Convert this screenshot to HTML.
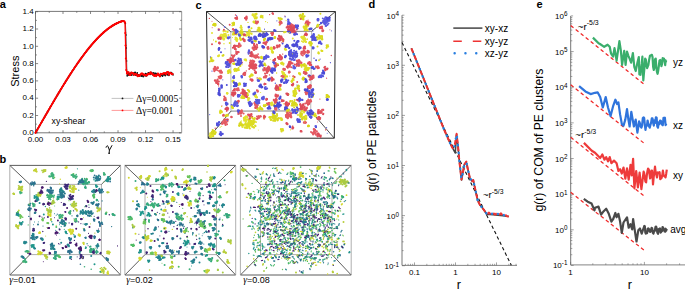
<!DOCTYPE html>
<html><head><meta charset="utf-8"><style>
html,body{margin:0;padding:0;background:#fff;width:685px;height:289px;overflow:hidden}
svg{display:block}
</style></head><body>
<svg width="685" height="289" viewBox="0 0 685 289">
<rect width="685" height="289" fill="#fff"/>
<text x="-0.3" y="8.2" font-size="11" text-anchor="start" font-family='"Liberation Sans", sans-serif' fill="#000" font-weight="bold">a</text>
<text x="-0.6" y="162.5" font-size="11" text-anchor="start" font-family='"Liberation Sans", sans-serif' fill="#000" font-weight="bold">b</text>
<text x="195.4" y="8.6" font-size="11" text-anchor="start" font-family='"Liberation Sans", sans-serif' fill="#000" font-weight="bold">c</text>
<text x="368.6" y="8.4" font-size="11" text-anchor="start" font-family='"Liberation Sans", sans-serif' fill="#000" font-weight="bold">d</text>
<text x="536.6" y="8.2" font-size="11" text-anchor="start" font-family='"Liberation Sans", sans-serif' fill="#000" font-weight="bold">e</text>
<line x1="35.5" y1="132.8" x2="181.6" y2="132.8" stroke="#555" stroke-width="0.8" />
<line x1="35.5" y1="11.4" x2="181.6" y2="11.4" stroke="#555" stroke-width="0.8" />
<line x1="35.5" y1="132.8" x2="35.5" y2="11.4" stroke="#555" stroke-width="0.8" />
<line x1="181.6" y1="132.8" x2="181.6" y2="11.4" stroke="#aaa" stroke-width="1.2" />
<line x1="35.5" y1="132.8" x2="35.5" y2="130.2" stroke="#555" stroke-width="0.7" />
<line x1="35.5" y1="11.4" x2="35.5" y2="14" stroke="#555" stroke-width="0.7" />
<line x1="49.25" y1="132.8" x2="49.25" y2="131.4" stroke="#555" stroke-width="0.7" />
<line x1="49.25" y1="11.4" x2="49.25" y2="12.8" stroke="#555" stroke-width="0.7" />
<line x1="63.01" y1="132.8" x2="63.01" y2="130.2" stroke="#555" stroke-width="0.7" />
<line x1="63.01" y1="11.4" x2="63.01" y2="14" stroke="#555" stroke-width="0.7" />
<line x1="76.77" y1="132.8" x2="76.77" y2="131.4" stroke="#555" stroke-width="0.7" />
<line x1="76.77" y1="11.4" x2="76.77" y2="12.8" stroke="#555" stroke-width="0.7" />
<line x1="90.52" y1="132.8" x2="90.52" y2="130.2" stroke="#555" stroke-width="0.7" />
<line x1="90.52" y1="11.4" x2="90.52" y2="14" stroke="#555" stroke-width="0.7" />
<line x1="104.27" y1="132.8" x2="104.27" y2="131.4" stroke="#555" stroke-width="0.7" />
<line x1="104.27" y1="11.4" x2="104.27" y2="12.8" stroke="#555" stroke-width="0.7" />
<line x1="118.03" y1="132.8" x2="118.03" y2="130.2" stroke="#555" stroke-width="0.7" />
<line x1="118.03" y1="11.4" x2="118.03" y2="14" stroke="#555" stroke-width="0.7" />
<line x1="131.78" y1="132.8" x2="131.78" y2="131.4" stroke="#555" stroke-width="0.7" />
<line x1="131.78" y1="11.4" x2="131.78" y2="12.8" stroke="#555" stroke-width="0.7" />
<line x1="145.54" y1="132.8" x2="145.54" y2="130.2" stroke="#555" stroke-width="0.7" />
<line x1="145.54" y1="11.4" x2="145.54" y2="14" stroke="#555" stroke-width="0.7" />
<line x1="159.3" y1="132.8" x2="159.3" y2="131.4" stroke="#555" stroke-width="0.7" />
<line x1="159.3" y1="11.4" x2="159.3" y2="12.8" stroke="#555" stroke-width="0.7" />
<line x1="173.05" y1="132.8" x2="173.05" y2="130.2" stroke="#555" stroke-width="0.7" />
<line x1="173.05" y1="11.4" x2="173.05" y2="14" stroke="#555" stroke-width="0.7" />
<line x1="35.5" y1="132.8" x2="38.1" y2="132.8" stroke="#555" stroke-width="0.7" />
<line x1="181.6" y1="132.8" x2="179" y2="132.8" stroke="#555" stroke-width="0.7" />
<line x1="35.5" y1="124.15" x2="36.9" y2="124.15" stroke="#555" stroke-width="0.7" />
<line x1="181.6" y1="124.15" x2="180.2" y2="124.15" stroke="#555" stroke-width="0.7" />
<line x1="35.5" y1="115.5" x2="38.1" y2="115.5" stroke="#555" stroke-width="0.7" />
<line x1="181.6" y1="115.5" x2="179" y2="115.5" stroke="#555" stroke-width="0.7" />
<line x1="35.5" y1="106.85" x2="36.9" y2="106.85" stroke="#555" stroke-width="0.7" />
<line x1="181.6" y1="106.85" x2="180.2" y2="106.85" stroke="#555" stroke-width="0.7" />
<line x1="35.5" y1="98.2" x2="38.1" y2="98.2" stroke="#555" stroke-width="0.7" />
<line x1="181.6" y1="98.2" x2="179" y2="98.2" stroke="#555" stroke-width="0.7" />
<line x1="35.5" y1="89.55" x2="36.9" y2="89.55" stroke="#555" stroke-width="0.7" />
<line x1="181.6" y1="89.55" x2="180.2" y2="89.55" stroke="#555" stroke-width="0.7" />
<line x1="35.5" y1="80.9" x2="38.1" y2="80.9" stroke="#555" stroke-width="0.7" />
<line x1="181.6" y1="80.9" x2="179" y2="80.9" stroke="#555" stroke-width="0.7" />
<line x1="35.5" y1="72.25" x2="36.9" y2="72.25" stroke="#555" stroke-width="0.7" />
<line x1="181.6" y1="72.25" x2="180.2" y2="72.25" stroke="#555" stroke-width="0.7" />
<line x1="35.5" y1="63.6" x2="38.1" y2="63.6" stroke="#555" stroke-width="0.7" />
<line x1="181.6" y1="63.6" x2="179" y2="63.6" stroke="#555" stroke-width="0.7" />
<line x1="35.5" y1="54.95" x2="36.9" y2="54.95" stroke="#555" stroke-width="0.7" />
<line x1="181.6" y1="54.95" x2="180.2" y2="54.95" stroke="#555" stroke-width="0.7" />
<line x1="35.5" y1="46.3" x2="38.1" y2="46.3" stroke="#555" stroke-width="0.7" />
<line x1="181.6" y1="46.3" x2="179" y2="46.3" stroke="#555" stroke-width="0.7" />
<line x1="35.5" y1="37.65" x2="36.9" y2="37.65" stroke="#555" stroke-width="0.7" />
<line x1="181.6" y1="37.65" x2="180.2" y2="37.65" stroke="#555" stroke-width="0.7" />
<line x1="35.5" y1="29" x2="38.1" y2="29" stroke="#555" stroke-width="0.7" />
<line x1="181.6" y1="29" x2="179" y2="29" stroke="#555" stroke-width="0.7" />
<line x1="35.5" y1="20.35" x2="36.9" y2="20.35" stroke="#555" stroke-width="0.7" />
<line x1="181.6" y1="20.35" x2="180.2" y2="20.35" stroke="#555" stroke-width="0.7" />
<line x1="35.5" y1="11.7" x2="38.1" y2="11.7" stroke="#555" stroke-width="0.7" />
<line x1="181.6" y1="11.7" x2="179" y2="11.7" stroke="#555" stroke-width="0.7" />
<text x="35.5" y="142" font-size="8" text-anchor="middle" font-family='"Liberation Sans", sans-serif' fill="#000" >0.00</text>
<text x="63.01" y="142" font-size="8" text-anchor="middle" font-family='"Liberation Sans", sans-serif' fill="#000" >0.03</text>
<text x="90.52" y="142" font-size="8" text-anchor="middle" font-family='"Liberation Sans", sans-serif' fill="#000" >0.06</text>
<text x="118.03" y="142" font-size="8" text-anchor="middle" font-family='"Liberation Sans", sans-serif' fill="#000" >0.09</text>
<text x="145.54" y="142" font-size="8" text-anchor="middle" font-family='"Liberation Sans", sans-serif' fill="#000" >0.12</text>
<text x="173.05" y="142" font-size="8" text-anchor="middle" font-family='"Liberation Sans", sans-serif' fill="#000" >0.15</text>
<text x="33.6" y="135" font-size="8" text-anchor="end" font-family='"Liberation Sans", sans-serif' fill="#000" >0.0</text>
<text x="33.6" y="117.7" font-size="8" text-anchor="end" font-family='"Liberation Sans", sans-serif' fill="#000" >0.2</text>
<text x="33.6" y="100.4" font-size="8" text-anchor="end" font-family='"Liberation Sans", sans-serif' fill="#000" >0.4</text>
<text x="33.6" y="83.1" font-size="8" text-anchor="end" font-family='"Liberation Sans", sans-serif' fill="#000" >0.6</text>
<text x="33.6" y="65.8" font-size="8" text-anchor="end" font-family='"Liberation Sans", sans-serif' fill="#000" >0.8</text>
<text x="33.6" y="48.5" font-size="8" text-anchor="end" font-family='"Liberation Sans", sans-serif' fill="#000" >1.0</text>
<text x="33.6" y="31.2" font-size="8" text-anchor="end" font-family='"Liberation Sans", sans-serif' fill="#000" >1.2</text>
<text x="33.6" y="13.9" font-size="8" text-anchor="end" font-family='"Liberation Sans", sans-serif' fill="#000" >1.4</text>
<text transform="translate(18.7,71.2) rotate(-90)" font-size="11" text-anchor="middle" font-family='"Liberation Sans", sans-serif'>Stress</text>
<path d="M106.1,147.3 C106.4,145.9 107.3,145.3 108,146.3 L109.4,150.2 M111.9,145.6 L109.4,150.2 L109.1,153.4" fill="none" stroke="#000" stroke-width="0.95" stroke-linecap="round"/><circle cx="109.1" cy="153.3" r="0.75"/>
<text x="51.6" y="123.9" font-size="8.8" text-anchor="start" font-family='"Liberation Sans", sans-serif' fill="#000" >xy-shear</text>
<polyline points="35.5,132.8 35.96,132.01 36.42,131.21 36.88,130.42 37.33,129.63 37.79,128.83 38.25,128.04 38.71,127.24 39.17,126.45 39.63,125.65 40.09,124.86 40.54,124.06 41,123.26 41.46,122.47 41.92,121.67 42.38,120.88 42.84,120.08 43.29,119.29 43.75,118.49 44.21,117.7 44.67,116.9 45.13,116.11 45.59,115.31 46.05,114.52 46.5,113.73 46.96,112.94 47.42,112.14 47.88,111.35 48.34,110.56 48.8,109.77 49.25,108.98 49.71,108.2 50.17,107.41 50.63,106.62 51.09,105.84 51.55,105.05 52.01,104.27 52.46,103.48 52.92,102.7 53.38,101.92 53.84,101.14 54.3,100.36 54.76,99.59 55.22,98.81 55.67,98.03 56.13,97.26 56.59,96.49 57.05,95.72 57.51,94.95 57.97,94.18 58.42,93.42 58.88,92.65 59.34,91.89 59.8,91.13 60.26,90.37 60.72,89.61 61.18,88.86 61.63,88.1 62.09,87.35 62.55,86.6 63.01,85.85 63.47,85.1 63.93,84.36 64.39,83.62 64.84,82.88 65.3,82.14 65.76,81.41 66.22,80.67 66.68,79.94 67.14,79.21 67.59,78.49 68.05,77.76 68.51,77.04 68.97,76.32 69.43,75.61 69.89,74.89 70.35,74.18 70.8,73.47 71.26,72.77 71.72,72.07 72.18,71.37 72.64,70.67 73.1,69.98 73.56,69.28 74.01,68.6 74.47,67.91 74.93,67.23 75.39,66.55 75.85,65.87 76.31,65.2 76.77,64.53 77.22,63.87 77.68,63.2 78.14,62.54 78.6,61.89 79.06,61.23 79.52,60.58 79.97,59.94 80.43,59.3 80.89,58.66 81.35,58.02 81.81,57.39 82.27,56.76 82.73,56.14 83.18,55.52 83.64,54.9 84.1,54.29 84.56,53.68 85.02,53.08 85.48,52.48 85.94,51.88 86.39,51.29 86.85,50.7 87.31,50.12 87.77,49.54 88.23,48.97 88.69,48.39 89.14,47.83 89.6,47.27 90.06,46.71 90.52,46.16 90.98,45.61 91.44,45.06 91.9,44.52 92.35,43.99 92.81,43.46 93.27,42.93 93.73,42.41 94.19,41.9 94.65,41.39 95.11,40.88 95.56,40.38 96.02,39.88 96.48,39.39 96.94,38.91 97.4,38.42 97.86,37.95 98.31,37.48 98.77,37.01 99.23,36.55 99.69,36.1 100.15,35.65 100.61,35.2 101.07,34.77 101.52,34.33 101.98,33.91 102.44,33.48 102.9,33.07 103.36,32.66 103.82,32.25 104.27,31.85 104.73,31.46 105.19,31.07 105.65,30.69 106.11,30.31 106.57,29.94 107.03,29.58 107.48,29.22 107.94,28.87 108.4,28.53 108.86,28.19 109.32,27.85 109.78,27.53 110.24,27.21 110.69,26.89 111.15,26.58 111.61,26.28 112.07,25.99 112.53,25.7 112.99,25.42 113.45,25.14 113.9,24.87 114.36,24.61 114.82,24.35 115.28,24.1 115.74,23.86 116.2,23.63 116.65,23.4 117.11,23.18 117.57,22.96 118.03,22.76 118.49,22.56 118.95,22.36 119.41,22.18 119.86,22 120.32,21.82 120.78,21.66 121.24,21.5 121.7,21.35 122.16,21.21 122.61,21.07 123.07,20.95 124.2,21.6 125.4,23.5 126,35 126.3,48 126.6,61 126.9,71.5 127.4,73.8 127.2,75.9 127.66,73.56 128.12,73.69 128.58,75.15 129.03,74.27 129.49,74.29 129.95,73.54 130.41,73 130.87,75.07 131.33,75.19 131.79,72.6 132.24,73.81 132.7,72.75 133.16,75.1 133.62,73.72 134.08,72.89 134.54,74.46 134.99,72.29 135.45,72.51 135.91,75.31 136.37,75.43 136.83,73.94 137.29,72.82 137.75,74.69 138.2,75.33 138.66,74.82 139.12,76.17 139.58,75.69 140.04,75.12 140.5,75.04 140.96,75.94 141.41,76.02 141.87,76.11 142.33,75.39 142.79,75.93 143.25,76.76 143.71,74.19 144.16,75.03 144.62,74.7 145.08,76.04 145.54,73.44 146,73.74 146.46,75.93 146.92,75.15 147.37,73.81 147.83,73.71 148.29,72.88 148.75,74.36 149.21,72.97 149.67,73.36 150.13,74.4 150.58,73.44 151.04,72.45 151.5,72.51 151.96,73.54 152.42,73.27 152.88,75 153.33,74.38 153.79,72.7 154.25,73.96 154.71,74.79 155.17,73.71 155.63,73.33 156.09,73.54 156.54,74.6 157,74.52 157.46,74.44 157.92,73.73 158.38,74.65 158.84,75.17 159.3,74.97 159.75,76.5 160.21,76.54 160.67,74.55 161.13,73.73 161.59,74.98 162.05,75.61 162.5,76.3 162.96,75.23 163.42,73.69 163.88,74.29 164.34,74.93 164.8,73.84 165.26,75.69 165.71,74.69 166.17,73.2 166.63,74.24 167.09,74.48 167.55,74.94 168.01,73.95 168.47,72.56 168.92,75.42 169.38,72.9 169.84,72.7 170.3,72.43 170.76,72.84 171.22,72.59 171.67,73.49 172.13,73.37 172.59,73.82 173.05,75.01" fill="none" stroke="#222" stroke-width="0.7" stroke-linejoin="round" />
<circle cx="35.5" cy="132.8" r="0.8" fill="#111"/>
<circle cx="35.96" cy="132.01" r="0.8" fill="#111"/>
<circle cx="36.42" cy="131.21" r="0.8" fill="#111"/>
<circle cx="36.88" cy="130.42" r="0.8" fill="#111"/>
<circle cx="37.33" cy="129.63" r="0.8" fill="#111"/>
<circle cx="37.79" cy="128.83" r="0.8" fill="#111"/>
<circle cx="38.25" cy="128.04" r="0.8" fill="#111"/>
<circle cx="38.71" cy="127.24" r="0.8" fill="#111"/>
<circle cx="39.17" cy="126.45" r="0.8" fill="#111"/>
<circle cx="39.63" cy="125.65" r="0.8" fill="#111"/>
<circle cx="40.09" cy="124.86" r="0.8" fill="#111"/>
<circle cx="40.54" cy="124.06" r="0.8" fill="#111"/>
<circle cx="41" cy="123.26" r="0.8" fill="#111"/>
<circle cx="41.46" cy="122.47" r="0.8" fill="#111"/>
<circle cx="41.92" cy="121.67" r="0.8" fill="#111"/>
<circle cx="42.38" cy="120.88" r="0.8" fill="#111"/>
<circle cx="42.84" cy="120.08" r="0.8" fill="#111"/>
<circle cx="43.29" cy="119.29" r="0.8" fill="#111"/>
<circle cx="43.75" cy="118.49" r="0.8" fill="#111"/>
<circle cx="44.21" cy="117.7" r="0.8" fill="#111"/>
<circle cx="44.67" cy="116.9" r="0.8" fill="#111"/>
<circle cx="45.13" cy="116.11" r="0.8" fill="#111"/>
<circle cx="45.59" cy="115.31" r="0.8" fill="#111"/>
<circle cx="46.05" cy="114.52" r="0.8" fill="#111"/>
<circle cx="46.5" cy="113.73" r="0.8" fill="#111"/>
<circle cx="46.96" cy="112.94" r="0.8" fill="#111"/>
<circle cx="47.42" cy="112.14" r="0.8" fill="#111"/>
<circle cx="47.88" cy="111.35" r="0.8" fill="#111"/>
<circle cx="48.34" cy="110.56" r="0.8" fill="#111"/>
<circle cx="48.8" cy="109.77" r="0.8" fill="#111"/>
<circle cx="49.25" cy="108.98" r="0.8" fill="#111"/>
<circle cx="49.71" cy="108.2" r="0.8" fill="#111"/>
<circle cx="50.17" cy="107.41" r="0.8" fill="#111"/>
<circle cx="50.63" cy="106.62" r="0.8" fill="#111"/>
<circle cx="51.09" cy="105.84" r="0.8" fill="#111"/>
<circle cx="51.55" cy="105.05" r="0.8" fill="#111"/>
<circle cx="52.01" cy="104.27" r="0.8" fill="#111"/>
<circle cx="52.46" cy="103.48" r="0.8" fill="#111"/>
<circle cx="52.92" cy="102.7" r="0.8" fill="#111"/>
<circle cx="53.38" cy="101.92" r="0.8" fill="#111"/>
<circle cx="53.84" cy="101.14" r="0.8" fill="#111"/>
<circle cx="54.3" cy="100.36" r="0.8" fill="#111"/>
<circle cx="54.76" cy="99.59" r="0.8" fill="#111"/>
<circle cx="55.22" cy="98.81" r="0.8" fill="#111"/>
<circle cx="55.67" cy="98.03" r="0.8" fill="#111"/>
<circle cx="56.13" cy="97.26" r="0.8" fill="#111"/>
<circle cx="56.59" cy="96.49" r="0.8" fill="#111"/>
<circle cx="57.05" cy="95.72" r="0.8" fill="#111"/>
<circle cx="57.51" cy="94.95" r="0.8" fill="#111"/>
<circle cx="57.97" cy="94.18" r="0.8" fill="#111"/>
<circle cx="58.42" cy="93.42" r="0.8" fill="#111"/>
<circle cx="58.88" cy="92.65" r="0.8" fill="#111"/>
<circle cx="59.34" cy="91.89" r="0.8" fill="#111"/>
<circle cx="59.8" cy="91.13" r="0.8" fill="#111"/>
<circle cx="60.26" cy="90.37" r="0.8" fill="#111"/>
<circle cx="60.72" cy="89.61" r="0.8" fill="#111"/>
<circle cx="61.18" cy="88.86" r="0.8" fill="#111"/>
<circle cx="61.63" cy="88.1" r="0.8" fill="#111"/>
<circle cx="62.09" cy="87.35" r="0.8" fill="#111"/>
<circle cx="62.55" cy="86.6" r="0.8" fill="#111"/>
<circle cx="63.01" cy="85.85" r="0.8" fill="#111"/>
<circle cx="63.47" cy="85.1" r="0.8" fill="#111"/>
<circle cx="63.93" cy="84.36" r="0.8" fill="#111"/>
<circle cx="64.39" cy="83.62" r="0.8" fill="#111"/>
<circle cx="64.84" cy="82.88" r="0.8" fill="#111"/>
<circle cx="65.3" cy="82.14" r="0.8" fill="#111"/>
<circle cx="65.76" cy="81.41" r="0.8" fill="#111"/>
<circle cx="66.22" cy="80.67" r="0.8" fill="#111"/>
<circle cx="66.68" cy="79.94" r="0.8" fill="#111"/>
<circle cx="67.14" cy="79.21" r="0.8" fill="#111"/>
<circle cx="67.59" cy="78.49" r="0.8" fill="#111"/>
<circle cx="68.05" cy="77.76" r="0.8" fill="#111"/>
<circle cx="68.51" cy="77.04" r="0.8" fill="#111"/>
<circle cx="68.97" cy="76.32" r="0.8" fill="#111"/>
<circle cx="69.43" cy="75.61" r="0.8" fill="#111"/>
<circle cx="69.89" cy="74.89" r="0.8" fill="#111"/>
<circle cx="70.35" cy="74.18" r="0.8" fill="#111"/>
<circle cx="70.8" cy="73.47" r="0.8" fill="#111"/>
<circle cx="71.26" cy="72.77" r="0.8" fill="#111"/>
<circle cx="71.72" cy="72.07" r="0.8" fill="#111"/>
<circle cx="72.18" cy="71.37" r="0.8" fill="#111"/>
<circle cx="72.64" cy="70.67" r="0.8" fill="#111"/>
<circle cx="73.1" cy="69.98" r="0.8" fill="#111"/>
<circle cx="73.56" cy="69.28" r="0.8" fill="#111"/>
<circle cx="74.01" cy="68.6" r="0.8" fill="#111"/>
<circle cx="74.47" cy="67.91" r="0.8" fill="#111"/>
<circle cx="74.93" cy="67.23" r="0.8" fill="#111"/>
<circle cx="75.39" cy="66.55" r="0.8" fill="#111"/>
<circle cx="75.85" cy="65.87" r="0.8" fill="#111"/>
<circle cx="76.31" cy="65.2" r="0.8" fill="#111"/>
<circle cx="76.77" cy="64.53" r="0.8" fill="#111"/>
<circle cx="77.22" cy="63.87" r="0.8" fill="#111"/>
<circle cx="77.68" cy="63.2" r="0.8" fill="#111"/>
<circle cx="78.14" cy="62.54" r="0.8" fill="#111"/>
<circle cx="78.6" cy="61.89" r="0.8" fill="#111"/>
<circle cx="79.06" cy="61.23" r="0.8" fill="#111"/>
<circle cx="79.52" cy="60.58" r="0.8" fill="#111"/>
<circle cx="79.97" cy="59.94" r="0.8" fill="#111"/>
<circle cx="80.43" cy="59.3" r="0.8" fill="#111"/>
<circle cx="80.89" cy="58.66" r="0.8" fill="#111"/>
<circle cx="81.35" cy="58.02" r="0.8" fill="#111"/>
<circle cx="81.81" cy="57.39" r="0.8" fill="#111"/>
<circle cx="82.27" cy="56.76" r="0.8" fill="#111"/>
<circle cx="82.73" cy="56.14" r="0.8" fill="#111"/>
<circle cx="83.18" cy="55.52" r="0.8" fill="#111"/>
<circle cx="83.64" cy="54.9" r="0.8" fill="#111"/>
<circle cx="84.1" cy="54.29" r="0.8" fill="#111"/>
<circle cx="84.56" cy="53.68" r="0.8" fill="#111"/>
<circle cx="85.02" cy="53.08" r="0.8" fill="#111"/>
<circle cx="85.48" cy="52.48" r="0.8" fill="#111"/>
<circle cx="85.94" cy="51.88" r="0.8" fill="#111"/>
<circle cx="86.39" cy="51.29" r="0.8" fill="#111"/>
<circle cx="86.85" cy="50.7" r="0.8" fill="#111"/>
<circle cx="87.31" cy="50.12" r="0.8" fill="#111"/>
<circle cx="87.77" cy="49.54" r="0.8" fill="#111"/>
<circle cx="88.23" cy="48.97" r="0.8" fill="#111"/>
<circle cx="88.69" cy="48.39" r="0.8" fill="#111"/>
<circle cx="89.14" cy="47.83" r="0.8" fill="#111"/>
<circle cx="89.6" cy="47.27" r="0.8" fill="#111"/>
<circle cx="90.06" cy="46.71" r="0.8" fill="#111"/>
<circle cx="90.52" cy="46.16" r="0.8" fill="#111"/>
<circle cx="90.98" cy="45.61" r="0.8" fill="#111"/>
<circle cx="91.44" cy="45.06" r="0.8" fill="#111"/>
<circle cx="91.9" cy="44.52" r="0.8" fill="#111"/>
<circle cx="92.35" cy="43.99" r="0.8" fill="#111"/>
<circle cx="92.81" cy="43.46" r="0.8" fill="#111"/>
<circle cx="93.27" cy="42.93" r="0.8" fill="#111"/>
<circle cx="93.73" cy="42.41" r="0.8" fill="#111"/>
<circle cx="94.19" cy="41.9" r="0.8" fill="#111"/>
<circle cx="94.65" cy="41.39" r="0.8" fill="#111"/>
<circle cx="95.11" cy="40.88" r="0.8" fill="#111"/>
<circle cx="95.56" cy="40.38" r="0.8" fill="#111"/>
<circle cx="96.02" cy="39.88" r="0.8" fill="#111"/>
<circle cx="96.48" cy="39.39" r="0.8" fill="#111"/>
<circle cx="96.94" cy="38.91" r="0.8" fill="#111"/>
<circle cx="97.4" cy="38.42" r="0.8" fill="#111"/>
<circle cx="97.86" cy="37.95" r="0.8" fill="#111"/>
<circle cx="98.31" cy="37.48" r="0.8" fill="#111"/>
<circle cx="98.77" cy="37.01" r="0.8" fill="#111"/>
<circle cx="99.23" cy="36.55" r="0.8" fill="#111"/>
<circle cx="99.69" cy="36.1" r="0.8" fill="#111"/>
<circle cx="100.15" cy="35.65" r="0.8" fill="#111"/>
<circle cx="100.61" cy="35.2" r="0.8" fill="#111"/>
<circle cx="101.07" cy="34.77" r="0.8" fill="#111"/>
<circle cx="101.52" cy="34.33" r="0.8" fill="#111"/>
<circle cx="101.98" cy="33.91" r="0.8" fill="#111"/>
<circle cx="102.44" cy="33.48" r="0.8" fill="#111"/>
<circle cx="102.9" cy="33.07" r="0.8" fill="#111"/>
<circle cx="103.36" cy="32.66" r="0.8" fill="#111"/>
<circle cx="103.82" cy="32.25" r="0.8" fill="#111"/>
<circle cx="104.27" cy="31.85" r="0.8" fill="#111"/>
<circle cx="104.73" cy="31.46" r="0.8" fill="#111"/>
<circle cx="105.19" cy="31.07" r="0.8" fill="#111"/>
<circle cx="105.65" cy="30.69" r="0.8" fill="#111"/>
<circle cx="106.11" cy="30.31" r="0.8" fill="#111"/>
<circle cx="106.57" cy="29.94" r="0.8" fill="#111"/>
<circle cx="107.03" cy="29.58" r="0.8" fill="#111"/>
<circle cx="107.48" cy="29.22" r="0.8" fill="#111"/>
<circle cx="107.94" cy="28.87" r="0.8" fill="#111"/>
<circle cx="108.4" cy="28.53" r="0.8" fill="#111"/>
<circle cx="108.86" cy="28.19" r="0.8" fill="#111"/>
<circle cx="109.32" cy="27.85" r="0.8" fill="#111"/>
<circle cx="109.78" cy="27.53" r="0.8" fill="#111"/>
<circle cx="110.24" cy="27.21" r="0.8" fill="#111"/>
<circle cx="110.69" cy="26.89" r="0.8" fill="#111"/>
<circle cx="111.15" cy="26.58" r="0.8" fill="#111"/>
<circle cx="111.61" cy="26.28" r="0.8" fill="#111"/>
<circle cx="112.07" cy="25.99" r="0.8" fill="#111"/>
<circle cx="112.53" cy="25.7" r="0.8" fill="#111"/>
<circle cx="112.99" cy="25.42" r="0.8" fill="#111"/>
<circle cx="113.45" cy="25.14" r="0.8" fill="#111"/>
<circle cx="113.9" cy="24.87" r="0.8" fill="#111"/>
<circle cx="114.36" cy="24.61" r="0.8" fill="#111"/>
<circle cx="114.82" cy="24.35" r="0.8" fill="#111"/>
<circle cx="115.28" cy="24.1" r="0.8" fill="#111"/>
<circle cx="115.74" cy="23.86" r="0.8" fill="#111"/>
<circle cx="116.2" cy="23.63" r="0.8" fill="#111"/>
<circle cx="116.65" cy="23.4" r="0.8" fill="#111"/>
<circle cx="117.11" cy="23.18" r="0.8" fill="#111"/>
<circle cx="117.57" cy="22.96" r="0.8" fill="#111"/>
<circle cx="118.03" cy="22.76" r="0.8" fill="#111"/>
<circle cx="118.49" cy="22.56" r="0.8" fill="#111"/>
<circle cx="118.95" cy="22.36" r="0.8" fill="#111"/>
<circle cx="119.41" cy="22.18" r="0.8" fill="#111"/>
<circle cx="119.86" cy="22" r="0.8" fill="#111"/>
<circle cx="120.32" cy="21.82" r="0.8" fill="#111"/>
<circle cx="120.78" cy="21.66" r="0.8" fill="#111"/>
<circle cx="121.24" cy="21.5" r="0.8" fill="#111"/>
<circle cx="121.7" cy="21.35" r="0.8" fill="#111"/>
<circle cx="122.16" cy="21.21" r="0.8" fill="#111"/>
<circle cx="122.61" cy="21.07" r="0.8" fill="#111"/>
<circle cx="123.07" cy="20.95" r="0.8" fill="#111"/>
<circle cx="124.2" cy="21.6" r="0.8" fill="#111"/>
<circle cx="125.4" cy="23.5" r="0.8" fill="#111"/>
<circle cx="126" cy="35" r="0.8" fill="#111"/>
<circle cx="126.3" cy="48" r="0.8" fill="#111"/>
<circle cx="126.6" cy="61" r="0.8" fill="#111"/>
<circle cx="126.9" cy="71.5" r="0.8" fill="#111"/>
<circle cx="127.4" cy="73.8" r="0.8" fill="#111"/>
<circle cx="127.2" cy="75.9" r="0.8" fill="#111"/>
<circle cx="127.66" cy="73.56" r="0.8" fill="#111"/>
<circle cx="128.12" cy="73.69" r="0.8" fill="#111"/>
<circle cx="128.58" cy="75.15" r="0.8" fill="#111"/>
<circle cx="129.03" cy="74.27" r="0.8" fill="#111"/>
<circle cx="129.49" cy="74.29" r="0.8" fill="#111"/>
<circle cx="129.95" cy="73.54" r="0.8" fill="#111"/>
<circle cx="130.41" cy="73" r="0.8" fill="#111"/>
<circle cx="130.87" cy="75.07" r="0.8" fill="#111"/>
<circle cx="131.33" cy="75.19" r="0.8" fill="#111"/>
<circle cx="131.79" cy="72.6" r="0.8" fill="#111"/>
<circle cx="132.24" cy="73.81" r="0.8" fill="#111"/>
<circle cx="132.7" cy="72.75" r="0.8" fill="#111"/>
<circle cx="133.16" cy="75.1" r="0.8" fill="#111"/>
<circle cx="133.62" cy="73.72" r="0.8" fill="#111"/>
<circle cx="134.08" cy="72.89" r="0.8" fill="#111"/>
<circle cx="134.54" cy="74.46" r="0.8" fill="#111"/>
<circle cx="134.99" cy="72.29" r="0.8" fill="#111"/>
<circle cx="135.45" cy="72.51" r="0.8" fill="#111"/>
<circle cx="135.91" cy="75.31" r="0.8" fill="#111"/>
<circle cx="136.37" cy="75.43" r="0.8" fill="#111"/>
<circle cx="136.83" cy="73.94" r="0.8" fill="#111"/>
<circle cx="137.29" cy="72.82" r="0.8" fill="#111"/>
<circle cx="137.75" cy="74.69" r="0.8" fill="#111"/>
<circle cx="138.2" cy="75.33" r="0.8" fill="#111"/>
<circle cx="138.66" cy="74.82" r="0.8" fill="#111"/>
<circle cx="139.12" cy="76.17" r="0.8" fill="#111"/>
<circle cx="139.58" cy="75.69" r="0.8" fill="#111"/>
<circle cx="140.04" cy="75.12" r="0.8" fill="#111"/>
<circle cx="140.5" cy="75.04" r="0.8" fill="#111"/>
<circle cx="140.96" cy="75.94" r="0.8" fill="#111"/>
<circle cx="141.41" cy="76.02" r="0.8" fill="#111"/>
<circle cx="141.87" cy="76.11" r="0.8" fill="#111"/>
<circle cx="142.33" cy="75.39" r="0.8" fill="#111"/>
<circle cx="142.79" cy="75.93" r="0.8" fill="#111"/>
<circle cx="143.25" cy="76.76" r="0.8" fill="#111"/>
<circle cx="143.71" cy="74.19" r="0.8" fill="#111"/>
<circle cx="144.16" cy="75.03" r="0.8" fill="#111"/>
<circle cx="144.62" cy="74.7" r="0.8" fill="#111"/>
<circle cx="145.08" cy="76.04" r="0.8" fill="#111"/>
<circle cx="145.54" cy="73.44" r="0.8" fill="#111"/>
<circle cx="146" cy="73.74" r="0.8" fill="#111"/>
<circle cx="146.46" cy="75.93" r="0.8" fill="#111"/>
<circle cx="146.92" cy="75.15" r="0.8" fill="#111"/>
<circle cx="147.37" cy="73.81" r="0.8" fill="#111"/>
<circle cx="147.83" cy="73.71" r="0.8" fill="#111"/>
<circle cx="148.29" cy="72.88" r="0.8" fill="#111"/>
<circle cx="148.75" cy="74.36" r="0.8" fill="#111"/>
<circle cx="149.21" cy="72.97" r="0.8" fill="#111"/>
<circle cx="149.67" cy="73.36" r="0.8" fill="#111"/>
<circle cx="150.13" cy="74.4" r="0.8" fill="#111"/>
<circle cx="150.58" cy="73.44" r="0.8" fill="#111"/>
<circle cx="151.04" cy="72.45" r="0.8" fill="#111"/>
<circle cx="151.5" cy="72.51" r="0.8" fill="#111"/>
<circle cx="151.96" cy="73.54" r="0.8" fill="#111"/>
<circle cx="152.42" cy="73.27" r="0.8" fill="#111"/>
<circle cx="152.88" cy="75" r="0.8" fill="#111"/>
<circle cx="153.33" cy="74.38" r="0.8" fill="#111"/>
<circle cx="153.79" cy="72.7" r="0.8" fill="#111"/>
<circle cx="154.25" cy="73.96" r="0.8" fill="#111"/>
<circle cx="154.71" cy="74.79" r="0.8" fill="#111"/>
<circle cx="155.17" cy="73.71" r="0.8" fill="#111"/>
<circle cx="155.63" cy="73.33" r="0.8" fill="#111"/>
<circle cx="156.09" cy="73.54" r="0.8" fill="#111"/>
<circle cx="156.54" cy="74.6" r="0.8" fill="#111"/>
<circle cx="157" cy="74.52" r="0.8" fill="#111"/>
<circle cx="157.46" cy="74.44" r="0.8" fill="#111"/>
<circle cx="157.92" cy="73.73" r="0.8" fill="#111"/>
<circle cx="158.38" cy="74.65" r="0.8" fill="#111"/>
<circle cx="158.84" cy="75.17" r="0.8" fill="#111"/>
<circle cx="159.3" cy="74.97" r="0.8" fill="#111"/>
<circle cx="159.75" cy="76.5" r="0.8" fill="#111"/>
<circle cx="160.21" cy="76.54" r="0.8" fill="#111"/>
<circle cx="160.67" cy="74.55" r="0.8" fill="#111"/>
<circle cx="161.13" cy="73.73" r="0.8" fill="#111"/>
<circle cx="161.59" cy="74.98" r="0.8" fill="#111"/>
<circle cx="162.05" cy="75.61" r="0.8" fill="#111"/>
<circle cx="162.5" cy="76.3" r="0.8" fill="#111"/>
<circle cx="162.96" cy="75.23" r="0.8" fill="#111"/>
<circle cx="163.42" cy="73.69" r="0.8" fill="#111"/>
<circle cx="163.88" cy="74.29" r="0.8" fill="#111"/>
<circle cx="164.34" cy="74.93" r="0.8" fill="#111"/>
<circle cx="164.8" cy="73.84" r="0.8" fill="#111"/>
<circle cx="165.26" cy="75.69" r="0.8" fill="#111"/>
<circle cx="165.71" cy="74.69" r="0.8" fill="#111"/>
<circle cx="166.17" cy="73.2" r="0.8" fill="#111"/>
<circle cx="166.63" cy="74.24" r="0.8" fill="#111"/>
<circle cx="167.09" cy="74.48" r="0.8" fill="#111"/>
<circle cx="167.55" cy="74.94" r="0.8" fill="#111"/>
<circle cx="168.01" cy="73.95" r="0.8" fill="#111"/>
<circle cx="168.47" cy="72.56" r="0.8" fill="#111"/>
<circle cx="168.92" cy="75.42" r="0.8" fill="#111"/>
<circle cx="169.38" cy="72.9" r="0.8" fill="#111"/>
<circle cx="169.84" cy="72.7" r="0.8" fill="#111"/>
<circle cx="170.3" cy="72.43" r="0.8" fill="#111"/>
<circle cx="170.76" cy="72.84" r="0.8" fill="#111"/>
<circle cx="171.22" cy="72.59" r="0.8" fill="#111"/>
<circle cx="171.67" cy="73.49" r="0.8" fill="#111"/>
<circle cx="172.13" cy="73.37" r="0.8" fill="#111"/>
<circle cx="172.59" cy="73.82" r="0.8" fill="#111"/>
<circle cx="173.05" cy="75.01" r="0.8" fill="#111"/>
<polyline points="35.5,132.8 36.42,131.21 37.33,129.63 38.25,128.04 39.17,126.45 40.09,124.86 41,123.26 41.92,121.67 42.84,120.08 43.75,118.49 44.67,116.9 45.59,115.31 46.5,113.73 47.42,112.14 48.34,110.56 49.25,108.98 50.17,107.41 51.09,105.84 52.01,104.27 52.92,102.7 53.84,101.14 54.76,99.59 55.67,98.03 56.59,96.49 57.51,94.95 58.42,93.42 59.34,91.89 60.26,90.37 61.18,88.86 62.09,87.35 63.01,85.85 63.93,84.36 64.84,82.88 65.76,81.41 66.68,79.94 67.59,78.49 68.51,77.04 69.43,75.61 70.35,74.18 71.26,72.77 72.18,71.37 73.1,69.98 74.01,68.6 74.93,67.23 75.85,65.87 76.77,64.53 77.68,63.2 78.6,61.89 79.52,60.58 80.43,59.3 81.35,58.02 82.27,56.76 83.18,55.52 84.1,54.29 85.02,53.08 85.94,51.88 86.85,50.7 87.77,49.54 88.69,48.39 89.6,47.27 90.52,46.16 91.44,45.06 92.35,43.99 93.27,42.93 94.19,41.9 95.11,40.88 96.02,39.88 96.94,38.91 97.86,37.95 98.77,37.01 99.69,36.1 100.61,35.2 101.52,34.33 102.44,33.48 103.36,32.66 104.27,31.85 105.19,31.07 106.11,30.31 107.03,29.58 107.94,28.87 108.86,28.19 109.78,27.53 110.69,26.89 111.61,26.28 112.53,25.7 113.45,25.14 114.36,24.61 115.28,24.1 116.2,23.63 117.11,23.18 118.03,22.76 118.95,22.36 119.86,22 120.78,21.66 121.7,21.35 122.61,21.07 124.3,21.4 125,22.6 125.3,33 125.6,45.5 125.9,58.5 126.3,70 127,73.6 127.66,72.41 128.58,72.27 129.49,74.95 130.41,74.84 131.33,72.56 132.24,73 133.16,73.39 134.08,74.75 134.99,74.08 135.91,74.33 136.83,74.64 137.75,76.15 138.66,75.43 139.58,75.61 140.5,74.56 141.41,73.62 142.33,73.6 143.25,74.65 144.16,74.71 145.08,75 146,75.48 146.92,75.29 147.83,73.77 148.75,74.13 149.67,73.92 150.58,72.39 151.5,73.66 152.42,73.74 153.33,74.99 154.25,75.9 155.17,75.22 156.09,76.04 157,75.06 157.92,73.67 158.84,74.73 159.75,76.24 160.67,73.93 161.59,74.07 162.5,74.04 163.42,73.26 164.34,73.45 165.26,73.12 166.17,74.27 167.09,72.16 168.01,72.13 168.92,74.61 169.84,72.82 170.76,73.08 171.67,74.06 172.59,74.08" fill="none" stroke="#f00" stroke-width="1.3" stroke-linejoin="round" />
<circle cx="35.5" cy="132.8" r="1.1" fill="#f00"/>
<circle cx="36.42" cy="131.21" r="1.1" fill="#f00"/>
<circle cx="37.33" cy="129.63" r="1.1" fill="#f00"/>
<circle cx="38.25" cy="128.04" r="1.1" fill="#f00"/>
<circle cx="39.17" cy="126.45" r="1.1" fill="#f00"/>
<circle cx="40.09" cy="124.86" r="1.1" fill="#f00"/>
<circle cx="41" cy="123.26" r="1.1" fill="#f00"/>
<circle cx="41.92" cy="121.67" r="1.1" fill="#f00"/>
<circle cx="42.84" cy="120.08" r="1.1" fill="#f00"/>
<circle cx="43.75" cy="118.49" r="1.1" fill="#f00"/>
<circle cx="44.67" cy="116.9" r="1.1" fill="#f00"/>
<circle cx="45.59" cy="115.31" r="1.1" fill="#f00"/>
<circle cx="46.5" cy="113.73" r="1.1" fill="#f00"/>
<circle cx="47.42" cy="112.14" r="1.1" fill="#f00"/>
<circle cx="48.34" cy="110.56" r="1.1" fill="#f00"/>
<circle cx="49.25" cy="108.98" r="1.1" fill="#f00"/>
<circle cx="50.17" cy="107.41" r="1.1" fill="#f00"/>
<circle cx="51.09" cy="105.84" r="1.1" fill="#f00"/>
<circle cx="52.01" cy="104.27" r="1.1" fill="#f00"/>
<circle cx="52.92" cy="102.7" r="1.1" fill="#f00"/>
<circle cx="53.84" cy="101.14" r="1.1" fill="#f00"/>
<circle cx="54.76" cy="99.59" r="1.1" fill="#f00"/>
<circle cx="55.67" cy="98.03" r="1.1" fill="#f00"/>
<circle cx="56.59" cy="96.49" r="1.1" fill="#f00"/>
<circle cx="57.51" cy="94.95" r="1.1" fill="#f00"/>
<circle cx="58.42" cy="93.42" r="1.1" fill="#f00"/>
<circle cx="59.34" cy="91.89" r="1.1" fill="#f00"/>
<circle cx="60.26" cy="90.37" r="1.1" fill="#f00"/>
<circle cx="61.18" cy="88.86" r="1.1" fill="#f00"/>
<circle cx="62.09" cy="87.35" r="1.1" fill="#f00"/>
<circle cx="63.01" cy="85.85" r="1.1" fill="#f00"/>
<circle cx="63.93" cy="84.36" r="1.1" fill="#f00"/>
<circle cx="64.84" cy="82.88" r="1.1" fill="#f00"/>
<circle cx="65.76" cy="81.41" r="1.1" fill="#f00"/>
<circle cx="66.68" cy="79.94" r="1.1" fill="#f00"/>
<circle cx="67.59" cy="78.49" r="1.1" fill="#f00"/>
<circle cx="68.51" cy="77.04" r="1.1" fill="#f00"/>
<circle cx="69.43" cy="75.61" r="1.1" fill="#f00"/>
<circle cx="70.35" cy="74.18" r="1.1" fill="#f00"/>
<circle cx="71.26" cy="72.77" r="1.1" fill="#f00"/>
<circle cx="72.18" cy="71.37" r="1.1" fill="#f00"/>
<circle cx="73.1" cy="69.98" r="1.1" fill="#f00"/>
<circle cx="74.01" cy="68.6" r="1.1" fill="#f00"/>
<circle cx="74.93" cy="67.23" r="1.1" fill="#f00"/>
<circle cx="75.85" cy="65.87" r="1.1" fill="#f00"/>
<circle cx="76.77" cy="64.53" r="1.1" fill="#f00"/>
<circle cx="77.68" cy="63.2" r="1.1" fill="#f00"/>
<circle cx="78.6" cy="61.89" r="1.1" fill="#f00"/>
<circle cx="79.52" cy="60.58" r="1.1" fill="#f00"/>
<circle cx="80.43" cy="59.3" r="1.1" fill="#f00"/>
<circle cx="81.35" cy="58.02" r="1.1" fill="#f00"/>
<circle cx="82.27" cy="56.76" r="1.1" fill="#f00"/>
<circle cx="83.18" cy="55.52" r="1.1" fill="#f00"/>
<circle cx="84.1" cy="54.29" r="1.1" fill="#f00"/>
<circle cx="85.02" cy="53.08" r="1.1" fill="#f00"/>
<circle cx="85.94" cy="51.88" r="1.1" fill="#f00"/>
<circle cx="86.85" cy="50.7" r="1.1" fill="#f00"/>
<circle cx="87.77" cy="49.54" r="1.1" fill="#f00"/>
<circle cx="88.69" cy="48.39" r="1.1" fill="#f00"/>
<circle cx="89.6" cy="47.27" r="1.1" fill="#f00"/>
<circle cx="90.52" cy="46.16" r="1.1" fill="#f00"/>
<circle cx="91.44" cy="45.06" r="1.1" fill="#f00"/>
<circle cx="92.35" cy="43.99" r="1.1" fill="#f00"/>
<circle cx="93.27" cy="42.93" r="1.1" fill="#f00"/>
<circle cx="94.19" cy="41.9" r="1.1" fill="#f00"/>
<circle cx="95.11" cy="40.88" r="1.1" fill="#f00"/>
<circle cx="96.02" cy="39.88" r="1.1" fill="#f00"/>
<circle cx="96.94" cy="38.91" r="1.1" fill="#f00"/>
<circle cx="97.86" cy="37.95" r="1.1" fill="#f00"/>
<circle cx="98.77" cy="37.01" r="1.1" fill="#f00"/>
<circle cx="99.69" cy="36.1" r="1.1" fill="#f00"/>
<circle cx="100.61" cy="35.2" r="1.1" fill="#f00"/>
<circle cx="101.52" cy="34.33" r="1.1" fill="#f00"/>
<circle cx="102.44" cy="33.48" r="1.1" fill="#f00"/>
<circle cx="103.36" cy="32.66" r="1.1" fill="#f00"/>
<circle cx="104.27" cy="31.85" r="1.1" fill="#f00"/>
<circle cx="105.19" cy="31.07" r="1.1" fill="#f00"/>
<circle cx="106.11" cy="30.31" r="1.1" fill="#f00"/>
<circle cx="107.03" cy="29.58" r="1.1" fill="#f00"/>
<circle cx="107.94" cy="28.87" r="1.1" fill="#f00"/>
<circle cx="108.86" cy="28.19" r="1.1" fill="#f00"/>
<circle cx="109.78" cy="27.53" r="1.1" fill="#f00"/>
<circle cx="110.69" cy="26.89" r="1.1" fill="#f00"/>
<circle cx="111.61" cy="26.28" r="1.1" fill="#f00"/>
<circle cx="112.53" cy="25.7" r="1.1" fill="#f00"/>
<circle cx="113.45" cy="25.14" r="1.1" fill="#f00"/>
<circle cx="114.36" cy="24.61" r="1.1" fill="#f00"/>
<circle cx="115.28" cy="24.1" r="1.1" fill="#f00"/>
<circle cx="116.2" cy="23.63" r="1.1" fill="#f00"/>
<circle cx="117.11" cy="23.18" r="1.1" fill="#f00"/>
<circle cx="118.03" cy="22.76" r="1.1" fill="#f00"/>
<circle cx="118.95" cy="22.36" r="1.1" fill="#f00"/>
<circle cx="119.86" cy="22" r="1.1" fill="#f00"/>
<circle cx="120.78" cy="21.66" r="1.1" fill="#f00"/>
<circle cx="121.7" cy="21.35" r="1.1" fill="#f00"/>
<circle cx="122.61" cy="21.07" r="1.1" fill="#f00"/>
<circle cx="124.3" cy="21.4" r="1.1" fill="#f00"/>
<circle cx="125" cy="22.6" r="1.1" fill="#f00"/>
<circle cx="125.3" cy="33" r="1.1" fill="#f00"/>
<circle cx="125.6" cy="45.5" r="1.1" fill="#f00"/>
<circle cx="125.9" cy="58.5" r="1.1" fill="#f00"/>
<circle cx="126.3" cy="70" r="1.1" fill="#f00"/>
<circle cx="127" cy="73.6" r="1.1" fill="#f00"/>
<circle cx="127.66" cy="72.41" r="1.1" fill="#f00"/>
<circle cx="128.58" cy="72.27" r="1.1" fill="#f00"/>
<circle cx="129.49" cy="74.95" r="1.1" fill="#f00"/>
<circle cx="130.41" cy="74.84" r="1.1" fill="#f00"/>
<circle cx="131.33" cy="72.56" r="1.1" fill="#f00"/>
<circle cx="132.24" cy="73" r="1.1" fill="#f00"/>
<circle cx="133.16" cy="73.39" r="1.1" fill="#f00"/>
<circle cx="134.08" cy="74.75" r="1.1" fill="#f00"/>
<circle cx="134.99" cy="74.08" r="1.1" fill="#f00"/>
<circle cx="135.91" cy="74.33" r="1.1" fill="#f00"/>
<circle cx="136.83" cy="74.64" r="1.1" fill="#f00"/>
<circle cx="137.75" cy="76.15" r="1.1" fill="#f00"/>
<circle cx="138.66" cy="75.43" r="1.1" fill="#f00"/>
<circle cx="139.58" cy="75.61" r="1.1" fill="#f00"/>
<circle cx="140.5" cy="74.56" r="1.1" fill="#f00"/>
<circle cx="141.41" cy="73.62" r="1.1" fill="#f00"/>
<circle cx="142.33" cy="73.6" r="1.1" fill="#f00"/>
<circle cx="143.25" cy="74.65" r="1.1" fill="#f00"/>
<circle cx="144.16" cy="74.71" r="1.1" fill="#f00"/>
<circle cx="145.08" cy="75" r="1.1" fill="#f00"/>
<circle cx="146" cy="75.48" r="1.1" fill="#f00"/>
<circle cx="146.92" cy="75.29" r="1.1" fill="#f00"/>
<circle cx="147.83" cy="73.77" r="1.1" fill="#f00"/>
<circle cx="148.75" cy="74.13" r="1.1" fill="#f00"/>
<circle cx="149.67" cy="73.92" r="1.1" fill="#f00"/>
<circle cx="150.58" cy="72.39" r="1.1" fill="#f00"/>
<circle cx="151.5" cy="73.66" r="1.1" fill="#f00"/>
<circle cx="152.42" cy="73.74" r="1.1" fill="#f00"/>
<circle cx="153.33" cy="74.99" r="1.1" fill="#f00"/>
<circle cx="154.25" cy="75.9" r="1.1" fill="#f00"/>
<circle cx="155.17" cy="75.22" r="1.1" fill="#f00"/>
<circle cx="156.09" cy="76.04" r="1.1" fill="#f00"/>
<circle cx="157" cy="75.06" r="1.1" fill="#f00"/>
<circle cx="157.92" cy="73.67" r="1.1" fill="#f00"/>
<circle cx="158.84" cy="74.73" r="1.1" fill="#f00"/>
<circle cx="159.75" cy="76.24" r="1.1" fill="#f00"/>
<circle cx="160.67" cy="73.93" r="1.1" fill="#f00"/>
<circle cx="161.59" cy="74.07" r="1.1" fill="#f00"/>
<circle cx="162.5" cy="74.04" r="1.1" fill="#f00"/>
<circle cx="163.42" cy="73.26" r="1.1" fill="#f00"/>
<circle cx="164.34" cy="73.45" r="1.1" fill="#f00"/>
<circle cx="165.26" cy="73.12" r="1.1" fill="#f00"/>
<circle cx="166.17" cy="74.27" r="1.1" fill="#f00"/>
<circle cx="167.09" cy="72.16" r="1.1" fill="#f00"/>
<circle cx="168.01" cy="72.13" r="1.1" fill="#f00"/>
<circle cx="168.92" cy="74.61" r="1.1" fill="#f00"/>
<circle cx="169.84" cy="72.82" r="1.1" fill="#f00"/>
<circle cx="170.76" cy="73.08" r="1.1" fill="#f00"/>
<circle cx="171.67" cy="74.06" r="1.1" fill="#f00"/>
<circle cx="172.59" cy="74.08" r="1.1" fill="#f00"/>
<line x1="111.6" y1="98.4" x2="133.4" y2="98.4" stroke="#bbb" stroke-width="0.9" />
<circle cx="122.5" cy="98.4" r="0.9" fill="#111"/>
<line x1="111.6" y1="110.4" x2="133.4" y2="110.4" stroke="#f55" stroke-width="0.6" />
<circle cx="122.5" cy="110.4" r="0.9" fill="#f00"/>
<text x="136" y="101.6" font-size="9.6" text-anchor="start" font-family='"Liberation Serif", serif' fill="#000" >Δγ=0.0005</text>
<text x="136" y="113.6" font-size="9.6" text-anchor="start" font-family='"Liberation Serif", serif' fill="#000" >Δγ=0.001</text>
<line x1="402" y1="265.4" x2="517" y2="265.4" stroke="#666" stroke-width="0.8" />
<line x1="402" y1="265.4" x2="402" y2="15.2" stroke="#666" stroke-width="0.9" />
<line x1="405.4" y1="265.4" x2="405.4" y2="263.8" stroke="#666" stroke-width="0.6" />
<line x1="408.15" y1="265.4" x2="408.15" y2="263.8" stroke="#666" stroke-width="0.6" />
<line x1="410.53" y1="265.4" x2="410.53" y2="263.8" stroke="#666" stroke-width="0.6" />
<line x1="412.62" y1="265.4" x2="412.62" y2="263.8" stroke="#666" stroke-width="0.6" />
<line x1="414.5" y1="265.4" x2="414.5" y2="262.4" stroke="#666" stroke-width="0.6" />
<line x1="426.84" y1="265.4" x2="426.84" y2="263.8" stroke="#666" stroke-width="0.6" />
<line x1="434.06" y1="265.4" x2="434.06" y2="263.8" stroke="#666" stroke-width="0.6" />
<line x1="439.18" y1="265.4" x2="439.18" y2="263.8" stroke="#666" stroke-width="0.6" />
<line x1="443.16" y1="265.4" x2="443.16" y2="263.8" stroke="#666" stroke-width="0.6" />
<line x1="446.4" y1="265.4" x2="446.4" y2="263.8" stroke="#666" stroke-width="0.6" />
<line x1="449.15" y1="265.4" x2="449.15" y2="263.8" stroke="#666" stroke-width="0.6" />
<line x1="451.53" y1="265.4" x2="451.53" y2="263.8" stroke="#666" stroke-width="0.6" />
<line x1="453.62" y1="265.4" x2="453.62" y2="263.8" stroke="#666" stroke-width="0.6" />
<line x1="455.5" y1="265.4" x2="455.5" y2="262.4" stroke="#666" stroke-width="0.6" />
<line x1="467.84" y1="265.4" x2="467.84" y2="263.8" stroke="#666" stroke-width="0.6" />
<line x1="475.06" y1="265.4" x2="475.06" y2="263.8" stroke="#666" stroke-width="0.6" />
<line x1="480.18" y1="265.4" x2="480.18" y2="263.8" stroke="#666" stroke-width="0.6" />
<line x1="484.16" y1="265.4" x2="484.16" y2="263.8" stroke="#666" stroke-width="0.6" />
<line x1="487.4" y1="265.4" x2="487.4" y2="263.8" stroke="#666" stroke-width="0.6" />
<line x1="490.15" y1="265.4" x2="490.15" y2="263.8" stroke="#666" stroke-width="0.6" />
<line x1="492.53" y1="265.4" x2="492.53" y2="263.8" stroke="#666" stroke-width="0.6" />
<line x1="494.62" y1="265.4" x2="494.62" y2="263.8" stroke="#666" stroke-width="0.6" />
<line x1="496.5" y1="265.4" x2="496.5" y2="262.4" stroke="#666" stroke-width="0.6" />
<line x1="508.84" y1="265.4" x2="508.84" y2="263.8" stroke="#666" stroke-width="0.6" />
<line x1="516.06" y1="265.4" x2="516.06" y2="263.8" stroke="#666" stroke-width="0.6" />
<line x1="402" y1="265.7" x2="405" y2="265.7" stroke="#666" stroke-width="0.6" />
<line x1="402" y1="250.62" x2="403.6" y2="250.62" stroke="#666" stroke-width="0.6" />
<line x1="402" y1="241.8" x2="403.6" y2="241.8" stroke="#666" stroke-width="0.6" />
<line x1="402" y1="235.54" x2="403.6" y2="235.54" stroke="#666" stroke-width="0.6" />
<line x1="402" y1="230.68" x2="403.6" y2="230.68" stroke="#666" stroke-width="0.6" />
<line x1="402" y1="226.71" x2="403.6" y2="226.71" stroke="#666" stroke-width="0.6" />
<line x1="402" y1="223.36" x2="403.6" y2="223.36" stroke="#666" stroke-width="0.6" />
<line x1="402" y1="220.46" x2="403.6" y2="220.46" stroke="#666" stroke-width="0.6" />
<line x1="402" y1="217.89" x2="403.6" y2="217.89" stroke="#666" stroke-width="0.6" />
<line x1="402" y1="215.6" x2="405" y2="215.6" stroke="#666" stroke-width="0.6" />
<line x1="402" y1="200.52" x2="403.6" y2="200.52" stroke="#666" stroke-width="0.6" />
<line x1="402" y1="191.7" x2="403.6" y2="191.7" stroke="#666" stroke-width="0.6" />
<line x1="402" y1="185.44" x2="403.6" y2="185.44" stroke="#666" stroke-width="0.6" />
<line x1="402" y1="180.58" x2="403.6" y2="180.58" stroke="#666" stroke-width="0.6" />
<line x1="402" y1="176.61" x2="403.6" y2="176.61" stroke="#666" stroke-width="0.6" />
<line x1="402" y1="173.26" x2="403.6" y2="173.26" stroke="#666" stroke-width="0.6" />
<line x1="402" y1="170.36" x2="403.6" y2="170.36" stroke="#666" stroke-width="0.6" />
<line x1="402" y1="167.79" x2="403.6" y2="167.79" stroke="#666" stroke-width="0.6" />
<line x1="402" y1="165.5" x2="405" y2="165.5" stroke="#666" stroke-width="0.6" />
<line x1="402" y1="150.42" x2="403.6" y2="150.42" stroke="#666" stroke-width="0.6" />
<line x1="402" y1="141.6" x2="403.6" y2="141.6" stroke="#666" stroke-width="0.6" />
<line x1="402" y1="135.34" x2="403.6" y2="135.34" stroke="#666" stroke-width="0.6" />
<line x1="402" y1="130.48" x2="403.6" y2="130.48" stroke="#666" stroke-width="0.6" />
<line x1="402" y1="126.51" x2="403.6" y2="126.51" stroke="#666" stroke-width="0.6" />
<line x1="402" y1="123.16" x2="403.6" y2="123.16" stroke="#666" stroke-width="0.6" />
<line x1="402" y1="120.26" x2="403.6" y2="120.26" stroke="#666" stroke-width="0.6" />
<line x1="402" y1="117.69" x2="403.6" y2="117.69" stroke="#666" stroke-width="0.6" />
<line x1="402" y1="115.4" x2="405" y2="115.4" stroke="#666" stroke-width="0.6" />
<line x1="402" y1="100.32" x2="403.6" y2="100.32" stroke="#666" stroke-width="0.6" />
<line x1="402" y1="91.5" x2="403.6" y2="91.5" stroke="#666" stroke-width="0.6" />
<line x1="402" y1="85.24" x2="403.6" y2="85.24" stroke="#666" stroke-width="0.6" />
<line x1="402" y1="80.38" x2="403.6" y2="80.38" stroke="#666" stroke-width="0.6" />
<line x1="402" y1="76.41" x2="403.6" y2="76.41" stroke="#666" stroke-width="0.6" />
<line x1="402" y1="73.06" x2="403.6" y2="73.06" stroke="#666" stroke-width="0.6" />
<line x1="402" y1="70.16" x2="403.6" y2="70.16" stroke="#666" stroke-width="0.6" />
<line x1="402" y1="67.59" x2="403.6" y2="67.59" stroke="#666" stroke-width="0.6" />
<line x1="402" y1="65.3" x2="405" y2="65.3" stroke="#666" stroke-width="0.6" />
<line x1="402" y1="50.22" x2="403.6" y2="50.22" stroke="#666" stroke-width="0.6" />
<line x1="402" y1="41.4" x2="403.6" y2="41.4" stroke="#666" stroke-width="0.6" />
<line x1="402" y1="35.14" x2="403.6" y2="35.14" stroke="#666" stroke-width="0.6" />
<line x1="402" y1="30.28" x2="403.6" y2="30.28" stroke="#666" stroke-width="0.6" />
<line x1="402" y1="26.31" x2="403.6" y2="26.31" stroke="#666" stroke-width="0.6" />
<line x1="402" y1="22.96" x2="403.6" y2="22.96" stroke="#666" stroke-width="0.6" />
<line x1="402" y1="20.06" x2="403.6" y2="20.06" stroke="#666" stroke-width="0.6" />
<line x1="402" y1="17.49" x2="403.6" y2="17.49" stroke="#666" stroke-width="0.6" />
<line x1="402" y1="15.2" x2="404.4" y2="15.2" stroke="#666" stroke-width="0.6" />
<text x="398.9" y="269.1" font-size="7.9" text-anchor="end" font-family='"Liberation Sans", sans-serif'>10<tspan font-size="6.3" dy="-2.4">-1</tspan></text>
<text x="398.9" y="219" font-size="7.9" text-anchor="end" font-family='"Liberation Sans", sans-serif'>10<tspan font-size="6.3" dy="-2.4">0</tspan></text>
<text x="398.9" y="168.9" font-size="7.9" text-anchor="end" font-family='"Liberation Sans", sans-serif'>10<tspan font-size="6.3" dy="-2.4">1</tspan></text>
<text x="398.9" y="118.8" font-size="7.9" text-anchor="end" font-family='"Liberation Sans", sans-serif'>10<tspan font-size="6.3" dy="-2.4">2</tspan></text>
<text x="398.9" y="68.7" font-size="7.9" text-anchor="end" font-family='"Liberation Sans", sans-serif'>10<tspan font-size="6.3" dy="-2.4">3</tspan></text>
<text x="398.9" y="18.6" font-size="7.9" text-anchor="end" font-family='"Liberation Sans", sans-serif'>10<tspan font-size="6.3" dy="-2.4">4</tspan></text>
<text x="414.5" y="275.3" font-size="8" text-anchor="middle" font-family='"Liberation Sans", sans-serif' fill="#000" >0.1</text>
<text x="455.5" y="275.3" font-size="8" text-anchor="middle" font-family='"Liberation Sans", sans-serif' fill="#000" >1</text>
<text x="496.5" y="275.3" font-size="8" text-anchor="middle" font-family='"Liberation Sans", sans-serif' fill="#000" >10</text>
<text x="458.9" y="289.3" font-size="12.5" text-anchor="middle" font-family='"Liberation Sans", sans-serif' fill="#000" >r</text>
<text transform="translate(375.9,141) rotate(-90)" font-size="12.15" text-anchor="middle" font-family='"Liberation Sans", sans-serif'>g(r) of PE particles</text>
<line x1="402" y1="42.5" x2="511.3" y2="265.3" stroke="#111" stroke-width="1.1" stroke-dasharray="3.4,2.6"/>
<text x="483" y="198.3" font-size="9.6" font-family='"Liberation Sans", sans-serif'>~r<tspan font-size="6.8" dy="-4.3">-5/3</tspan></text>
<polyline points="411.4,48.3 444.3,130 450,143 455.2,153 456.6,134.5 458,146 459.4,161.5 461.5,180 463,172 464.4,164.5 466.3,162 468,170 469.9,178.1 472,181 473.2,180 474.6,186.4 477.7,200.5 480,205 482.8,208.4 487,214.5 490,214.5 493.2,214.8 498,215.2 503,215.8 508.8,216.5" fill="none" stroke="#444" stroke-width="1.6" stroke-linejoin="round" />
<polyline points="411.4,48.3 444.3,130 450,143 452.6,148 454.6,146 456.6,133.8 458,146 459.4,161.5 461.5,179.5 463,172 464.4,164.5 466.3,161.5 468,170 469.9,178.1 472,181 473.2,180 474.6,186.4 477.7,200.5 480,205 482.8,208.4 487,214.2 489,212.6 491,214.6 493,212.8 495,214.6 497,213 499,215 501,213.4 503,215.6 505,214.4 507,216.2 508.8,216.6" fill="none" stroke="#ee3333" stroke-width="2.0" stroke-linejoin="round" stroke-dasharray="4.6,3.4"/>
<polyline points="411.4,48.3 444.3,130 450,143 452.6,148 454.6,146 456.6,133.8 458,146 459.4,161.5 461.5,179.5 463,172 464.4,164.5 466.3,161.5 468,170 469.9,178.1 472,181 473.2,180 474.6,186.4 477.7,200.5 480,205 482.8,208.4 487,214.2 489,212.6 491,214.6 493,212.8 495,214.6 497,213 499,215 501,213.4 503,215.6 505,214.4 507,216.2 508.8,216.6" fill="none" stroke="#2a7fe0" stroke-width="2.4" stroke-linejoin="round" stroke-dasharray="0.1,7.9" stroke-linecap="round" stroke-dashoffset="1.7"/>
<line x1="453.3" y1="28.1" x2="482.4" y2="28.1" stroke="#444" stroke-width="1.5" />
<line x1="453.3" y1="41.2" x2="482.4" y2="41.2" stroke="#ee3333" stroke-width="1.5" stroke-dasharray="8.5,11"/>
<line x1="454.6" y1="53.3" x2="482.4" y2="53.3" stroke="#2a7fe0" stroke-width="2.4" stroke-dasharray="0.1,10.7" stroke-linecap="round"/>
<text x="484.8" y="31.6" font-size="10" text-anchor="start" font-family='"Liberation Sans", sans-serif' fill="#000" >xy-xz</text>
<text x="484.8" y="44.7" font-size="10" text-anchor="start" font-family='"Liberation Sans", sans-serif' fill="#000" >xy-yz</text>
<text x="484.8" y="56.8" font-size="10" text-anchor="start" font-family='"Liberation Sans", sans-serif' fill="#000" >xz-yz</text>
<line x1="570.7" y1="264.9" x2="685" y2="264.9" stroke="#666" stroke-width="0.8" />
<line x1="570.7" y1="264.9" x2="570.7" y2="16" stroke="#666" stroke-width="0.9" />
<line x1="570.6" y1="264.9" x2="570.6" y2="261.9" stroke="#666" stroke-width="0.6" />
<line x1="592.82" y1="264.9" x2="592.82" y2="263.3" stroke="#666" stroke-width="0.6" />
<line x1="605.81" y1="264.9" x2="605.81" y2="263.3" stroke="#666" stroke-width="0.6" />
<line x1="615.03" y1="264.9" x2="615.03" y2="263.3" stroke="#666" stroke-width="0.6" />
<line x1="622.18" y1="264.9" x2="622.18" y2="263.3" stroke="#666" stroke-width="0.6" />
<line x1="628.03" y1="264.9" x2="628.03" y2="263.3" stroke="#666" stroke-width="0.6" />
<line x1="632.97" y1="264.9" x2="632.97" y2="263.3" stroke="#666" stroke-width="0.6" />
<line x1="637.25" y1="264.9" x2="637.25" y2="263.3" stroke="#666" stroke-width="0.6" />
<line x1="641.02" y1="264.9" x2="641.02" y2="263.3" stroke="#666" stroke-width="0.6" />
<line x1="644.4" y1="264.9" x2="644.4" y2="261.9" stroke="#666" stroke-width="0.6" />
<line x1="666.62" y1="264.9" x2="666.62" y2="263.3" stroke="#666" stroke-width="0.6" />
<line x1="679.61" y1="264.9" x2="679.61" y2="263.3" stroke="#666" stroke-width="0.6" />
<line x1="570.7" y1="265.45" x2="573.7" y2="265.45" stroke="#666" stroke-width="0.6" />
<line x1="570.7" y1="254.72" x2="572.3" y2="254.72" stroke="#666" stroke-width="0.6" />
<line x1="570.7" y1="248.44" x2="572.3" y2="248.44" stroke="#666" stroke-width="0.6" />
<line x1="570.7" y1="243.99" x2="572.3" y2="243.99" stroke="#666" stroke-width="0.6" />
<line x1="570.7" y1="240.53" x2="572.3" y2="240.53" stroke="#666" stroke-width="0.6" />
<line x1="570.7" y1="237.71" x2="572.3" y2="237.71" stroke="#666" stroke-width="0.6" />
<line x1="570.7" y1="235.32" x2="572.3" y2="235.32" stroke="#666" stroke-width="0.6" />
<line x1="570.7" y1="233.25" x2="572.3" y2="233.25" stroke="#666" stroke-width="0.6" />
<line x1="570.7" y1="231.43" x2="572.3" y2="231.43" stroke="#666" stroke-width="0.6" />
<line x1="570.7" y1="229.8" x2="573.7" y2="229.8" stroke="#666" stroke-width="0.6" />
<line x1="570.7" y1="219.07" x2="572.3" y2="219.07" stroke="#666" stroke-width="0.6" />
<line x1="570.7" y1="212.79" x2="572.3" y2="212.79" stroke="#666" stroke-width="0.6" />
<line x1="570.7" y1="208.34" x2="572.3" y2="208.34" stroke="#666" stroke-width="0.6" />
<line x1="570.7" y1="204.88" x2="572.3" y2="204.88" stroke="#666" stroke-width="0.6" />
<line x1="570.7" y1="202.06" x2="572.3" y2="202.06" stroke="#666" stroke-width="0.6" />
<line x1="570.7" y1="199.67" x2="572.3" y2="199.67" stroke="#666" stroke-width="0.6" />
<line x1="570.7" y1="197.6" x2="572.3" y2="197.6" stroke="#666" stroke-width="0.6" />
<line x1="570.7" y1="195.78" x2="572.3" y2="195.78" stroke="#666" stroke-width="0.6" />
<line x1="570.7" y1="194.15" x2="573.7" y2="194.15" stroke="#666" stroke-width="0.6" />
<line x1="570.7" y1="183.42" x2="572.3" y2="183.42" stroke="#666" stroke-width="0.6" />
<line x1="570.7" y1="177.14" x2="572.3" y2="177.14" stroke="#666" stroke-width="0.6" />
<line x1="570.7" y1="172.69" x2="572.3" y2="172.69" stroke="#666" stroke-width="0.6" />
<line x1="570.7" y1="169.23" x2="572.3" y2="169.23" stroke="#666" stroke-width="0.6" />
<line x1="570.7" y1="166.41" x2="572.3" y2="166.41" stroke="#666" stroke-width="0.6" />
<line x1="570.7" y1="164.02" x2="572.3" y2="164.02" stroke="#666" stroke-width="0.6" />
<line x1="570.7" y1="161.95" x2="572.3" y2="161.95" stroke="#666" stroke-width="0.6" />
<line x1="570.7" y1="160.13" x2="572.3" y2="160.13" stroke="#666" stroke-width="0.6" />
<line x1="570.7" y1="158.5" x2="573.7" y2="158.5" stroke="#666" stroke-width="0.6" />
<line x1="570.7" y1="147.77" x2="572.3" y2="147.77" stroke="#666" stroke-width="0.6" />
<line x1="570.7" y1="141.49" x2="572.3" y2="141.49" stroke="#666" stroke-width="0.6" />
<line x1="570.7" y1="137.04" x2="572.3" y2="137.04" stroke="#666" stroke-width="0.6" />
<line x1="570.7" y1="133.58" x2="572.3" y2="133.58" stroke="#666" stroke-width="0.6" />
<line x1="570.7" y1="130.76" x2="572.3" y2="130.76" stroke="#666" stroke-width="0.6" />
<line x1="570.7" y1="128.37" x2="572.3" y2="128.37" stroke="#666" stroke-width="0.6" />
<line x1="570.7" y1="126.3" x2="572.3" y2="126.3" stroke="#666" stroke-width="0.6" />
<line x1="570.7" y1="124.48" x2="572.3" y2="124.48" stroke="#666" stroke-width="0.6" />
<line x1="570.7" y1="122.85" x2="573.7" y2="122.85" stroke="#666" stroke-width="0.6" />
<line x1="570.7" y1="112.12" x2="572.3" y2="112.12" stroke="#666" stroke-width="0.6" />
<line x1="570.7" y1="105.84" x2="572.3" y2="105.84" stroke="#666" stroke-width="0.6" />
<line x1="570.7" y1="101.39" x2="572.3" y2="101.39" stroke="#666" stroke-width="0.6" />
<line x1="570.7" y1="97.93" x2="572.3" y2="97.93" stroke="#666" stroke-width="0.6" />
<line x1="570.7" y1="95.11" x2="572.3" y2="95.11" stroke="#666" stroke-width="0.6" />
<line x1="570.7" y1="92.72" x2="572.3" y2="92.72" stroke="#666" stroke-width="0.6" />
<line x1="570.7" y1="90.65" x2="572.3" y2="90.65" stroke="#666" stroke-width="0.6" />
<line x1="570.7" y1="88.83" x2="572.3" y2="88.83" stroke="#666" stroke-width="0.6" />
<line x1="570.7" y1="87.2" x2="573.7" y2="87.2" stroke="#666" stroke-width="0.6" />
<line x1="570.7" y1="76.47" x2="572.3" y2="76.47" stroke="#666" stroke-width="0.6" />
<line x1="570.7" y1="70.19" x2="572.3" y2="70.19" stroke="#666" stroke-width="0.6" />
<line x1="570.7" y1="65.74" x2="572.3" y2="65.74" stroke="#666" stroke-width="0.6" />
<line x1="570.7" y1="62.28" x2="572.3" y2="62.28" stroke="#666" stroke-width="0.6" />
<line x1="570.7" y1="59.46" x2="572.3" y2="59.46" stroke="#666" stroke-width="0.6" />
<line x1="570.7" y1="57.07" x2="572.3" y2="57.07" stroke="#666" stroke-width="0.6" />
<line x1="570.7" y1="55" x2="572.3" y2="55" stroke="#666" stroke-width="0.6" />
<line x1="570.7" y1="53.18" x2="572.3" y2="53.18" stroke="#666" stroke-width="0.6" />
<line x1="570.7" y1="51.55" x2="573.7" y2="51.55" stroke="#666" stroke-width="0.6" />
<line x1="570.7" y1="40.82" x2="572.3" y2="40.82" stroke="#666" stroke-width="0.6" />
<line x1="570.7" y1="34.54" x2="572.3" y2="34.54" stroke="#666" stroke-width="0.6" />
<line x1="570.7" y1="30.09" x2="572.3" y2="30.09" stroke="#666" stroke-width="0.6" />
<line x1="570.7" y1="26.63" x2="572.3" y2="26.63" stroke="#666" stroke-width="0.6" />
<line x1="570.7" y1="23.81" x2="572.3" y2="23.81" stroke="#666" stroke-width="0.6" />
<line x1="570.7" y1="21.42" x2="572.3" y2="21.42" stroke="#666" stroke-width="0.6" />
<line x1="570.7" y1="19.35" x2="572.3" y2="19.35" stroke="#666" stroke-width="0.6" />
<line x1="570.7" y1="17.53" x2="572.3" y2="17.53" stroke="#666" stroke-width="0.6" />
<line x1="570.7" y1="15.9" x2="573.1" y2="15.9" stroke="#666" stroke-width="0.6" />
<text x="567.4" y="268.1" font-size="8.0" text-anchor="end" font-family='"Liberation Sans", sans-serif'>10<tspan font-size="6.3" dy="-2.8">-1</tspan></text>
<text x="567.4" y="233" font-size="8.0" text-anchor="end" font-family='"Liberation Sans", sans-serif'>10<tspan font-size="6.3" dy="-2.8">0</tspan></text>
<text x="567.4" y="197.35" font-size="8.0" text-anchor="end" font-family='"Liberation Sans", sans-serif'>10<tspan font-size="6.3" dy="-2.8">1</tspan></text>
<text x="567.4" y="161.7" font-size="8.0" text-anchor="end" font-family='"Liberation Sans", sans-serif'>10<tspan font-size="6.3" dy="-2.8">2</tspan></text>
<text x="567.4" y="126.05" font-size="8.0" text-anchor="end" font-family='"Liberation Sans", sans-serif'>10<tspan font-size="6.3" dy="-2.8">3</tspan></text>
<text x="567.4" y="90.4" font-size="8.0" text-anchor="end" font-family='"Liberation Sans", sans-serif'>10<tspan font-size="6.3" dy="-2.8">4</tspan></text>
<text x="567.4" y="54.75" font-size="8.0" text-anchor="end" font-family='"Liberation Sans", sans-serif'>10<tspan font-size="6.3" dy="-2.8">5</tspan></text>
<text x="567.4" y="19.1" font-size="8.0" text-anchor="end" font-family='"Liberation Sans", sans-serif'>10<tspan font-size="6.3" dy="-2.8">6</tspan></text>
<text x="570.6" y="275.3" font-size="8" text-anchor="middle" font-family='"Liberation Sans", sans-serif' fill="#000" >1</text>
<text x="644.4" y="275.3" font-size="8" text-anchor="middle" font-family='"Liberation Sans", sans-serif' fill="#000" >10</text>
<text x="629.8" y="289.3" font-size="12.5" text-anchor="middle" font-family='"Liberation Sans", sans-serif' fill="#000" >r</text>
<text transform="translate(543.4,140.1) rotate(-90)" font-size="12.2" text-anchor="middle" font-family='"Liberation Sans", sans-serif'>g(r) of COM of PE clusters</text>
<line x1="570.7" y1="25.5" x2="645" y2="85" stroke="#f02828" stroke-width="1.25" stroke-dasharray="3.6,2.8"/>
<line x1="570.7" y1="84.8" x2="645" y2="144" stroke="#f02828" stroke-width="1.25" stroke-dasharray="3.6,2.8"/>
<line x1="570.7" y1="137.3" x2="645" y2="196.7" stroke="#f02828" stroke-width="1.25" stroke-dasharray="3.6,2.8"/>
<line x1="570.7" y1="192.3" x2="645" y2="251" stroke="#f02828" stroke-width="1.25" stroke-dasharray="3.6,2.8"/>
<text x="577.8" y="29.6" font-size="9.8" font-family='"Liberation Sans", sans-serif'>~r<tspan font-size="6.9" dy="-4.4">-5/3</tspan></text>
<text x="575.3" y="138.3" font-size="9.8" font-family='"Liberation Sans", sans-serif'>~r<tspan font-size="6.9" dy="-4.4">-5/3</tspan></text>
<polyline points="592.9,37.6 598.6,43.3 600,44 604.2,46.8 607.6,44.7 609.7,46.8 611.1,53.7 613.1,56.5 614.5,48.1 616.6,60.6 619.4,41.2 620.8,50.2 622.1,64.8 624.2,50.9 625.6,64.8 627,51.6 628.4,55.8 629.8,59.2 631.1,62.7 632.9,53 634.3,66.8 635.7,71 637.4,62.7 638.8,57.1 639.4,74.4 640.5,74.8 641.13,68.43 641.77,63.15 642.4,56.7 642.7,67.6 643,72.33 643.3,80.5 643.93,73.25 644.57,66.51 645.2,58.6 645.83,59.56 646.47,65.02 647.1,68.1 647.73,66.48 648.37,65.08 649,60.5 649.97,55.76 650.93,55.32 651.9,54.8 652.53,57 653.17,67.1 653.8,70 654.43,67.55 655.07,59.19 655.7,58.6 656.33,67.04 656.97,71.99 657.6,73.8 658.23,70.44 658.87,65.74 659.5,60.5 660.13,60 660.77,60.91 661.4,66.2 662.03,63.87 662.67,58.05 663.3,58.6 663.93,58.63 664.57,61.19 665.2,65.2 665.53,60.34 665.87,61.81 666.2,60.5" fill="none" stroke="#3aae6c" stroke-width="2.2" stroke-linejoin="round" />
<polyline points="579.1,86.2 585.4,91.4 590.6,94.1 595,92.8 597.6,92.3 600.2,97.1 602.8,107.5 605.7,97.1 608,107.5 610.6,116.1 613.2,105.8 615.4,99.7 617.1,104 618.4,102.3 620.1,114.4 621.8,123.9 623.5,125.7 625.3,119.6 627,109.2 628.4,119.6 629.6,126.5 631.3,111.8 632.7,119.6 633.9,126.5 635.7,119.6 637.4,132.6 639.1,121.3 639.87,123.26 640.63,126.67 641.4,127.7 642.1,125.4 642.8,118.26 643.5,117.3 644.17,118.04 644.83,124.76 645.5,129.8 646.2,125.12 646.9,125.77 647.6,120.5 648.3,124.23 649,126.01 649.7,127.7 650.4,125.01 651.1,122.63 651.8,118.4 652.47,118.32 653.13,122.78 653.8,125.6 654.5,120.47 655.2,122.91 655.9,117.3 656.6,117.68 657.3,126.47 658,127.7 658.7,122.32 659.4,124.21 660.1,120.5 660.77,120.73 661.43,122.57 662.1,124.6 662.8,125.26 663.5,117.76 664.2,119.4 664.9,117.73 665.6,125.11 666.3,123.6" fill="none" stroke="#2f74dc" stroke-width="2.2" stroke-linejoin="round" />
<polyline points="583.9,142.9 591.8,150.8 595,152.8 600.2,158 602.3,154.5 604.5,159.7 606.2,157.1 608,161.4 609.7,157.1 611.4,163.2 614,160.6 616.6,163.2 618.4,171 620.1,169.2 621.8,173.5 623.5,167.5 625.3,178.7 627,168.4 628.7,179.6 630.5,164.9 631.7,175.3 633.1,158.8 634.4,188.3 636.2,171 637.9,187.4 639.6,172.7 641.4,189.1 643.4,173.5 643.63,171.51 643.87,174.2 644.1,172.6 644.77,177.16 645.43,181.58 646.1,182.4 646.77,175.6 647.43,171.31 648.1,168.6 648.77,169.43 649.43,173.28 650.1,178.5 650.73,177.5 651.37,170.64 652,170.6 652.33,175.42 652.67,177.8 653,184.4 653.67,177.03 654.33,172.05 655,166.6 655.67,172.6 656.33,174.63 657,177.5 657.63,172.47 658.27,172.66 658.9,172.6 659.57,172.09 660.23,179.13 660.9,178.5 661.57,178.03 662.23,175.38 662.9,170.6 663.57,174.85 664.23,176.25 664.9,176.5 665.53,177.35 666.17,173.96 666.8,169.6" fill="none" stroke="#ee3b3b" stroke-width="2.2" stroke-linejoin="round" />
<polyline points="583.8,198.8 587.7,201.7 591.6,203.6 594.5,210.4 595,207.8 598.5,206.6 601.1,214.7 603.7,211.2 606.2,208.7 608.8,213.8 611.4,221.6 613.2,219 615.4,213 616.6,217.3 618.4,213.8 620.1,221.6 621.8,232.9 623.5,222.5 627,217.3 628.7,227.7 630.5,224.2 632.2,229.4 633.1,219 634.8,230.3 636.5,241.5 638.3,230.3 640,228.5 641.7,233.7 644.3,226 644.8,226.17 645.3,232.28 645.8,233.6 646.43,232.91 647.07,233.04 647.7,228.8 648.37,228.39 649.03,229.27 649.7,231.7 650.33,231.8 650.97,230.05 651.6,227.8 652.23,228.55 652.87,232.77 653.5,233.6 654.17,230.75 654.83,230.8 655.5,226.9 656.13,226.54 656.77,229.11 657.4,232.7 658.03,233.81 658.67,229.25 659.3,228.8 659.97,228.33 660.63,232.56 661.3,231.7 661.93,231.19 662.57,227 663.2,227.8 663.87,229.41 664.53,231.38 665.2,231.7 665.7,228.72 666.2,230.68 666.7,228.8" fill="none" stroke="#4a4a4a" stroke-width="2.2" stroke-linejoin="round" />
<text x="673" y="65.8" font-size="10" text-anchor="start" font-family='"Liberation Sans", sans-serif' fill="#000" >yz</text>
<text x="673" y="128.6" font-size="10" text-anchor="start" font-family='"Liberation Sans", sans-serif' fill="#000" >xz</text>
<text x="673" y="178.9" font-size="10" text-anchor="start" font-family='"Liberation Sans", sans-serif' fill="#000" >xy</text>
<text x="670.3" y="232.8" font-size="10" text-anchor="start" font-family='"Liberation Sans", sans-serif' fill="#000" >avg</text>
<g fill="none" stroke-width="0.8"><path d="M231,111.1 L310.7,110.9 M230.8,31.8 L311.6,31.3" stroke="#666"/><path d="M230.8,31.8 L231,111.1 M311.6,31.3 L310.7,110.9" stroke="#aaa"/><path d="M206.5,11.5 L335.4,11.6 L334.3,138.2 L208.2,138.3 Z" stroke="#222" stroke-width="1"/><path d="M206.5,11.5 L230.8,31.8 M335.4,11.6 L311.6,31.3 M334.3,138.2 L310.7,110.9 M208.2,138.3 L231,111.1" stroke="#222"/></g>
<g fill="none" stroke-linecap="round"><path stroke="#d8d81e" stroke-width="2.6" d="M213.7 24.7h0M215.3 24.2h0M233.3 24.7h0M233.7 23.5h0M234.1 34.2h0M236.3 34.1h0M242 32h0M240.8 39.6h0M264.5 39h0M280.4 18.9h0M302.4 16.1h0M274.7 37.6h0M303.8 36.6h0M310.7 45.2h0M311.6 43.6h0M310.3 42.2h0M322.1 39.3h0M211.5 60.2h0M211.5 60.1h0M239.6 83.5h0M260.5 79.1h0M303 65.3h0M301.2 65.3h0M304.4 64.4h0M303.7 78.3h0M303.5 78.7h0M297.9 87.1h0M298.7 86.4h0M298.8 88.7h0M298.1 86.6h0M220.3 112.1h0M227.6 115.5h0M213 135.9h0M210.5 133.6h0M214.9 133.7h0M257.4 107.9h0M261.7 108.9h0M255.1 95.3h0M239.3 125.6h0M312.5 95.5h0M295.6 103.3h0M273 113.8h0M274.7 116.3h0M277.6 120.1h0M271 119.8h0M301.7 113.9h0M300.5 113.2h0"/>
<path stroke="#d8d81e" stroke-width="2.4" d="M215 24.3h0M214.1 24h0M233.9 22.9h0M258.5 27.9h0M233.8 33h0M234.6 33.9h0M241.2 33.5h0M240.7 31.9h0M264.2 40.2h0M255.7 41h0M254.7 40.4h0M281.6 19h0M299.7 15.8h0M301.6 18.2h0M303.3 19.3h0M302.9 14h0M300.5 15h0M302.8 19.1h0M303.3 17.5h0M317.1 26.4h0M317.8 25h0M275 37.3h0M275 37.6h0M310.1 42.1h0M321.9 36.2h0M320 36.1h0M318.8 35.4h0M316.9 37.6h0M213.2 60.6h0M211.3 58h0M212.2 61h0M234.4 63.8h0M233.3 63.6h0M238.3 84.5h0M264.6 63.7h0M259.2 78.6h0M277.2 65.3h0M277 65.1h0M284.2 77.1h0M302.7 78.7h0M303.4 79.6h0M225.4 115.8h0M225.7 115.9h0M211.9 133.7h0M210.8 137h0M247.4 93.7h0M260.7 108.4h0M259 110.6h0M262.3 109.3h0M264.9 106.1h0M264.1 105.8h0M248.6 119.7h0M243.4 125.1h0M239.7 123.7h0M241.5 124.9h0M240.5 124.5h0M295 96h0M312.6 95.3h0M312.9 95.6h0M311.9 94.7h0M326.7 95.1h0M328.9 96.8h0M326.6 97.2h0M295.8 104.4h0M296.9 104.8h0M290.3 101.4h0M287.6 111.1h0M288.3 109.9h0M288.8 109.8h0M273.3 120.5h0M277.3 118.6h0M274.9 118.9h0M278.8 118.2h0M274.7 112.3h0M275.6 116.5h0M302.2 119.3h0M301.5 114.4h0M305.1 117.8h0M305.8 116h0M306.2 118.7h0M315.3 115.1h0M308.8 126h0"/>
<path stroke="#dcdc22" stroke-width="1.8" d="M215.1 25.7h0M261.7 16.9h0M262.7 16h0M262.4 16.2h0M262.7 17.7h0M262.6 16.3h0M254.4 22.5h0M253.6 21.7h0M259.5 27.8h0M306.5 27.3h0M326.9 46.3h0M236.8 70.7h0M229.4 70.2h0M261 57.3h0M261.2 57.9h0M264.2 64.8h0M240.5 66.1h0M249.6 76.5h0M260.8 79.3h0M318.4 53.2h0M282 63.3h0M282 63.2h0M304.8 69.2h0M283.5 76.4h0M293.2 80.3h0M291.3 81.2h0M300.1 73.3h0M300.1 74.4h0M279.7 89.2h0M295.8 90.9h0M233.1 107.8h0M244.3 119.6h0M256.1 122.1h0M253.8 122.4h0M249.4 119.8h0M245.5 120h0M255 125.3h0M254.8 118.2h0M252.4 117.2h0M253.1 124.1h0M296.2 92.7h0M294.6 93.1h0M303.6 110h0M302.4 109.7h0M280.9 118.4h0M314.9 116h0M282.4 130.2h0M283.3 130.6h0"/>
<path stroke="#d8d81e" stroke-width="2.2" d="M213.2 25h0M233.7 24.7h0M232.4 23.3h0M233.5 33.6h0M234.8 34h0M232.9 34.4h0M241.2 30.9h0M241.2 31.9h0M240.4 35.7h0M249.2 36.4h0M240.1 38.5h0M240 37.5h0M264.1 39.8h0M278.7 18.1h0M300.5 17.9h0M305 29.7h0M310.2 43.6h0M309.3 42.6h0M319 38h0M316.9 37h0M319.7 38.5h0M211 58.1h0M223.4 55.2h0M222.6 55.7h0M223 55.6h0M240.1 84.3h0M264.1 65.1h0M265.5 65.3h0M249.2 91.7h0M277.6 64.1h0M304.6 65.2h0M303.3 77.7h0M297.3 88.3h0M227.2 114.8h0M214.3 131.3h0M215.7 132.4h0M212.6 135.4h0M212.7 130.1h0M214.3 131.1h0M246.4 94.2h0M246.1 94.1h0M247.6 95.4h0M244.1 96.8h0M257.4 109.1h0M257.5 109h0M264.5 105.7h0M240.7 122.4h0M313.6 93.9h0M327.9 95.6h0M295.5 105h0M292.4 105.4h0M294.9 105h0M294.3 102h0M292.2 101h0M292.6 104.1h0M292.9 105.7h0M286.8 110.2h0M287.6 110.5h0M277 114.2h0M273.4 113.7h0M277.1 115.8h0M303.1 117.9h0M302.2 118.9h0M303.5 117.6h0M304.2 116.9h0M300.4 114.6h0M305 118.4h0M308.4 125.6h0"/>
<path stroke="#d8d81e" stroke-width="1.8" d="M215.7 25.3h0M234.2 24.4h0M261.3 16.6h0M241 25.7h0M235.7 34.1h0M238.5 34.8h0M241.8 29.5h0M241.4 29.8h0M241.5 35.2h0M248.8 30.6h0M240.6 38.5h0M240.9 39.7h0M264.6 39.2h0M265.2 38.3h0M255.1 41.4h0M254.5 40.5h0M254.4 40.7h0M280 20.8h0M279.8 18.8h0M280.4 18.4h0M301.6 16.5h0M317.5 26.2h0M309.2 43.4h0M239.2 84.2h0M264.6 64.5h0M260.2 79.1h0M248.6 90.7h0M277.5 64.5h0M301.6 66.9h0M297.5 86.4h0M225.7 116.3h0M211.9 134.4h0M246.2 94h0M246.9 93.2h0M260.2 106.4h0M263.8 105.3h0M264 106.2h0M242.4 124.8h0M290.6 100.9h0M291.5 105.5h0M294.4 103h0M286.6 112.4h0M269.7 117.6h0M271.9 116.7h0M274.8 120.8h0M301.3 115.8h0M302.3 118.1h0M298 115h0"/>
<path stroke="#d8d81e" stroke-width="2" d="M214.6 25.5h0M233.7 22.8h0M254.8 18.4h0M238.8 34.5h0M242.9 34.2h0M243.5 35.6h0M242.5 32.1h0M280.1 20.3h0M304.6 16.3h0M320.4 13.8h0M317.3 26.6h0M304.6 39.5h0M322.1 37.4h0M317.7 39.4h0M322.1 38.5h0M317.5 46.5h0M211.6 61h0M209.8 61.4h0M248.7 90.5h0M247.8 89.9h0M248.7 90.6h0M276.9 64.6h0M302.6 64.8h0M304.6 65.3h0M305.2 78.8h0M302.8 78.9h0M304.3 78.6h0M298.4 88.6h0M298.4 85.5h0M226.6 115.3h0M212 131.8h0M247.9 95.2h0M246.5 94h0M261.4 108.2h0M263.7 105.5h0M264.1 106h0M241.8 125.6h0M293.5 92.8h0M311.9 95.6h0M312 95.1h0M327.5 96.2h0M327 94.9h0M292.6 103.6h0M295.1 103.8h0M294.1 107.3h0M288.2 111.6h0M273.4 117.6h0M272.7 117.8h0M275.3 120.7h0M277.1 119.3h0M300.7 115.3h0M304.2 117.2h0M307.9 126.2h0"/>
<path stroke="#e2e230" stroke-width="2" d="M212 33h0M225.6 31.3h0M222.4 38.2h0M222.7 35.4h0M228.4 35h0M225.7 35.8h0M252.6 15.3h0M241.1 27.8h0M247.8 35.2h0M246.7 35.1h0M235.3 39.3h0M285.5 32h0M292.8 38.5h0M303.1 42h0M305.5 41.9h0M285.3 49.8h0M219.1 55.2h0M232.4 81.1h0M245.4 59.9h0M319 60.2h0M283.1 74.4h0M283.7 72.7h0M212.9 133.7h0M212.7 135h0M248.2 99.5h0M248.6 98.6h0M248.2 98.4h0M249.4 98.5h0M246.1 121.1h0M244.3 124.5h0M245.8 124h0M274.6 104h0M274.2 104.9h0M271.4 104.5h0M301.7 111.5h0M304.7 111.1h0"/>
<path stroke="#e45a62" stroke-width="1.2" d="M218.8 29.5h0M241.3 63.1h0M231.6 116.9h0M325.9 129.8h0M221.9 105.9h0"/>
<path stroke="#e45a62" stroke-width="1.8" d="M218.5 29.1h0M234.1 29.8h0M233.3 29.1h0M233.6 47.3h0M238.9 44.6h0M273.2 14h0M277.3 47.4h0M217.5 70.3h0M241.3 63.7h0M239.1 90.1h0M236.3 88.8h0M258.1 54.1h0M255.9 57.9h0M253.1 60.8h0M251.6 62.2h0M252.8 60.4h0M264.9 73.5h0M269.3 68.5h0M266.2 75.9h0M257.3 90.7h0M257.6 91.8h0M258.1 91.6h0M256.8 90.2h0M302.9 55.6h0M301.5 54.8h0M318.9 68.1h0M282.6 76.2h0M225 98.9h0M231.6 117.3h0M224.4 123.7h0M225.7 119.6h0M261 116.5h0M256.9 116.3h0M243.1 93.1h0M308.5 100.7h0M306.8 101.1h0M307 107.3h0M315.2 130h0M314.6 130.1h0"/>
<path stroke="#e45a62" stroke-width="2.2" d="M219.1 29.6h0M240.5 45.4h0M239 43.8h0M254 45.2h0M253.7 48.7h0M253 47.8h0M268.2 47h0M279.5 22.3h0M271.2 33.2h0M280.5 39.2h0M214.9 66.8h0M214.3 70.5h0M213.7 69h0M221 71.1h0M220.9 70.5h0M218.7 76.8h0M220.8 78.3h0M232.9 57.2h0M233.6 56.3h0M241.7 62.5h0M237.7 89.2h0M237.4 90.2h0M236.1 89.3h0M253.8 55.9h0M256.2 56.2h0M252.3 61.2h0M253.5 64h0M265.3 76.2h0M265.6 75.9h0M304.1 53.9h0M303.8 52.8h0M297.1 63.8h0M297.7 61.6h0M317.5 67.4h0M317.9 66.4h0M318.1 67.2h0M325.1 66.8h0M282 76.2h0M283.1 77.2h0M224.3 100.2h0M223.2 115.6h0M223.2 115.7h0M231.3 116.9h0M226 122.3h0M225.6 125h0M225.8 124h0M226.9 119.5h0M241.6 111.1h0M239.8 111.4h0M241.7 110.3h0M238.3 113.9h0M255.1 104.3h0M257 106.2h0M256.2 106h0M266.3 99.9h0M269 104.6h0M267.5 104.6h0M269.6 103.1h0M306.1 93.8h0M275.9 108h0M305.2 103.5h0M306.8 102.9h0M290.9 115.5h0M285.9 115.2h0M318.5 117.1h0M305 122.4h0M305.2 122.8h0M313.6 132.8h0M313.2 133.7h0"/>
<path stroke="#e45a62" stroke-width="2" d="M218.6 30.1h0M218.5 38.8h0M234.1 30h0M253.9 50h0M254.8 47.6h0M255.1 48.8h0M280.7 22.3h0M280 24.6h0M292.7 24.7h0M300.8 18.9h0M217.8 68.3h0M214.4 71.2h0M214.2 68.2h0M215.9 69.8h0M222 72.2h0M220.8 71.2h0M220.2 76.7h0M220.8 75.7h0M218.2 84.1h0M257 56.9h0M255.4 57.5h0M254.2 56.5h0M254.1 67.9h0M249.9 62.8h0M265.5 77.4h0M266.6 75.9h0M266 77.5h0M291.4 63.2h0M318.8 67.6h0M281.4 76.2h0M293.2 83.5h0M299.3 90.7h0M297.2 82h0M231.6 117.1h0M227.5 121.5h0M222.5 121.8h0M227.1 124.2h0M223.8 122.8h0M243.6 113.4h0M239.2 113.3h0M241.7 110.7h0M239.3 112.2h0M241 115.9h0M255.6 104.1h0M257.9 104.9h0M256.1 103h0M268.2 103.6h0M266.9 103.6h0M268.4 103h0M259.2 117.1h0M258.3 116.4h0M260.3 116.1h0M242.4 92.8h0M243.5 93.5h0M242.7 92.8h0M241 93.3h0M306.7 92.8h0M305.6 92.6h0M276 109.8h0M308.2 99.4h0M309.2 104h0M287 114.5h0M289.8 112.6h0M305.1 122.8h0M305 121.8h0M306.1 122.5h0M311 131.9h0M312.2 133.1h0M313.1 134.6h0M316.9 134.5h0"/>
<path stroke="#5252dc" stroke-width="1.6" d="M218.8 29.8h0"/>
<path stroke="#e2e230" stroke-width="4.8" d="M224.6 35.3h0"/>
<path stroke="#e2e230" stroke-width="2.2" d="M224.9 34h0M220.6 37.5h0M223.3 38.6h0M255.2 14h0M241.5 30.4h0M247.1 33h0M249 35h0M246.9 32.6h0M249.8 30.6h0M236.8 38.3h0M236.5 40.7h0M235.6 37.5h0M279.6 19.8h0M284.1 32.3h0M271.8 48.3h0M271.1 47.5h0M301.9 37.7h0M302.6 38.6h0M305.7 41.6h0M304.6 41h0M286.1 49.7h0M218.4 56h0M233.4 80.7h0M244.7 59.7h0M246.1 60.5h0M272.5 51.5h0M271.9 51.7h0M272.7 51.8h0M282.6 73.3h0M282.9 73.1h0M293.7 80h0M227.6 93.3h0M212.5 134.5h0M248.4 100.4h0M254.9 94.8h0M247.2 117.2h0M245.7 122.9h0M248.3 123.4h0M273.7 105.6h0M270.8 103.7h0M304.6 110.1h0M272.6 116.5h0"/>
<path stroke="#e2e230" stroke-width="1.8" d="M222.9 37.9h0M220.5 35.4h0M226.2 36.2h0M225.6 33.6h0M221.1 34.5h0M232.2 25.6h0M255.1 16.8h0M255 17.6h0M241.3 26.9h0M240.3 27.5h0M250.2 33.2h0M237.6 39.5h0M237 41.2h0M237.4 39.3h0M263.9 33.9h0M264.9 34.4h0M264.8 34.6h0M285.5 32.1h0M271.7 48h0M303.9 36.3h0M307.2 39.2h0M306.2 41.9h0M304.3 40.4h0M301.9 41.2h0M233.3 82h0M233.3 82.6h0M245.7 59.4h0M246 59.4h0M282.9 73.8h0M227.2 93.5h0M209.6 135.5h0M212.2 135.7h0M254.9 95.7h0M255 94.8h0M245.9 121h0M271.3 105.3h0M301.6 111h0M315.5 113.6h0"/>
<path stroke="#e2e230" stroke-width="2.6" d="M222.8 35.2h0M223.7 31.1h0M223.7 39.2h0M252.9 14.5h0M249.3 30.6h0M246.2 35.4h0M236.2 39.2h0M270.8 48.7h0M271.4 48.6h0M301.6 37.1h0M283.8 73.5h0M282.3 71.8h0M248.6 98.2h0M256.8 97.2h0M255.7 96.6h0M255.6 95.2h0M244.1 118h0M244.4 120.4h0M244.5 118.4h0M272 102.8h0M296.4 106.1h0M303.9 112.2h0M273.3 116.9h0M306.1 117h0"/>
<path stroke="#e2e230" stroke-width="2.4" d="M224.1 39.1h0M226.6 37.6h0M227.5 31.8h0M220.5 36.5h0M222.3 37.2h0M254.5 16.8h0M255.3 15.3h0M256.7 17.5h0M241.5 27.6h0M251.5 33.8h0M263.5 32.8h0M263.2 33.6h0M304.7 38.4h0M285 49h0M218.4 56h0M233 81.4h0M238.5 84.7h0M271.9 50.1h0M272.5 52.3h0M272.7 52.3h0M309.3 68.2h0M227 93.3h0M210.8 135.2h0M210 135.6h0M210.9 134.1h0M255.7 96.2h0M245.1 117.3h0M246 116.5h0M247 119.4h0M250.6 116.7h0M242.5 126.7h0M272.7 104.5h0M303.4 111.1h0M304.9 119.6h0"/>
<path stroke="#dc4a58" stroke-width="2.2" d="M219.5 37.8h0M219.1 37.5h0M220.7 38.9h0M235.8 33.4h0M235.4 33.4h0M244.2 34.6h0M243.8 34.6h0M234.1 46.5h0M234.6 45.5h0M256.4 48.8h0M254.1 43.9h0M257.2 47.3h0M290.8 25.5h0M294.1 26.1h0M295.7 26.9h0M287.9 24.8h0M288.1 24.4h0M281.7 37.9h0M306.6 34.9h0M304.9 34.8h0M304.4 47.2h0M233.8 61.1h0M229.8 62.8h0M228.7 59.9h0M234 90h0M251.3 53.1h0M254.6 70.3h0M245 74h0M243.7 73.7h0M243.3 74.3h0M252.5 80.5h0M274.6 60.2h0M275.1 58.8h0M275.5 63.4h0M275.7 63.2h0M298.8 60.6h0M327 69.3h0M293.3 76.3h0M293.4 76.5h0M272.5 79.1h0M279.3 89.1h0M278.3 87.4h0M276.5 85.4h0M278.9 88.4h0M280.5 85.9h0M280.2 85.7h0M291.9 84.9h0M233.1 93.1h0M233.3 95.8h0M226.5 108h0M236.2 101.8h0M238.5 101h0M264.4 117.4h0M276.2 96.7h0M275.3 107.9h0M287.5 105.6h0M297.1 99.8h0M304.5 107.8h0M300.8 106.9h0M300 108.8h0M301.5 109.2h0M291.3 113.4h0M292.6 127.1h0M320.6 136.8h0M286.4 123.4h0"/>
<path stroke="#dc4a58" stroke-width="2" d="M220.8 37.4h0M218.1 38h0M219.5 43.2h0M219.7 43.6h0M243.3 38.4h0M232.9 47.7h0M235.7 49.5h0M256.7 44.5h0M257.1 45h0M254.6 48.8h0M293.3 30.7h0M291.8 30.8h0M293.5 28.1h0M291 24h0M296.8 29.6h0M297.3 28.1h0M290 26.3h0M282.5 38.9h0M280.9 36.5h0M278.1 39.1h0M306.1 33.5h0M306.3 35.2h0M306.9 34.2h0M303.9 47.9h0M304.5 47.6h0M305.2 48.5h0M230.3 58.3h0M228.2 60.2h0M228.8 64.2h0M227.4 60h0M229.9 63.4h0M231.9 55.3h0M241.5 62.5h0M234.5 88.9h0M234.7 90.4h0M233.1 90.7h0M252 56.5h0M252.8 54.2h0M251.8 80.7h0M255.4 72.6h0M275.4 67.1h0M289.4 61.7h0M287.8 67.7h0M289.6 72.3h0M294.6 76.9h0M272.2 77.9h0M271.8 77.8h0M279.5 85h0M276.3 87.8h0M280.6 84.8h0M279.6 85.5h0M293.3 84.6h0M234.7 94.6h0M235.2 92.4h0M228.2 108.3h0M226.9 108.5h0M237.4 102h0M238.3 100.7h0M275.4 95.9h0M287.6 93.7h0M288.1 94.2h0M275.2 109.2h0M298.4 99.5h0M299 100.1h0M299.1 98.9h0M300.2 104.6h0M293.3 127.8h0"/>
<path stroke="#dc4a58" stroke-width="2.4" d="M219.3 38.4h0M234.3 46.3h0M255.4 48.8h0M281 22.3h0M291.3 29.7h0M294.7 32.3h0M295 27.2h0M294.6 31.5h0M294.1 27.5h0M294.5 27.2h0M292.2 27.2h0M295.3 32.5h0M291.5 26.8h0M286.8 27.4h0M290 24.6h0M287.6 26.6h0M279.1 35.9h0M279.4 40.5h0M303.7 48.4h0M304.7 46.7h0M304.7 46.6h0M251.6 52.3h0M250.4 55.8h0M252.5 62h0M244.6 74.9h0M244.6 72.9h0M245.1 73h0M255.7 72.3h0M274.2 60.3h0M273.5 60.5h0M274.8 65.6h0M275.6 66.2h0M276.1 65.6h0M325.6 69.4h0M327.4 68.6h0M289.3 71.8h0M271.6 77.8h0M275.5 88.5h0M277.6 88.3h0M275.6 88.1h0M292.6 85.2h0M233.7 92.9h0M235.2 93.2h0M232.3 92.8h0M227.4 109.5h0M227.7 109.4h0M227 107.7h0M225.6 108.9h0M237.5 102.9h0M255.4 107.8h0M259 117.4h0M288.1 94.5h0M286.5 93.6h0M286.4 102.6h0M308 104.5h0M300.5 104.8h0M304.5 106.7h0M292.5 128.4h0M319.2 135.2h0M318.3 133.7h0M319.4 135.8h0M318.7 134.3h0M318 133.7h0"/>
<path stroke="#5a5ae0" stroke-width="1.8" d="M229 37.8h0M239.2 35.6h0M239.6 35.6h0M252.2 42.2h0M252.2 43h0M317.5 20.4h0M325.5 17.7h0M322.7 18.4h0M286.4 45.7h0M233.3 76.9h0M237.1 85.1h0M248.4 52.9h0M249.3 51.8h0M248.5 53.8h0M260.3 61.5h0M265.9 58.5h0M258.1 81.2h0M267.3 88.3h0M265.8 86.9h0M265.4 89.2h0M264.7 87.5h0M293.4 54.9h0M291.3 55.1h0M291.2 50h0M291.4 51.7h0M273.9 62.4h0M273 62.3h0M293 67.8h0M237.3 103.8h0M232.6 105.7h0M237.1 106.1h0M237 102.6h0M255 101.7h0M262.1 98.5h0"/>
<path stroke="#5a5ae0" stroke-width="2" d="M228.3 38.6h0M248.8 27.4h0M255.1 39.2h0M252.4 42.6h0M288.5 20h0M318 19.3h0M328.5 23.6h0M324.1 19h0M323.8 20.7h0M325.5 22.7h0M323.5 21.7h0M233.4 77.4h0M266.8 56.6h0M264.1 58.9h0M289.1 52h0M273.9 62.5h0M273.7 61.5h0M312.8 66.8h0M321.9 75.8h0M308.5 75.6h0M238.3 95.3h0M239.1 96.4h0M258 103.6h0M256.8 103.9h0M255.9 99.7h0M263.3 97.8h0M263.9 98.2h0M308.5 115.3h0M316 126.7h0"/>
<path stroke="#5a5ae0" stroke-width="2.2" d="M228.7 37.5h0M229.6 37.4h0M249.1 26.9h0M238.9 34.4h0M267.1 34.1h0M289.2 23.1h0M288.1 19.6h0M318.2 20.4h0M325.5 17.4h0M326.9 18h0M329 19.2h0M324.7 19.2h0M327.5 24.8h0M326.3 21.9h0M323.4 20.8h0M248.6 52.2h0M264.9 57.2h0M266.2 55.7h0M266.5 55.6h0M267.8 79.5h0M258.9 80.3h0M258.8 80.6h0M266 88.5h0M266.6 88.8h0M264.9 88.4h0M241.5 76.2h0M293.6 52.9h0M294.3 67.4h0M293.4 66.1h0M295 67.4h0M294.2 66.9h0M295.2 67.8h0M312.7 67.3h0M322.4 75.7h0M323.1 76.2h0M237.2 106.1h0M234.4 104.5h0M235.3 101.3h0M231.7 105h0M234.3 106h0M237.3 102.5h0M259.3 103h0M257.6 102.8h0M261.9 98.3h0M263.4 99.2h0M309.4 95.3h0M311.4 117.2h0M316 127.2h0"/>
<path stroke="#5a5ae0" stroke-width="2.4" d="M228 37.8h0M239.6 35.5h0M239.8 34.6h0M267 34.8h0M288.6 23.3h0M289.6 23.5h0M288.2 23.7h0M318 19.3h0M324.4 22.9h0M321.3 43.6h0M233.5 77.4h0M249 51h0M249 50.5h0M250 52.7h0M268.4 56.9h0M263.9 59.2h0M265.8 58.4h0M257.8 80.1h0M261 86.3h0M241.9 76.4h0M241.9 77.3h0M293.1 53.2h0M290.6 53.3h0M290.2 54h0M274.2 63.5h0M323.3 72.6h0M319.3 76.9h0M226.5 104h0M237.8 105.6h0M239.7 95.3h0M256.4 102.6h0M257.7 100.4h0M262.4 97.8h0M262.7 99.1h0M296 112.5h0M311.2 117.1h0"/>
<path stroke="#e0505c" stroke-width="2" d="M212 44.3h0M223.9 29.8h0M229.7 24.7h0M235.5 18.1h0M236.7 17.4h0M244.9 18.3h0M257.9 21.4h0M244 41h0M243.9 40.3h0M242.8 38.9h0M244.7 41.2h0M235 48h0M263.3 42.9h0M267.8 48.7h0M272.6 13.2h0M281 22.8h0M291.8 27.4h0M308 25.5h0M320.5 27.6h0M323.3 30.5h0M322.7 30.4h0M273.1 33.1h0M283.2 41.5h0M282.8 40h0M277.2 47.2h0M274 48.7h0M219.9 76.6h0M217.1 80.2h0M217.6 79.5h0M218.8 81.5h0M216.3 82.9h0M234.6 55.3h0M236.6 54h0M243.6 90.4h0M249.2 69.1h0M250.6 67.7h0M254.3 61.6h0M254.3 67.4h0M252.7 64h0M253 65.3h0M264.5 68.1h0M265.6 83.9h0M281.1 56.8h0M279.9 55.1h0M278.7 58.1h0M308.8 51.2h0M309 52.3h0M290.4 62h0M286.7 66.7h0M291.2 67.3h0M287.8 66.3h0M296.8 66h0M310.4 62.8h0M309.7 62.1h0M305.1 74.1h0M271 78.8h0M309.1 85.9h0M224.2 96.5h0M243.7 93.6h0M245.5 96.3h0M250.9 114.6h0M249.7 114.7h0M249.7 115h0M251.5 114h0M252.2 116.8h0M257.6 118.3h0M264.5 116.7h0M276.5 100.7h0M275.1 102.7h0M276.3 107.5h0M289.1 103.5h0M304.8 109.3h0M318.1 119h0M319.2 117.1h0M320.3 118h0M318 119.2h0M318.9 113.3h0M318.1 113.4h0M317.9 112.1h0"/>
<path stroke="#dcdc22" stroke-width="2" d="M215.9 41.4h0M253.6 21.9h0M254.4 22.6h0M251.5 28.3h0M259.1 29.8h0M229.7 42.9h0M305.5 26.6h0M304.4 28.1h0M327.7 45.9h0M328.2 46.4h0M238.6 68h0M234.7 70.9h0M236.1 70.2h0M261.5 58.2h0M240.1 65.3h0M251.6 75.5h0M318.5 52.2h0M321.9 50.9h0M322.4 51.1h0M283.3 64.8h0M304.6 69.2h0M306.7 69.6h0M305.3 70.4h0M283.3 77.2h0M291.9 82.1h0M298.9 73.2h0M295.6 88.8h0M220.8 112h0M232.4 107.8h0M232.3 107.7h0M242.3 95.8h0M244.2 98h0M252.8 118.5h0M252 122.6h0M254.8 118.2h0M246.6 125h0M254.6 119.6h0M252.6 126.5h0M250 124.9h0M251.1 117.6h0M254.2 118.6h0M249.9 128.5h0M247.5 125h0M249.2 127.2h0M270.4 117.2h0M269.3 117.3h0M296.6 93.3h0M312.9 96.7h0M270.7 119.2h0M281.8 118.6h0M280.4 118.2h0M303.4 117.1h0M315.5 116.6h0M281.8 130.2h0"/>
<path stroke="#dc4a58" stroke-width="1.2" d="M219.5 43.6h0M235.5 33.4h0M244.2 34.9h0M255.1 72.5h0M289.2 71.8h0M292.6 127.7h0M286.8 123.6h0M218.6 85.9h0M326.6 78.2h0M317.7 26.9h0"/>
<path stroke="#dc4a58" stroke-width="2.6" d="M219.3 42.9h0M236 33h0M244.7 34.9h0M234.8 46.1h0M293.7 31.7h0M289.8 30.3h0M294.5 26.1h0M294.3 30.9h0M288.2 29.8h0M290.9 27.9h0M281.2 36.9h0M280.5 40h0M306.1 34.1h0M305.7 33.9h0M233.4 60.3h0M231.5 59.1h0M231.2 61h0M251.5 54.4h0M255.7 72.7h0M274 60.2h0M276.1 65.3h0M325.5 68.9h0M271.8 80.4h0M273.4 79.5h0M276.5 89.7h0M276.9 88.2h0M277 89.6h0M278.8 89h0M227.6 119.8h0M242.8 92.1h0M287.5 94.1h0M287.7 94.7h0M285.9 104.6h0M286.5 102.6h0M288.7 103.9h0M286.8 105.5h0M309.2 102.7h0M303 104.9h0M318.7 112.2h0M287.3 124h0"/>
<path stroke="#4b4bd6" stroke-width="1.2" d="M218.8 48.7h0M274.6 30.5h0M271.7 38.5h0M290.1 126.9h0M330.4 62.7h0M296.9 85h0M264.5 29.2h0M262.7 69.1h0M320.1 59.1h0M219.3 94.1h0"/>
<path stroke="#4b4bd6" stroke-width="2" d="M219.3 48.6h0M258.9 34.5h0M259.9 33.8h0M261.2 34.6h0M263.9 37.1h0M266.8 33.4h0M270 37.7h0M251.6 42.3h0M259 43h0M288 31.6h0M272 38.7h0M282.6 43.6h0M287.7 45.6h0M296.2 43.4h0M293.6 46.2h0M221.4 87h0M219.7 89h0M226.8 84.9h0M234 76.1h0M234 82.7h0M234.8 86.2h0M235.1 84.6h0M246 83.7h0M261.6 65.2h0M259.4 65.9h0M259.6 86.7h0M261.4 87.5h0M285.3 57.2h0M292.3 56.5h0M316.1 60.2h0M323 70.5h0M323.7 72.5h0M271.2 69.3h0M274.7 70.4h0M272.8 69.6h0M306 80.1h0M308.6 75.9h0M310.2 76.1h0M313 88.9h0M313.3 89.7h0M219.1 93.7h0M219.1 94.6h0M226.4 105h0M280.1 97.8h0M279.3 98.3h0M278.2 107.8h0M274.3 105.4h0M280 105.7h0M279.5 106.8h0M279.5 105h0M286.5 108.8h0M307.5 113.5h0M309.7 113.9h0M290.3 127.3h0"/>
<path stroke="#4b4bd6" stroke-width="2.6" d="M218.9 49h0M265.1 34.3h0M263 36.8h0M269 39.2h0M270.9 38.9h0M252.3 41.7h0M262.5 46.4h0M327.7 18.9h0M329.2 19.5h0M329.5 17.8h0M274.4 30.2h0M275.3 30.7h0M272.3 38.5h0M287.7 46.5h0M287.6 45.8h0M285.8 46.8h0M297.4 46.5h0M221.6 85.6h0M236 83.4h0M260.6 84.9h0M311.8 67.7h0M323.9 73h0M272.3 72.6h0M274.1 68.7h0M281.2 80.7h0M281.5 81.7h0M305.9 90h0M305 89.7h0M305.2 89.5h0M218.6 94h0M219.7 95h0M218.7 93h0M327.5 99.5h0M327.1 99.6h0M275 106.6h0M285.2 109.3h0M308.5 113.5h0M311 110.5h0"/>
<path stroke="#4b4bd6" stroke-width="2.4" d="M219.1 48.2h0M260.6 35.8h0M258.8 35.7h0M263.5 33.5h0M267.8 40.2h0M270.5 39.1h0M263.7 47.6h0M264 47.3h0M263 47.4h0M289.3 31.6h0M290 32.6h0M311.4 28.8h0M327.6 20.5h0M326.7 19.9h0M286.9 45h0M285.8 46.3h0M289.2 48h0M293.3 44.4h0M297.1 45h0M221.7 87.5h0M236.6 84.2h0M236.1 86h0M262.1 87h0M259.5 86h0M274.6 68.9h0M274.9 70.2h0M271.1 71.2h0M306.4 81.9h0M306.6 81.5h0M309.3 76.2h0M307.4 90.8h0M307.7 88.8h0M306 90.9h0M312.8 90.1h0M311.7 90.1h0M269.3 106.4h0M327.5 99.6h0M277.1 102.6h0M280.7 105.3h0M286 107.8h0M285.3 107.7h0M287 108.8h0M310 116.7h0M289.9 126.5h0"/>
<path stroke="#5a5ae0" stroke-width="1.6" d="M224.6 26.9h0"/>
<path stroke="#e0505c" stroke-width="2.2" d="M237 17.4h0M237 18.4h0M235.5 18.2h0M246.4 18.2h0M246.7 18.5h0M246.2 19.7h0M246.5 16.5h0M245.2 18.1h0M256.6 22.5h0M256.9 22.5h0M257.8 22.4h0M255.8 21.4h0M243.5 40h0M234.7 48.6h0M265.7 43.3h0M291.9 25.5h0M306.4 25.8h0M306.1 24.9h0M305.6 23.6h0M308.3 22h0M321.1 26.9h0M272.5 34.2h0M283.2 39.6h0M279.6 45.2h0M274.6 48.1h0M218.5 81.5h0M237.9 52.1h0M236.6 53.7h0M236.2 53.1h0M237.5 52h0M242.5 89.6h0M257.6 57h0M250.1 66.4h0M252.8 68.6h0M251.7 67.4h0M256.2 65.3h0M255.8 64.5h0M264.1 69.7h0M268.4 66.7h0M266.9 71.3h0M269.5 67.6h0M264.6 83.9h0M264.4 84.3h0M303.9 50.3h0M307.9 52.8h0M292.5 63.3h0M289.1 62.4h0M298.6 65.1h0M299.1 61.5h0M308.5 62.7h0M308 63.6h0M305.2 72.5h0M303.8 73h0M305.9 73.7h0M310.5 77.1h0M310.8 79.1h0M312 79.1h0M309.5 86.3h0M238.7 101.6h0M245.9 95.6h0M242.7 93.9h0M267 99.2h0M249.9 118.7h0M249.6 118.6h0M265 116.6h0M265.1 116.5h0M264.2 115.9h0M278 95.3h0M276.7 96.4h0M275.7 94.7h0M305.8 110h0M306.8 108.4h0M304.6 110.1h0M287.3 114.2h0M317.3 118.6h0M323.3 113.8h0M323.1 114.2h0M323.2 109.9h0M319.3 111.8h0M322.9 109.8h0"/>
<path stroke="#e0505c" stroke-width="2.6" d="M236.9 18.6h0M236.3 18.4h0M244.4 40h0M265.3 43.6h0M268.3 48.4h0M267.8 47.5h0M306.8 21.6h0M320.1 28h0M322.6 30.9h0M272.8 33.2h0M283.1 39.9h0M277.5 45.8h0M215.1 80.5h0M237.7 52.2h0M243.1 90.4h0M255.1 64.9h0M250.2 66.2h0M253.6 61.5h0M256 67.7h0M267.4 68.9h0M250.7 79.5h0M252.1 79.8h0M281.1 57.3h0M278.1 57.4h0M280.4 56.8h0M280.9 57.5h0M289.2 66.4h0M291.1 63.3h0M299.1 61.1h0M297.2 60.9h0M298.9 65.6h0M301.2 62.8h0M297.3 64.5h0M309.5 63.8h0M283.7 69.2h0M305.7 72.3h0M310 79.5h0M313.2 75.9h0M312.3 77.6h0M309.2 76.1h0M309.2 88h0M308.1 86.9h0M310.7 85.8h0M232.1 94.5h0M245.5 93h0M246.6 96.8h0M251.1 114.7h0M248.3 114.8h0M276.9 95.8h0M277.5 96.2h0M275.7 102.2h0M276 99.4h0M282 101h0M287.8 105.3h0M317.7 136.1h0"/>
<path stroke="#e0505c" stroke-width="2.4" d="M246.5 17.5h0M235.2 48.9h0M264.1 42.6h0M266.4 42h0M307.5 22.4h0M322 28.2h0M272.3 34.9h0M279.3 38.4h0M279.3 46.2h0M273.9 47.3h0M274.4 47.5h0M218.2 84h0M243.1 89.9h0M253.7 67h0M249.4 65.7h0M255.3 67h0M252.8 62.3h0M251.8 67.1h0M251.3 64h0M250.5 63.9h0M264.5 68.1h0M269 69.6h0M265.6 69.4h0M268.3 69h0M269.8 69.3h0M281.8 57.5h0M279 58.8h0M280.9 59.2h0M281.8 58.5h0M307.7 51h0M289.4 66.1h0M287.9 65.6h0M294.8 64.6h0M298.4 63.5h0M299 60.4h0M310.4 64.7h0M311.1 64.9h0M317.8 68h0M283.7 68.9h0M284 69.3h0M306.5 73.2h0M309.5 76.4h0M311.5 77.7h0M311.5 76.6h0M310.4 87.5h0M245.4 93.5h0M246.6 96.7h0M244.7 91.2h0M244.4 93.6h0M266.5 99h0M264 116.9h0M264.1 117.8h0M242.9 91.5h0M276 95.3h0M275.2 101.1h0M273.9 100h0M274.8 101.5h0M276.5 99.7h0M283.5 100.7h0M305.9 108.6h0M304.9 110h0M305.3 110h0M318.4 117.8h0M319.8 119h0M318.3 110.1h0M301.1 131.3h0M301.4 131.4h0M300.8 131.2h0M315 130.3h0"/>
<path stroke="#e2e230" stroke-width="3.2" d="M254.4 16h0"/>
<path stroke="#dcdc22" stroke-width="2.4" d="M256.4 14h0M256.1 18.2h0M259.7 31.2h0M259.2 28h0M305.8 24.8h0M307.2 29.9h0M317.9 25.9h0M236.2 70.6h0M236.8 69.8h0M234.3 69.6h0M229.6 70.5h0M228.3 72.9h0M239.9 65.3h0M249.9 76.6h0M252.4 74.9h0M259.9 78.6h0M272.7 52.4h0M281.2 63.2h0M305.6 67.8h0M308.3 68.2h0M306.1 65.7h0M284.8 75.8h0M286.9 76.4h0M292.9 79h0M292 81.2h0M299.3 73.4h0M280.5 89.5h0M279.8 88.9h0M294.5 91.3h0M220.5 110.8h0M232.7 108h0M242.4 97.8h0M243.8 97.7h0M243.4 97h0M266 104.9h0M252.3 126.5h0M253.2 123.7h0M245.6 124.2h0M248.8 122.3h0M253.9 127.4h0M248.8 125.7h0M249 122.1h0M254.7 121.6h0M253.7 122.8h0M249.6 125.7h0M248.2 124.2h0M293.6 95.4h0M287 110.1h0M314.2 115.3h0M281.6 131.2h0M281 129.2h0"/>
<path stroke="#dcdc22" stroke-width="2.6" d="M261 17h0M254 21.9h0M259.5 29.5h0M257.8 30.3h0M303.9 26.9h0M307.3 30.1h0M326.9 45.6h0M235.1 69.1h0M261.6 57.5h0M261.5 57.1h0M307.9 69.7h0M284.8 76.9h0M285.2 79h0M285 75.1h0M221.6 111.9h0M247.7 126h0M245.1 127.5h0M249.3 122.9h0M246.4 127.6h0M270.4 117.3h0M294.8 95.7h0M293.6 91.2h0M315.6 115.7h0M313.5 113.4h0M282.6 129.2h0"/>
<path stroke="#dcdc22" stroke-width="2.2" d="M261.2 15.9h0M260.7 31.1h0M304.4 27.9h0M307.7 26h0M304.7 30.2h0M327 46.5h0M327.6 46.4h0M326.6 47.8h0M234.3 63.9h0M238.8 70.1h0M229 71.8h0M230.4 72.1h0M228.5 70.7h0M227.9 71.2h0M250.8 75.4h0M251.5 74.4h0M252.4 75.5h0M318.8 53.4h0M321.4 50.7h0M281.9 63.8h0M283.5 63.6h0M282.1 62.7h0M300.9 65.2h0M304.4 66.5h0M306.2 70.8h0M292.1 80.5h0M300.2 74.3h0M279.9 88.1h0M278.6 89.7h0M295 90h0M294.9 91.4h0M295.6 91.1h0M295.2 88.7h0M221.2 111.6h0M220.3 113.1h0M212.4 132.8h0M231.8 106.9h0M231.9 106.4h0M241.3 97.7h0M241.8 97.2h0M247 126.8h0M255.5 126.1h0M253.4 120.3h0M253.7 121.3h0M249.4 124.1h0M247.7 128h0M296 94.1h0M294.7 100h0M281.1 118.7h0M282.1 119.8h0M281.3 120h0M312.2 114.7h0"/>
<path stroke="#e45a62" stroke-width="2.4" d="M256.7 23.3h0M233 29.2h0M235 30.5h0M237 45.9h0M238.6 46.9h0M253.7 49.4h0M280.6 21.7h0M215 67.1h0M221.8 72.6h0M221.3 76.8h0M219.4 78h0M233.1 56.6h0M232.8 57.9h0M255 55.6h0M258.7 57.5h0M254.5 57.1h0M250.6 60.8h0M252.4 60.9h0M251.2 64.8h0M267.1 72.8h0M264 77.2h0M245 74.2h0M257.6 90.7h0M305.7 52.2h0M299.9 62.3h0M316 66.8h0M289 72.4h0M304.1 71.9h0M225.7 99.9h0M225.3 99.8h0M223.6 115h0M239.3 111.5h0M239.3 112.1h0M238.5 111.9h0M256.8 107.3h0M254.6 103h0M258.6 116.4h0M305.7 92.3h0M275.2 108.6h0M275.9 108.5h0M276.4 109.2h0M310.1 101h0M309.5 101.8h0M307.8 103.3h0M303.1 108.4h0M290.2 114.5h0M288.7 116.5h0M304 122.5h0M313.9 129.3h0M316.7 131.5h0M316 134.5h0"/>
<path stroke="#e0505c" stroke-width="1.8" d="M255.8 23.1h0M235.5 48.7h0M265.4 44.1h0M265.9 44.7h0M266.8 42.4h0M267.5 48h0M272.5 13.2h0M305.8 22.5h0M309.8 22.7h0M322.1 26.4h0M322.1 26.7h0M319.6 27.4h0M273 32.9h0M272.3 33.1h0M282.6 40.7h0M277.7 46h0M278.5 46.6h0M276.7 45.6h0M273.9 48h0M217.7 83.5h0M233.6 55.7h0M238.9 52.1h0M236.1 51.3h0M242.8 90.7h0M255 68.5h0M251.5 63.7h0M250.5 61.9h0M268.4 69.2h0M265.5 73.6h0M251.5 79.8h0M264.6 84.2h0M264.8 83.7h0M308.1 52.2h0M291.1 63h0M290.6 61.5h0M309.7 65.1h0M284.8 68.9h0M310.1 85h0M245.6 95.9h0M246.4 92.9h0M264.2 118.7h0M281.8 99.9h0M322 109.7h0M319.2 112h0M318.9 109.8h0"/>
<path stroke="#5a5ae0" stroke-width="1.2" d="M248.6 26.9h0M241.3 76.9h0M315.9 126.9h0M222.8 79.8h0M227.2 120.4h0M250.2 106.1h0M236.6 15.6h0M209.7 114.6h0"/>
<path stroke="#5252dc" stroke-width="2" d="M248.5 27h0M255.6 36.7h0M254.1 37.3h0M258.8 41.8h0M297.1 27.7h0M297.6 28.6h0M298 25.7h0M297.7 25.8h0M297.1 34.2h0M297.6 40.9h0M300.7 47.4h0M312.3 39.9h0M311.1 37h0M315.5 37.8h0M313.9 38h0M312.4 39.9h0M294.3 40.7h0M221 52.2h0M218.8 50h0M241.2 60.6h0M238.2 64h0M260.2 65.1h0M269.2 80.4h0M285.5 56.1h0M284.9 57.2h0M296.2 57h0M296.5 53.2h0M293.2 58.6h0M297.1 56.4h0M297.2 53.7h0M295.2 53.2h0M294.1 50.8h0M295.2 52.8h0M289.1 52.6h0M306.4 56.8h0M306.7 55.9h0M284.7 82.5h0M226.6 103.6h0M216.9 124.1h0M218.9 124.3h0M220.8 135.3h0M221.2 135.2h0M248.6 102.5h0M251 105h0M239.1 111.1h0M238.5 112.3h0M254.9 93.7h0M254.4 94h0M269 107.8h0M309.9 93.4h0M286.8 107.3h0M299.6 97.9h0M295.2 113.1h0M297.7 110.5h0M292.8 112.7h0M273.5 112.8h0M273.5 111.4h0M274.3 113h0M298.4 120.1h0M310.9 117.8h0M310.9 117.5h0"/>
<path stroke="#5252dc" stroke-width="2.2" d="M236.2 31.3h0M237.5 31.1h0M251.3 38.1h0M248.8 37.4h0M255.8 39.2h0M256.1 37.5h0M289.5 22.9h0M295.9 25.4h0M295.7 34.2h0M295.4 33.3h0M294.8 34.2h0M309.8 29.2h0M299.6 47h0M313.6 37.4h0M312.2 36.6h0M320.4 42.9h0M320 42.4h0M229.8 66h0M225.7 63.4h0M229.5 64.3h0M228.5 64.1h0M228 65.1h0M240.8 59.2h0M240 64.2h0M236.4 64.1h0M245 84.9h0M245.1 84.6h0M259.8 66.3h0M261.5 63.1h0M261 62.3h0M269 79.1h0M259 80.8h0M289.9 55.7h0M297.1 55.4h0M294.7 60h0M293.6 54.1h0M307.3 56.5h0M306.3 55.3h0M308.4 55.6h0M321.5 75.3h0M270.9 70.5h0M281.6 79.7h0M286.1 81.7h0M286.8 81.9h0M286.3 82.8h0M284 82.6h0M218.1 125.1h0M217.1 125.2h0M222.7 133.9h0M219.8 134.2h0M250 101.9h0M249 103.5h0M249.8 104h0M238.1 111.1h0M254.2 94h0M270.3 108.4h0M312.1 94.7h0M312.8 95.4h0M308.8 94.7h0M299.4 101.5h0M299.4 100.4h0M295.4 111.3h0M297.1 107.7h0M292.3 109.3h0M274.3 113.3h0M299.7 119.5h0"/>
<path stroke="#5252dc" stroke-width="2.4" d="M236.2 30h0M236.1 32.7h0M235.6 29.9h0M236.8 31.6h0M248.5 40.1h0M251.1 37.8h0M249.6 40.9h0M251.6 39.2h0M254.7 36.7h0M256.6 39.1h0M297.8 25.8h0M295.6 33.5h0M295.6 34h0M298.4 41.3h0M314.1 39.8h0M315.8 40.1h0M312.8 36h0M313.1 37.9h0M319 43h0M320.1 41.6h0M319.5 42.2h0M313.4 47.8h0M313.1 47.5h0M219.3 91.1h0M228.5 65.2h0M226.3 66.7h0M227.7 62h0M236.9 64.7h0M239.7 60.2h0M244.3 85.9h0M262.7 65.5h0M269.7 78.8h0M285.7 55.9h0M290.7 56h0M290.8 51.6h0M296.2 51.7h0M290.1 58.6h0M307.4 55.6h0M305.5 79.3h0M284.3 82.9h0M226.1 102.6h0M217.5 123.6h0M219.1 122.3h0M217.1 123.4h0M220.8 133.6h0M220.6 132.1h0M234.7 102.6h0M238.1 96.4h0M250.1 105.9h0M251.3 103.5h0M238 110.4h0M238.9 110.6h0M269.5 108.2h0M268.4 108.5h0M313.1 94.4h0M309.3 96.8h0M312 91.3h0M308.8 93.1h0M302.3 99.9h0M299.6 99.5h0M297 110.1h0M293.4 112.2h0M299.3 120.3h0M299.8 121.8h0M297.6 120.2h0"/>
<path stroke="#5252dc" stroke-width="1.8" d="M237.6 31.9h0M250.4 40.3h0M258.8 42.9h0M259.2 43h0M298.2 26.4h0M300.1 48h0M300.5 48.2h0M314.4 36.1h0M315 38.6h0M321.4 43.9h0M227.9 67.1h0M228.7 67.1h0M262.8 61.5h0M260.7 61.3h0M269.2 79.2h0M269.1 78.7h0M285.5 56.5h0M293.8 60.1h0M296.7 53.4h0M289.7 58.4h0M292.6 57.3h0M295.2 57.8h0M306.7 55.2h0M286 79.6h0M288.4 80.3h0M287.3 82.1h0M221 133.1h0M221.7 134.1h0M250.4 105.5h0M257.4 101.3h0M256.6 100.4h0M312.6 92.2h0M297.6 99.9h0M297.8 121.2h0M311 117.8h0"/>
<path stroke="#d8d81e" stroke-width="3.8" d="M241.3 32.7h0M212.5 132.7h0M300.9 116.1h0"/>
<path stroke="#e2e230" stroke-width="3.4" d="M248.6 33.4h0"/>
<path stroke="#dc4a58" stroke-width="1.8" d="M234.1 46.2h0M254.4 47.3h0M257.1 47.1h0M294.8 33.2h0M292 32.4h0M288.4 28.6h0M277.8 38.3h0M230.5 62.7h0M228.6 60.1h0M231.7 61.4h0M234.1 90h0M250.5 52.8h0M252 55.5h0M253.5 68.7h0M267.3 67.7h0M274.6 60.4h0M275.2 59.1h0M278.2 65.2h0M325.1 70.4h0M325.7 69.4h0M324.2 67.5h0M294.3 76.9h0M294.2 77.4h0M278.7 89.7h0M278.4 88.4h0M280.4 84.9h0M292.8 84.2h0M232.4 94.4h0M225.2 99.9h0M226.7 110.9h0M307.8 92.8h0M285.2 103.6h0M298 100.6h0M298.2 100.4h0M301.9 109.2h0M303.4 104.2h0M302.6 107.3h0M300.2 104.2h0M320.9 135.4h0M286.7 123h0"/>
<path stroke="#e45a62" stroke-width="2.6" d="M239.2 45.8h0M239.2 43.7h0M240.2 46h0M255.1 48.9h0M252.8 47.9h0M280.4 23.3h0M281.4 22.9h0M217.6 67.5h0M215.2 69.3h0M219.4 71h0M220.5 72.5h0M220.3 76.9h0M232.4 60.1h0M233.3 56.5h0M237.8 90h0M238.1 88.5h0M263.6 70.3h0M301.7 52.1h0M305.2 52.3h0M302.4 51.7h0M301.4 53.5h0M304.5 51.6h0M284.7 69.6h0M283.3 76.6h0M313.4 77.6h0M224.5 99.3h0M225.2 98h0M224.9 99.8h0M222.2 123.6h0M224.4 119.9h0M241.6 112.3h0M257.2 118.8h0M306.4 93.9h0M310.9 101.2h0M310.4 100.3h0M287.5 112.8h0M287.7 118h0M291.1 117.1h0M286.2 116.7h0M288 114.2h0M314.2 129.5h0"/>
<path stroke="#5252dc" stroke-width="2.6" d="M250.1 39.2h0M254.4 38.5h0M259.7 42.6h0M296.4 26.9h0M294.4 34.4h0M321.2 23h0M297.4 41.8h0M299.2 48.6h0M312.7 35.9h0M313.7 34.4h0M313.1 48.3h0M219.2 88.8h0M226.1 62.4h0M236.6 64.1h0M241.1 62.8h0M241 62.6h0M238.6 58.7h0M239 64.3h0M238 63.7h0M235.4 60h0M245.5 85.5h0M244.2 83.7h0M245 84.7h0M259.6 61.7h0M264.3 57.3h0M268.6 80h0M290.5 51h0M290.1 55.3h0M289.3 54.8h0M291.8 59.5h0M287 81.2h0M286.4 80.3h0M227.3 103.9h0M226.1 103.6h0M218 125.2h0M251.4 104.4h0M239.5 112.6h0M253.7 94.2h0M253.7 93.7h0M311.9 91.9h0M309.1 91.4h0M311.7 96.7h0M299.7 99.2h0M299.1 99.2h0M296.8 111.9h0M296.2 113h0M292.6 110.1h0M274.2 112.1h0M273.7 112h0M298.2 121.7h0M297.6 119.4h0M310.9 116.5h0"/>
<path stroke="#4b4bd6" stroke-width="2.2" d="M260.2 34.9h0M259.8 34.8h0M264.2 35.9h0M262.5 35.2h0M268.2 38.3h0M309.9 29.1h0M309.5 29.1h0M328.3 20.7h0M326.8 17.7h0M271.5 38.2h0M296.6 43.4h0M292.6 45.7h0M294.6 46.1h0M296.5 42.6h0M295.2 44.9h0M292.2 45.1h0M239.2 65h0M233.9 86.2h0M233.9 82.3h0M235.4 84.1h0M261 86.3h0M313.2 68.2h0M312.4 67.2h0M314.6 68.6h0M313.8 69h0M323.3 71.8h0M322.2 73.1h0M282.6 79.7h0M305.9 80.5h0M306.4 80.3h0M305.4 82.1h0M306 90.6h0M219.7 93.4h0M238 95.2h0M257.9 100h0M267.7 108.2h0M280.4 96.6h0M279.7 104.6h0M279.5 102.4h0M278 103.7h0M275.7 106h0M276.7 106.1h0M285.5 107.4h0M298.1 109h0M312.6 114.1h0M313.2 112.5h0M309.8 110.8h0M311.7 111.2h0M307.5 112.4h0"/>
<path stroke="#4b4bd6" stroke-width="3.2" d="M265.3 35.6h0M295 45.1h0M235.5 84.2h0M272.5 70.3h0"/>
<path stroke="#4b4bd6" stroke-width="1.8" d="M266.3 32.9h0M268 34.6h0M269.8 38.9h0M267.9 40.4h0M263.1 46.5h0M289.2 32h0M289.5 32.4h0M310.2 28.3h0M327 19h0M275.1 30.8h0M221.7 86.3h0M221.6 85.9h0M219.5 90h0M218.9 90.7h0M236.3 85h0M289.4 51.7h0M288.9 54h0M323.7 71.9h0M272.8 69.8h0M281.9 80.5h0M309.5 75.4h0M305 89.9h0M312.4 90h0M280.5 97.4h0M280.5 98.5h0M279.3 99h0M286.3 108.5h0M300.7 99.6h0M308.8 113.6h0M311.6 113.3h0M290 127.2h0"/>
<path stroke="#dc4a58" stroke-width="3.2" d="M255.1 46.5h0M279.7 38.5h0"/>
<path stroke="#e0505c" stroke-width="1.2" d="M272.5 13.8h0M322.6 30.5h0M266.5 99.5h0M300.9 131.1h0M325.5 129.8h0M308.1 20.2h0"/>
<path stroke="#5a5ae0" stroke-width="2.6" d="M288.4 21.8h0M318.2 19.4h0M323.7 21.6h0M329.3 20.5h0M326.4 22.3h0M324.6 23.8h0M325.9 25.7h0M233.9 77.7h0M268 56.6h0M294.4 68.2h0M321.1 76.9h0M320.3 75.7h0M319 76.9h0M272.2 68.5h0M235.3 104.3h0M238.1 95.7h0M259.2 100.3h0M256.2 102.3h0M255 92.7h0M263.6 97.1h0M315.7 126.2h0"/>
<path stroke="#dc4a58" stroke-width="5.4" d="M292.1 29.1h0"/>
<path stroke="#dc4a58" stroke-width="3" d="M289.2 26.9h0M234.1 93.7h0M286.8 104.5h0"/>
<path stroke="#d8d81e" stroke-width="3.2" d="M302.2 16.7h0M319.7 37.8h0"/>
<path stroke="#e0505c" stroke-width="3" d="M308.1 24h0M216.6 82h0M249.9 116.1h0"/>
<path stroke="#dcdc22" stroke-width="3.2" d="M305.9 27.6h0M306.6 68.2h0"/>
<path stroke="#5a5ae0" stroke-width="4.8" d="M325.5 21.8h0"/>
<path stroke="#e2e230" stroke-width="1.2" d="M284.8 32h0M285.5 49.4h0M218.8 55.8h0M227.4 93.7h0M241.3 120.9h0M283.6 103.8h0"/>
<path stroke="#d8d81e" stroke-width="1.2" d="M274.6 37.8h0M223.2 55.8h0M234.1 63.8h0M308.4 126.1h0M257.8 78h0"/>
<path stroke="#5252dc" stroke-width="1.2" d="M297.9 41.4h0M313.2 48h0M284.8 82.7h0M276.9 20.8h0M210.4 56.9h0M326.6 127.6h0"/>
<path stroke="#e2e230" stroke-width="3.8" d="M304.4 39.2h0"/>
<path stroke="#5252dc" stroke-width="3.8" d="M313.2 37.8h0M238.4 61.6h0M310.1 93.7h0M295.1 110.3h0"/>
<path stroke="#e45a62" stroke-width="3.2" d="M215.9 68.9h0M256.6 55.8h0M251.5 62.4h0M303 52.9h0"/>
<path stroke="#dc4a58" stroke-width="3.8" d="M230.4 60.9h0M276.8 87.1h0M301.8 107h0"/>
<path stroke="#5252dc" stroke-width="3.2" d="M227.5 64.5h0M261 63.8h0"/>
<path stroke="#dcdc22" stroke-width="3" d="M237 69.6h0M294.3 93.7h0"/>
<path stroke="#e0505c" stroke-width="5.4" d="M252.2 66h0"/>
<path stroke="#5a5ae0" stroke-width="3.2" d="M266 57.3h0M291.3 52.9h0"/>
<path stroke="#e0505c" stroke-width="4.4" d="M267.5 70.3h0"/>
<path stroke="#dcdc22" stroke-width="1.2" d="M239.9 66h0M318.2 52.9h0M321.9 50.7h0M269.8 116.9h0M213.5 39.9h0M290.4 129.8h0M221.5 106.6h0M289.7 76h0"/>
<path stroke="#e0505c" stroke-width="3.2" d="M280.4 56.5h0M311.7 77.6h0"/>
<path stroke="#5252dc" stroke-width="5.4" d="M293.5 55.1h0"/>
<path stroke="#e0505c" stroke-width="3.8" d="M289.2 64.5h0M297.9 63.8h0M244.9 94.5h0M320.9 112h0"/>
<path stroke="#e45a62" stroke-width="3" d="M225 98.7h0M255.7 105.3h0M259 116.9h0"/>
<path stroke="#e45a62" stroke-width="1.4" d="M223.3 115.3h0M246.3 70.9h0M263.7 48.6h0M319.9 99.1h0"/>
<path stroke="#e45a62" stroke-width="3.8" d="M225 121.9h0M240.7 112.8h0M307.6 102h0M288.5 115.3h0M314.2 132.7h0"/>
<path stroke="#5a5ae0" stroke-width="3.8" d="M234.9 104.5h0M258.2 102h0"/>
<path stroke="#5252dc" stroke-width="3" d="M249.9 104.5h0M300.1 99.5h0"/>
<path stroke="#d8d81e" stroke-width="3" d="M259.9 108.6h0M241.6 124.4h0"/>
<path stroke="#e2e230" stroke-width="3" d="M244.9 118.6h0"/>
<path stroke="#dcdc22" stroke-width="6.2" d="M250.7 122.8h0"/>
<path stroke="#dcdc22" stroke-width="3.8" d="M247.4 125.3h0"/>
<path stroke="#4b4bd6" stroke-width="1.4" d="M327.5 99.5h0M279.1 109.4h0M324 74.2h0M312.8 31.1h0M285.1 16.8h0"/>
<path stroke="#e0505c" stroke-width="1.4" d="M282.6 100.3h0M299.6 60.5h0M269.6 14.6h0M215.2 128.3h0"/>
<path stroke="#4b4bd6" stroke-width="3.8" d="M277.7 105.3h0M310.1 113.6h0"/>
<path stroke="#d8d81e" stroke-width="4.4" d="M293.4 103.6h0"/>
<path stroke="#d8d81e" stroke-width="5" d="M274.3 116.9h0"/>
<path stroke="#d8d81e" stroke-width="1" d="M232.6 37.6h0M282.3 41.1h0M289.1 94.2h0M239.7 47.1h0M230.4 73.2h0M286.1 20.6h0"/>
<path stroke="#dcdc22" stroke-width="1.4" d="M296.8 111.2h0M220.2 127.1h0M289.2 32.8h0M248 22.4h0M262.1 58.4h0"/>
<path stroke="#5a5ae0" stroke-width="1.4" d="M212 71.1h0M275.3 83.3h0"/>
<path stroke="#dc4a58" stroke-width="1" d="M284.9 15.9h0M292.8 125.7h0"/>
<path stroke="#e0505c" stroke-width="1" d="M252.3 104h0M257.8 118.6h0M212.2 27.7h0M317.7 122h0"/>
<path stroke="#e2e230" stroke-width="1" d="M264.1 118.4h0M258.3 130.1h0M304.8 121.9h0M252.2 117.7h0"/>
<path stroke="#e45a62" stroke-width="1" d="M249.2 53h0M281.7 42.6h0M212 21.4h0M329.9 29.8h0"/>
<path stroke="#d8d81e" stroke-width="1.4" d="M328.2 44.9h0M276.6 73h0M279.3 25h0"/>
<path stroke="#5252dc" stroke-width="1.4" d="M314 58.2h0"/>
<path stroke="#dc4a58" stroke-width="1.4" d="M331.3 55.5h0M269.5 74.9h0M282.7 54.1h0M235.5 15h0M209.4 18.4h0M257.1 77.9h0"/>
<path stroke="#4b4bd6" stroke-width="1" d="M316.9 19.2h0M331.6 30.9h0"/>
<path stroke="#dcdc22" stroke-width="1" d="M292.5 53.8h0M221.7 126.4h0M270.2 59.4h0M267.4 22.6h0M260.7 92.5h0"/>
<path stroke="#e2e230" stroke-width="1.4" d="M224 43.7h0M265.6 21.6h0M242 64.7h0M293.6 77.2h0"/>
<path stroke="#5252dc" stroke-width="1" d="M225 48.8h0M327.2 133.3h0"/>
<path stroke="#5a5ae0" stroke-width="1" d="M312.1 46.9h0M298.9 64.3h0"/></g>
<g fill="none" stroke-width="0.8">
<path d="M29.9,184.4 H101.4 V254.6 H29.9 Z" stroke="#999"/>
<path d="M29.9,254.6 L9.8,275 M101.4,254.6 L120.6,275" stroke="#333"/>
<path d="M9.8,165.4 L29.9,184.4 M120.6,165.4 L101.4,184.4" stroke="#333"/>
<path d="M9.8,165.4 H120.6 M9.8,275 H120.6" stroke="#333"/>
<path d="M9.8,165.4 V275 M120.6,165.4 V275" stroke="#999"/>
</g>
<g fill="none" stroke-width="0.8">
<path d="M145.0,184.4 H216.5 V254.6 H145.0 Z" stroke="#999"/>
<path d="M145.0,254.6 L124.9,275 M216.5,254.6 L235.7,275" stroke="#333"/>
<path d="M124.9,165.4 L145.0,184.4 M235.7,165.4 L216.5,184.4" stroke="#333"/>
<path d="M124.9,165.4 H235.7 M124.9,275 H235.7" stroke="#333"/>
<path d="M124.9,165.4 V275 M235.7,165.4 V275" stroke="#999"/>
</g>
<g fill="none" stroke-width="0.8">
<path d="M260.5,184.4 H332.0 V254.6 H260.5 Z" stroke="#999"/>
<path d="M260.5,254.6 L240.4,275 M332.0,254.6 L351.2,275" stroke="#333"/>
<path d="M240.4,165.4 L260.5,184.4 M351.2,165.4 L332.0,184.4" stroke="#333"/>
<path d="M240.4,165.4 H351.2 M240.4,275 H351.2" stroke="#333"/>
<path d="M240.4,165.4 V275 M351.2,165.4 V275" stroke="#999"/>
</g>
<g fill="none" stroke-linecap="round"><path stroke="#c5d236" stroke-width="2" d="M35.5 170.3h0M35.7 169.5h0M35.6 170.8h0M45.1 171.1h0M72.1 191.9h0M75.6 189.1h0M76.9 210.8h0M76.9 210.2h0M75.5 208.8h0M97.5 211.3h0M99.7 208.8h0M99.4 210.6h0M48.4 215h0M18.8 210.5h0M45.4 255.8h0M172.1 170.3h0M190.5 188.6h0M187.1 188.6h0M133 201.3h0M168.3 202.8h0M167.9 202.8h0M169.2 203.3h0M174.4 199.3h0M171.8 199.4h0M190.5 220.5h0M148 237.1h0M147.7 236.3h0M146.5 239.5h0M156.1 254.4h0M171.9 261.9h0M170.3 267.5h0M170 268.1h0M207.4 271.6h0M317.3 167.8h0M318.6 169.2h0M293.4 168.1h0M311.9 183.7h0M312 185.6h0"/>
<path stroke="#c5d236" stroke-width="1.8" d="M35.4 170.8h0M34.8 169.9h0M69.8 187.1h0M73.6 187.8h0M70.2 188h0M75.3 188.3h0M73.4 187.2h0M76.2 209.6h0M76.6 209.8h0M39.9 232.5h0M107.8 252.7h0M108.2 253.3h0M107.1 253.3h0M103.9 271.5h0M136.3 188.6h0M140.3 176.6h0M141 178.3h0M139.7 176.8h0M167.9 203h0M168 203.7h0M167.6 204h0M163.3 210.6h0M191.3 219.1h0M191.8 222.1h0M190.7 218.7h0M146.4 238.4h0M144.5 237.4h0M147.3 238.9h0M148.5 235.9h0M145.3 237.9h0M155.4 253.5h0M155.6 254.8h0M155.3 252.4h0M151 240.2h0M169.8 267.7h0M206.3 270.7h0M206.2 272.5h0M242.5 169.9h0M319.7 168.2h0M318.6 169.1h0M293.1 169h0M309.2 218.3h0M268.9 200.4h0M344.7 243.7h0M337.2 273.7h0M262.5 194.5h0M307.3 233.5h0M329.3 189.8h0M328.5 189.5h0M260.5 205.4h0"/>
<path stroke="#c5d236" stroke-width="2.2" d="M34 170.6h0M36 169.4h0M36.6 171.6h0M13.6 193.5h0M70 186.5h0M72.4 189.7h0M73.7 192.1h0M75.4 209h0M44.8 255.3h0M108.2 253.1h0M107.4 251.6h0M136.7 187.6h0M136.7 189.8h0M141.3 177h0M188.7 188.6h0M188.6 187.4h0M172.9 199.3h0M172 198.7h0M174.2 198.6h0M172 200.8h0M174.5 199.8h0M164.6 209.9h0M191.2 220.5h0M184.7 232.4h0M183.9 231.7h0M147.3 237.1h0M148.5 238.3h0M155.3 252.7h0M150.7 240.9h0M171.3 266.8h0M170.8 267.2h0M318.7 167.8h0M320.2 166.8h0M317.3 168.9h0M293.8 168.3h0"/>
<path stroke="#b8ce3c" stroke-width="2.6" d="M43.8 171.2h0M38.8 194.5h0M18 226.3h0M46.3 256.8h0M165.4 174.5h0M227.8 261.8h0"/>
<path stroke="#b8ce3c" stroke-width="1.6" d="M45.5 171.3h0M42.9 172.4h0M18.5 185.8h0M22.2 186.6h0M107.7 192.6h0M75.4 205.6h0M50.3 210.4h0M16.2 225.9h0M16.4 226.3h0M18.3 228h0M47.5 257.1h0M46.5 255h0M46 258.4h0M100.3 268.6h0M100.9 272.1h0M101.6 267.8h0M104.1 267.5h0M102.5 269.3h0M166.2 173.8h0M166.6 174.1h0M207 172h0M176.2 177h0M175.9 176.7h0M225.3 252.7h0M223.1 252.1h0M229.6 263h0M227.2 259.9h0M227.7 259.8h0M149.6 270.1h0M345.6 181.9h0M340.5 182.3h0M304.5 195.8h0M290 220.7h0M289.5 219.9h0M294.3 241.5h0M293.5 241.8h0M323.6 250.8h0M273.9 238.6h0M313.5 247.2h0M281.8 205.4h0M329.4 167.2h0M329.8 168h0M274.3 231.7h0M273.7 231h0M287.7 249.1h0M311.8 200.3h0M311.1 200.8h0M310.4 201.4h0M292.5 235.5h0M331.6 237.4h0M330.8 237.9h0M324.6 231.9h0M325.4 231.5h0M294.3 262.7h0M285.4 257.7h0M284.9 258.4h0M296.1 208.8h0M295.6 209.5h0M310.4 205.8h0M269.9 248.6h0M270 247.7h0M313.4 214.9h0M312.6 215.4h0M330.1 217.7h0M278.3 216.8h0M331.2 212.6h0M287.8 207.9h0M288.4 208.6h0M288.9 209.3h0M258.5 249.8h0M259.4 250h0M260.2 250.2h0M297.4 215.1h0M277.1 224.3h0M325.2 243.9h0M324.4 244.3h0M323.6 244.7h0M287.1 190h0M300 203.7h0M300.7 204.1h0M345.5 183.5h0M346.3 182.3h0M346.2 181.3h0M344.8 182.8h0M345.2 183.5h0M340.5 179.9h0M341.2 180.4h0M309.8 185.2h0M333.1 272.4h0M332.7 272.5h0M336.3 245.3h0M337.1 244.1h0"/>
<path stroke="#b8ce3c" stroke-width="1.8" d="M43.9 171h0M43.8 170.3h0M44 169.8h0M45.6 169.9h0M18.3 189.1h0M20.7 189.7h0M22.4 189.1h0M19.4 186.5h0M14.2 194.2h0M38.1 196.4h0M108.7 192.3h0M73.5 207.2h0M73.5 202.2h0M48.3 212.8h0M18.3 228.4h0M45.3 255.2h0M47.1 257.3h0M109.2 253.8h0M102.8 271.6h0M101.3 272.1h0M103.6 270.6h0M105.3 268.6h0M166 173h0M163.9 176.2h0M182.8 169.1h0M208 166.2h0M208.1 165.4h0M207.9 165.6h0M175.4 177.8h0M176.2 178.5h0M214.8 210.5h0M165.7 209.7h0M208.7 249.3h0M226 252.8h0M223.8 252.3h0M224.2 250.1h0M228.1 262.4h0M227.2 261.6h0M227.9 261.1h0M299.4 177.2h0M242.4 185.3h0M242.8 185.1h0M327.4 221.7h0M328.3 221.8h0M312.4 202.8h0M311.6 203.3h0M289.2 253.7h0M289.8 253h0M281.4 230h0M285.4 241.6h0M281.6 179.7h0M281.7 180.6h0M263.2 264h0M262.8 264.8h0M261.9 208.4h0M261.7 207.5h0M313.3 217.4h0M314.1 216.9h0M277.2 170.7h0M277.1 169.8h0M315.8 201.6h0M315.6 200.8h0M280.4 211.2h0M329.7 237.7h0M329.1 238.4h0M268 195.7h0M343.1 241.4h0M344 241.3h0M270.3 212.2h0M303.9 220.7h0M303.9 221.6h0M345.9 182.8h0M345.8 182.3h0M311.3 184.8h0M311.3 185.4h0M332.7 271.5h0M332.5 271.8h0M336.7 245.2h0"/>
<path stroke="#b8ce3c" stroke-width="2" d="M44.1 170.3h0M19 187.8h0M19.8 187.8h0M21.4 190.5h0M19.2 188.9h0M21.5 187.2h0M21.1 189.3h0M13.3 193.8h0M40.2 196.1h0M40.3 194.7h0M39.9 195.6h0M74 185.9h0M107.2 192.2h0M74.5 206.5h0M76.2 205.6h0M16.2 224.9h0M17.4 227.5h0M16.1 226.3h0M104.3 267.7h0M105.6 269.1h0M103.6 273h0M159.6 171.2h0M167.5 175h0M167.7 174.3h0M190.3 189.2h0M209.6 248.8h0M172.3 263.1h0M228 262.3h0M342.1 181.7h0M342.9 180.7h0M242.3 184.1h0M345 182h0M340.4 179.7h0M318.2 167.3h0M311.1 184.6h0M296 272.5h0M343.5 222h0M250 215h0M336.7 245.2h0M336 245.2h0"/>
<path stroke="#a8ca44" stroke-width="1.8" d="M42.1 170.4h0M54.6 202.6h0M52.1 202.1h0M53.5 201.4h0M49 211.4h0M141.2 175.8h0M147.9 178.2h0M147.7 177.9h0M210.4 177.1h0M211.2 180.9h0M212.3 177h0M210.5 179.8h0M214.5 209.6h0M215 210.5h0M162.9 214.6h0M163.1 214.1h0M185.3 213h0M133.8 226.7h0M162.3 256.4h0M218.1 270h0M242.9 170.5h0M243.6 171.2h0M242.4 168.9h0M347.7 181.6h0M341.1 183.7h0M341 184.1h0M344.5 179.8h0M344.5 180.2h0M328.4 218.1h0M292.1 253.2h0M306.2 246.4h0M274.6 240.2h0M340.6 201.3h0M266.3 182.1h0M265.8 182.9h0M329 195.6h0M328.3 195.2h0M319.4 168h0M264 271h0M323 231.2h0M323.2 230.7h0"/>
<path stroke="#3fb07a" stroke-width="3.2" d="M52.2 175.7h0M73.8 176.2h0M153.8 205.5h0M178.7 217.1h0"/>
<path stroke="#6cc55a" stroke-width="2.2" d="M52.9 175.4h0M57.8 198.7h0M106.4 212.5h0M113.3 214.4h0M21.3 216.3h0M20.7 215.8h0M20.5 216.3h0M189.7 176.2h0M187.8 176.6h0M187.8 176.3h0M189.4 177.5h0M198.2 201.6h0M219.8 210.5h0M217.3 212.2h0M229.6 215.4h0M143.6 223.3h0M144.6 222h0M161.9 220h0M162.3 219h0M202.6 224.8h0M202.2 226.3h0M203.2 224.7h0M185.9 231.1h0M152.1 252.6h0M150.8 253.2h0M150.8 253h0M206 249.5h0M204.8 250.6h0M216.3 252.5h0M217.3 260.6h0M292.4 173.1h0M250.4 194.3h0M290 250h0"/>
<path stroke="#3fb07a" stroke-width="1.8" d="M51.8 173.1h0M52.2 174.7h0M51.1 173.9h0M53.6 175.1h0M76.8 176.4h0M75.7 178.3h0M75 175.7h0M85.6 180.9h0M20.7 192.7h0M50.2 194.2h0M54.1 195.3h0M53.7 196.9h0M47.4 194.6h0M47.5 197.2h0M48 195.1h0M48.6 197.1h0M49.9 196.1h0M46.9 195.3h0M33.9 203.8h0M32.6 203.4h0M70.4 213.6h0M70.1 212.7h0M70 213.9h0M69.1 213h0M62.7 215.4h0M60.8 217.7h0M59.2 215.3h0M74.9 221.4h0M76.1 218.7h0M76.2 219.1h0M28.8 251.6h0M26.5 262h0M167.1 195.3h0M167.5 196.1h0M166.5 196.5h0M198.7 195.3h0M200.4 193.3h0M219.4 196.9h0M220.1 195.9h0M151.7 205h0M152 203.5h0M178.5 219.7h0M180.7 217.3h0M176.5 217h0M176.5 215.7h0M179.3 219.5h0M178.4 214.3h0M177 215.7h0M148.8 221.3h0M148.9 220.5h0M149 220.2h0M205.1 225.9h0M216.7 233.8h0M216.7 233.8h0M145.5 236.3h0M217.5 253.1h0M326.5 189.3h0M303.1 213.3h0M303 212.4h0M327.9 220.2h0M328.7 220.7h0M323.1 259.6h0M295 206.5h0M294.8 207.3h0M284.4 223h0M297.3 255.7h0M312 225.2h0M312.8 225.7h0M313.5 226.2h0M302.4 200.5h0M311.4 202.6h0M293.4 193h0M258.3 230.3h0M302.9 232h0M298.8 234h0M298.4 234.7h0M290.6 247.7h0M317.2 207.9h0M317.2 207h0M317.1 206.1h0M296.6 195.4h0M328.9 207h0M282.8 225h0"/>
<path stroke="#6cc55a" stroke-width="2" d="M54.3 177.6h0M73.4 173.9h0M86.7 178.7h0M42.9 220.4h0M42.9 218.4h0M42.2 219.5h0M74.6 220h0M20.4 217.9h0M18.1 212.4h0M48.3 223.3h0M47.2 222.9h0M48.2 223.2h0M27.9 252.5h0M152.8 206h0M195.7 199.5h0M195.5 200.2h0M197.2 201.4h0M217.7 210.3h0M216.9 211.4h0M145.1 220.3h0M162.5 219.9h0M161.7 219.1h0M204 224.6h0M203 223.2h0M201 221h0M185.3 231.7h0M186 229.1h0M184.6 231.1h0M185.4 230.2h0M185.4 230.6h0M215.8 235.6h0M152.2 254h0M171 257.5h0M172.2 257.7h0M251.1 193.8h0M285.2 186.9h0"/>
<path stroke="#3fb07a" stroke-width="2.2" d="M49.3 176.4h0M53 175.8h0M71.6 175h0M72.4 174.8h0M76.2 176.9h0M92.8 170.6h0M89.1 182.6h0M86.8 179.6h0M103.9 173h0M104 174.7h0M104.3 174.4h0M20.1 192.1h0M49.8 197.7h0M51.4 193.9h0M33.8 204.7h0M33.5 206h0M33.5 204.9h0M69.6 212.1h0M69.1 212.5h0M70.4 211.2h0M59.6 217.9h0M76.2 220.5h0M76.3 220.9h0M27.1 251h0M26.8 251.6h0M27 251.3h0M55.3 256.3h0M25.1 259.1h0M24 261.7h0M199.5 194.4h0M200 195.4h0M198.9 194.1h0M199.3 192.7h0M219.5 196.9h0M150.8 205.3h0M154.8 203.4h0M152.4 203.6h0M153.7 207.3h0M181.3 215.7h0M149 220.3h0M217 234.6h0M216.1 235.8h0M215.5 235.5h0M205.9 251.3h0M217.4 252.9h0"/>
<path stroke="#3fb07a" stroke-width="2" d="M50.3 176.6h0M53.2 174.6h0M52.4 173.2h0M53.1 178.3h0M53.3 175.1h0M52.6 176.5h0M73.4 176.6h0M74.8 176.4h0M84.8 180.2h0M104.9 174.5h0M21.6 192.8h0M53 196.6h0M49.7 196.8h0M49.8 198.6h0M48.9 199h0M52.1 195.8h0M48.3 195.8h0M33.5 206.2h0M33 204.1h0M69.6 212.4h0M59.3 215.9h0M76.7 221.6h0M25.5 251.6h0M27.8 250.9h0M26.7 251h0M25.4 261.5h0M25.6 262.2h0M167.9 175.3h0M156.2 179.1h0M167.5 194.7h0M219.7 196.5h0M156.5 205.2h0M154.1 206.4h0M152.9 205.7h0M152.8 204.1h0M177.5 214.9h0M180.9 218.1h0M176.5 217.2h0M179.3 219h0M130.1 216.7h0M145.4 221.9h0M162.2 220.1h0M218 234.4h0M145.7 237.6h0M164.6 265.1h0M189.6 269.3h0"/>
<path stroke="#d4d82e" stroke-width="1.4" d="M66.3 167.8h0M83.7 243.5h0M231.2 172h0M60.3 179.2h0M172.4 229.4h0M300.4 231.4h0M301.3 231.6h0M302.2 231.8h0M322.1 211h0M321.2 210.8h0M297.1 255.3h0M297.9 255.8h0M292.5 203.4h0M328 196.5h0M277.1 235.8h0M276.2 235.7h0M279.2 197.2h0M313.8 262.5h0M314.7 262.5h0M315.5 262.4h0M289.5 231.3h0M288.7 231.8h0M288 232.4h0M284 213.2h0M334.7 169.6h0M323.5 232.5h0M290.9 231.6h0M327.6 274h0M309.3 179.7h0M310.2 179.8h0M318.6 167.8h0"/>
<path stroke="#d4d82e" stroke-width="2.2" d="M66.6 167.7h0M65.5 167.8h0M72.6 205.2h0M49.6 214.6h0M48.8 215.3h0M73 231.3h0M71.1 233.6h0M72.2 232.7h0M72.4 233.3h0M79.8 235.8h0M78.7 235.2h0M41.8 252.8h0M40.2 254.2h0M40.6 253.9h0M108 273.9h0M166.3 169.5h0M231 172.5h0M231.7 171.8h0M187.2 181.6h0M172.9 198.6h0M174.2 197.8h0M173.5 201.1h0M190.8 203.2h0M189.1 204.9h0M164.6 210.5h0M190.6 222.1h0M140.5 259.3h0M139.5 257.8h0M228.2 262.9h0M318.2 167h0M303.2 177h0M301.2 172.6h0M300.5 172.8h0M299.5 174.7h0M300.1 172.8h0M299.9 173.7h0M311.3 184.3h0M310 184.7h0M244 169.5h0M269.6 196.1h0"/>
<path stroke="#d4d82e" stroke-width="2" d="M66.5 167.1h0M75.9 189.1h0M70 190.8h0M48.2 213.6h0M50.3 216h0M18.4 226.1h0M72.6 230.2h0M70.6 229.5h0M72.7 229.8h0M78.8 234.3h0M38.3 251.2h0M38.2 254.2h0M107.5 273h0M107.5 272.7h0M128.8 177.8h0M145.8 178.7h0M149.2 176.3h0M149.1 175.9h0M150 176.2h0M188.1 181.4h0M184 182.6h0M185.6 181.2h0M172.1 200h0M172.3 198.8h0M171.2 198.9h0M172.2 197.1h0M173 196.9h0M226.9 192.4h0M183.7 195.3h0M189.3 204.5h0M164.1 210.7h0M165.5 228.1h0M165.4 228.6h0M135.5 233.8h0M146.5 240.3h0M173.1 266.7h0M339.8 182.1h0M299.9 172.7h0M302.5 176h0M308.4 184.3h0M245.5 188.6h0M318 168.1h0"/>
<path stroke="#3fb07a" stroke-width="1.6" d="M73.3 174.6h0M76.2 174.6h0M72.6 174.8h0M76 176.8h0M73.4 175.1h0M104 174h0M20.5 192.8h0M20.2 193.6h0M50.6 199.6h0M49.7 195.2h0M34.8 205.9h0M60.5 214.6h0M62.5 217.6h0M76 218.9h0M23.6 261.5h0M25.9 261.3h0M84.5 266.8h0M91.2 269.3h0M166.6 194.5h0M167.1 196.5h0M198.3 194.2h0M198.3 193.8h0M220 197.8h0M219.2 197.6h0M155.2 204h0M151 204.5h0M181.5 216h0M149.2 222.2h0M148.9 220.7h0M145.8 236.4h0M145 236.8h0M145.3 235h0M320.4 186.8h0M314.2 197.1h0M310.2 181.7h0M254.5 264.2h0M255.7 265.6h0M301 205.3h0M300.7 206.1h0M316.5 213.6h0M320.9 189.2h0M307.4 248.2h0M308.1 247.6h0M308.7 246.9h0M335.6 210.9h0M335 210.3h0M283.2 250h0M282.5 250.7h0M281.9 251.3h0M332 230.5h0M332.3 203.5h0M269.6 249.9h0M267.5 216.8h0M267.2 217.7h0M266.9 218.5h0M313.4 258.7h0M314.3 258.4h0M315.1 258.2h0M289.4 208.9h0M288.6 209.3h0M337.6 256h0M290.5 244.5h0M291.1 243.7h0M292.4 236.4h0M305.9 203.6h0M275.9 214.9h0M334.8 195.6h0M288.8 183.9h0M289.1 184.8h0M327.4 194.3h0M327.3 193.4h0M275 168.5h0M289.2 232.3h0M288.7 233.1h0M326.6 215.7h0M275 215.2h0M274.7 216h0M274.4 216.9h0M310.6 230.5h0M309.9 229.9h0M314.2 214.5h0M332.6 194.6h0M332 193.9h0M286.8 199h0M335.9 193.6h0M335 193.3h0M334.2 193.1h0M294.7 244.2h0M327.7 255.5h0M328.4 254.8h0M272.6 242h0M271.7 241.9h0M270.8 241.8h0M266.5 178.6h0M266.2 179.4h0M308.9 197.5h0M310.7 197.6h0"/>
<path stroke="#52bd68" stroke-width="2" d="M91.3 171.2h0M92.4 171h0M94.4 194.6h0M93.4 194.9h0M94.1 196.8h0M93.9 194.5h0M62.5 215.2h0M56.3 227.1h0M58 256.1h0M60 257.2h0M23.2 261.5h0M200.6 181.7h0M161.4 185.7h0M162.1 188.7h0M161.6 187.6h0M190.1 201h0M177.7 218.3h0M182.4 218.3h0M131.4 217.6h0M205.4 227.5h0M204.4 228.2h0M209.4 224.1h0M134.1 245.4h0M132.7 245h0M133.4 244.6h0M132.9 245.9h0M211.6 260.3h0M178.7 266.8h0M291.7 173.9h0M284.4 187.8h0"/>
<path stroke="#52bd68" stroke-width="2.2" d="M92.3 170.1h0M92.3 170.1h0M94 197.7h0M94.2 197.2h0M59.7 256.8h0M58.8 255.7h0M90.3 251.9h0M201.4 180.7h0M198.9 182.8h0M198.7 181.5h0M199.9 182.4h0M163 186.3h0M163.3 189.6h0M161.1 187.1h0M161.1 189.8h0M190.5 201.5h0M182.6 219.2h0M181.4 219.5h0M128.4 217.2h0M131.9 219h0M203.9 226.8h0M210.6 224.2h0M209.9 225.6h0M186.4 228.7h0M145.5 237.6h0M133 245.2h0M133 246h0M131.3 244.9h0M285.4 187h0M284.1 188.2h0M342.5 197.6h0M341.9 196.2h0M300 208h0"/>
<path stroke="#52bd68" stroke-width="1.8" d="M90.2 170.7h0M85.4 180.5h0M93.7 196.3h0M93.5 196.6h0M105.6 213.9h0M17.2 213h0M18.1 213.7h0M58.7 256.8h0M199.1 181.3h0M201 179.8h0M198.5 180.7h0M161 186.7h0M163.3 186.7h0M190.8 201.1h0M182.1 218.8h0M181.9 220h0M130 219.5h0M164.5 221h0M204.5 227.1h0M210.4 224.6h0M211.5 225.1h0M132.2 245.3h0M291.2 172.8h0M290.5 172.2h0M291.7 173.3h0M290.5 173.9h0M285.9 187.6h0M285.3 186.1h0M342.8 196.9h0M342.1 196.7h0M286.4 215.4h0M300.6 167.1h0M271.4 241.2h0M310.4 211.6h0M282.8 253.1h0M276.5 245h0M277.4 245h0M278.3 244.9h0M270.5 253.5h0M269.6 253.5h0M274.2 207h0M307.8 185.1h0M306.9 185.3h0M303.5 229h0M303.9 229.8h0M303.2 233.1h0M302.3 233.2h0M326.4 245.4h0M259.8 227.3h0M307.2 234.4h0M279.6 210.9h0M316.5 208.9h0M316 208.2h0M321.3 214.1h0M322 213.6h0M338.9 238.4h0M307.7 236.2h0M307.6 235.3h0M302.9 272.9h0M305.4 235.8h0M330.2 190.1h0M302 233.3h0"/>
<path stroke="#52bd68" stroke-width="1.6" d="M91.1 169.9h0M88.4 181.8h0M92.7 195.4h0M16.6 212.7h0M17.7 211.8h0M59.5 257h0M221.1 197.4h0M183 218.9h0M131.8 218.8h0M130.4 217.2h0M130.9 219.7h0M128.3 219.4h0M203.6 223.6h0M204.8 228h0M205 249.2h0M209.6 258.8h0M284.8 185.4h0M285.9 185.6h0M286.9 186h0M341.9 196.4h0M295.3 192.5h0M294.4 192.4h0M304 222.3h0M306.7 246.5h0M307.6 246.6h0M281.9 217.6h0M281.8 218.5h0M334.5 202.1h0M268.7 209.3h0M261.8 204.3h0M328.2 190.1h0M271 224.7h0M271.9 224.7h0M332.9 235.2h0M259.7 198.7h0M258.8 198.7h0M263.2 246.2h0M262.3 246.3h0M320.7 217.4h0M281 241.2h0M286 254.5h0M294 216.9h0M329.9 232.6h0M330.4 231.8h0M305.6 260.6h0M299.7 185.2h0M273.7 213.1h0M272.9 213.4h0M303.7 226.7h0M311.6 211.1h0M264.3 189.5h0M265.1 189.1h0M307.7 247.9h0M308.6 247.8h0M319.9 223.6h0M320.6 224.2h0M326.5 257.7h0M291.3 214.2h0M318.2 247h0M286.9 195.4h0M308.3 195.1h0M286.3 259.1h0M327.2 215h0M330.8 217.1h0M324.2 232.9h0M323.9 233.7h0M271.2 238h0M271.1 218.1h0M302 189.5h0M265.1 218.8h0M325.8 247.7h0M326.2 248.5h0M333.5 198.4h0M329.5 195.6h0M318.2 202.1h0M287.8 189.5h0"/>
<path stroke="#2a788e" stroke-width="4" d="M97.2 177.8h0M61.3 194.5h0"/>
<path stroke="#2a788e" stroke-width="2" d="M99.2 179.6h0M96.4 180.3h0M93.8 177.5h0M97.2 180.5h0M98.9 175.6h0M19.6 182.1h0M21 181.4h0M61.2 192.3h0M61.7 196.4h0M59.8 191.3h0M61 197.2h0M60.1 192.4h0M60.4 195h0M64.9 193.5h0M63 196.7h0M101.8 192.6h0M100.6 192.3h0M99.9 190.9h0M101.3 190.9h0M91.3 202.7h0M93.1 203.2h0M98.7 204.1h0M90.5 211.6h0M91 212.7h0M91.4 211.3h0M87.9 215.5h0M89.1 215.6h0M89.4 216h0M34.7 213h0M65.2 224.8h0M37.5 237h0M84 229.1h0M38 224.6h0M32.7 236.7h0M31 238.1h0M40.8 238.5h0M52.4 246.7h0M70.5 239.7h0M69.9 239.6h0M70.1 240.5h0M71.1 238.4h0M79.7 252.9h0M79.9 251.6h0M80.3 251.3h0M107.9 260.2h0M22.8 256.7h0M195.6 179.6h0M194.3 179.3h0M195.4 177.9h0M195.4 177.7h0M202.3 188.2h0M164.5 191.3h0M164 192.1h0M214.7 189.2h0M160.4 194.4h0M137.1 201.3h0M137.1 208.6h0M163.8 203.8h0M215.7 202.9h0M176.9 213.5h0M198.1 210.5h0M201 212.7h0M199.7 211.5h0M204.5 215h0M195.9 216.3h0M216 218.7h0M215.2 218.1h0M168.3 222.7h0M203.5 222.9h0M203.1 223.8h0M204.3 221.6h0M202.7 222.8h0M214.8 224.1h0M212.5 228.1h0M152.9 233.4h0M192.9 232.9h0M151 246.9h0M158.1 239.9h0M180.4 238.5h0M201.2 248.7h0M201.5 247.1h0M210.6 237.2h0M209.6 238.8h0M210 237.1h0M201.4 253.8h0M294.1 179.5h0M293.3 179.1h0M294.2 179.2h0"/>
<path stroke="#2a788e" stroke-width="1.8" d="M96.4 176.2h0M100.2 176.6h0M94.6 175.3h0M98.2 179h0M20.3 182.3h0M34.5 182.2h0M51.9 192.1h0M62.7 192.6h0M60.9 194h0M62.6 197.4h0M63.2 196h0M101.4 190.2h0M99.3 188.6h0M99 189.9h0M100.9 191.5h0M92.2 202.6h0M93.5 202.9h0M97.8 207.1h0M90.1 212.8h0M89.5 212.2h0M90.4 215.7h0M91.7 214h0M84.8 212.2h0M86.6 211.8h0M61.9 219.8h0M62.2 220h0M61.5 220.9h0M62.8 224.1h0M94.5 219.6h0M93.9 220.2h0M94.4 220.9h0M94.1 220.7h0M36.3 237.1h0M35.1 237.4h0M31.8 237.6h0M32.6 239h0M34.5 239.4h0M52.1 244.1h0M68.1 244.5h0M79.5 251.8h0M80.4 250.8h0M79.9 250.7h0M107 259.3h0M23 256.8h0M23.5 258h0M85.8 237.4h0M85.2 237.6h0M194.2 177.3h0M201.2 188.6h0M201.5 188.8h0M201.5 189.2h0M164.6 192h0M215.8 189.6h0M146.4 207.9h0M152.5 199.4h0M197.4 212.9h0M198.7 210.6h0M206.9 211.2h0M195.4 216.3h0M194.5 216.6h0M194.6 215.9h0M215.3 218.8h0M216.1 218.9h0M167.1 221.3h0M166.7 221.5h0M170.1 221.5h0M170.9 222.8h0M205 221h0M203.1 223.1h0M159.5 245.8h0M159.3 245.7h0M200.2 241.4h0M201.2 247.6h0M201.1 248.5h0M202.5 248h0M209.3 238.5h0M208.2 236.6h0M210.6 236.7h0M212.5 245.6h0M202 254.5h0M293.6 176.7h0M296.6 178.1h0M299.6 247.2h0M285.8 217h0M308.7 237h0M279.3 249.5h0M314.9 225.6h0M284.9 183.6h0M285.2 182.8h0M276.5 227.3h0M294.9 244.3h0M327.3 203.6h0M293.7 225.7h0M304.3 205.8h0M344.2 244.5h0M342.9 247.7h0M341.7 246.4h0M304.1 219.6h0M304.8 220.1h0M305.5 220.7h0M324.7 215.3h0M325.4 214.8h0M326.1 214.2h0M300.6 260.5h0M291.2 243.6h0M260.5 209h0M295.1 175.1h0M295.1 174.2h0M259.4 228.1h0M287.7 211.8h0M296.6 219.4h0M305.3 240.7h0M297.5 195.5h0M273.3 192.5h0M273.7 191.7h0M274.1 190.9h0M319.4 246.3h0M302.1 272.4h0M308.3 196.7h0M303.9 219.8h0M267.1 224.5h0M266.8 223.7h0"/>
<path stroke="#1f968b" stroke-width="1.8" d="M95.5 180.9h0M81.4 182.7h0M107.9 179.8h0M34.2 183.8h0M37.4 197.7h0M36.4 197.4h0M34.4 198h0M60.5 190.4h0M97.4 186.4h0M96.5 186.1h0M58.5 198.4h0M101.7 222.4h0M16.4 214.9h0M21.3 224.7h0M19.7 222.4h0M22.7 221.9h0M66.2 232.1h0M65.7 231.7h0M65.5 231.4h0M31.9 246.6h0M32.3 246h0M85.6 248.2h0M163.4 178.6h0M163.1 179h0M161.7 177.9h0M190.4 180.3h0M189.9 180.6h0M214 184.1h0M215.4 185.5h0M178.7 187h0M177.9 194.4h0M177.1 193.8h0M178.4 193.6h0M209.5 192h0M208.4 191.9h0M210.3 192.9h0M157.2 190.3h0M145.5 208h0M144.9 208.2h0M140.6 215.1h0M143.4 213.7h0M141.3 213.2h0M216.2 202.2h0M149.4 213.8h0M167 222.2h0M206.7 231.9h0M140.9 250.1h0M162.8 258.1h0M187.5 240.3h0M187 243.7h0M187.8 242h0M188.6 240.9h0M187.8 241.8h0M207 255.4h0M148.8 261h0M147.9 260.5h0M254.6 197.8h0M333.5 196.9h0M284 222.2h0M285.8 222.3h0M283 230.8h0M275.8 218.6h0M338.3 238.3h0M284.9 242.4h0M277.9 230.3h0M272.6 257.9h0M330.7 207.7h0M331.5 207.2h0M332.2 206.7h0M260.8 206.9h0M313.3 253.4h0M262.6 200.6h0M261.8 200.8h0M301.2 193.2h0M261.4 206.6h0M300.5 214.7h0M305.7 239.1h0M306.2 238.4h0M297.9 217.4h0M297 217.7h0M306.8 236.5h0M306.7 235.6h0M349.1 252.6h0M349.5 251.8h0M322.6 222.6h0M281.3 251.6h0M273.2 194.3h0M261.7 217h0"/>
<path stroke="#2a788e" stroke-width="2.2" d="M95.6 178.3h0M99.2 179.1h0M99.7 179.6h0M107.9 181.3h0M20.6 182.1h0M52.9 190.7h0M63.7 195.4h0M63.8 191.9h0M102.1 189.7h0M100 192.4h0M98.8 190.4h0M92.9 203h0M92.6 203.8h0M91 212.2h0M88.3 212.5h0M92.4 213.5h0M35.2 212.7h0M62 223.6h0M60.3 222.8h0M63.5 221.4h0M60.2 222.7h0M64.6 224.6h0M64.9 223h0M93.9 219.4h0M94.2 219.8h0M16.9 213.8h0M36.5 238.1h0M84.4 230.4h0M33.7 236.8h0M42.1 238.5h0M42.5 240h0M52.1 245.2h0M52.1 243.6h0M51.2 245.5h0M50.8 244.7h0M69.6 239.3h0M69.2 238.1h0M106.4 258.1h0M107.9 259.2h0M23.6 257.7h0M22.9 257.5h0M194.5 178.6h0M194.4 179.5h0M202 189.1h0M164.6 193.1h0M136.6 209.5h0M136.6 208.9h0M176.4 214.2h0M199.7 210h0M203.7 213.8h0M203.7 213.9h0M202.4 213h0M203.8 213.2h0M195.5 216.2h0M214.1 219.3h0M166.9 221.9h0M170 222.2h0M171.5 220.9h0M203.7 222.1h0M215.4 225.3h0M215.4 224.8h0M140.6 242.4h0M159.5 246.3h0M200.4 242.7h0M200.8 244h0M200.2 242.6h0M199 243.3h0M209.5 237.7h0M210.3 237.6h0M201.9 254.2h0M293 179.1h0M306 222h0"/>
<path stroke="#2a788e" stroke-width="1.6" d="M97 179.7h0M99.7 179.1h0M100.6 178.1h0M98.8 180.4h0M20.5 182h0M61.1 191h0M60.2 196.8h0M61.4 198h0M58.1 194.7h0M63.5 192.6h0M99.7 189.3h0M103.3 191.8h0M99.3 191.5h0M93 203.7h0M90.2 211.9h0M35.6 212.2h0M64.1 221.4h0M64.4 225.9h0M65.4 225.7h0M36.8 236.9h0M36.2 237.4h0M84.5 230.2h0M41.5 239.2h0M41.8 239.5h0M41.9 239h0M41.5 238.4h0M52 244.6h0M50.9 246.5h0M71 239.5h0M69.2 237.9h0M106.7 260.1h0M107.5 259.9h0M85.8 238.3h0M202.2 188.4h0M163.6 191.9h0M165.8 191.4h0M199.2 213.6h0M199.8 213.7h0M204.2 214.6h0M205 214.8h0M195.5 215.8h0M215 220h0M172.2 223.2h0M170.5 222.5h0M204 223.4h0M139.9 242.3h0M157.3 239h0M158.1 239.4h0M201.8 242.4h0M201.9 243.4h0M201.3 246.8h0M193.3 259.6h0M194.3 262h0M294.1 177.5h0M296.4 179.5h0M280.6 229.8h0M327.7 218.4h0M302.9 242h0M313.2 179.7h0M313.1 180.6h0M313 181.5h0M286.9 191.5h0M306.2 210.3h0M316.4 212.4h0M293.2 175.8h0M275.6 220h0M276.5 219.7h0M321.8 198.4h0M289.5 255.3h0M321 219.2h0M268.4 193.8h0M324.3 185.3h0M323.6 184.7h0M281.4 192.7h0M281.8 194.4h0M273.8 261h0M274.6 261.1h0M260.7 198.2h0M302.8 206.4h0M301.5 218h0M300.8 217.4h0M264.8 262.1h0M303 227.3h0M309.7 176.3h0M290.3 199.2h0M332.1 178.1h0M332.9 178.4h0M306.4 179h0M309.8 239.5h0M309.9 238.6h0M262.2 232.7h0M263 232.4h0M337.7 257.8h0M305.4 219.4h0M282.5 235h0M293.4 238.9h0M292.6 238.7h0M297.7 224.3h0M298.3 223.6h0M304.2 208.6h0M322.8 235.1h0M259.5 256.3h0M258.7 255.9h0M310.8 244.9h0M311 204.9h0M268 200.8h0M318.7 191.4h0M317.9 191.8h0M317.1 192.2h0M330.4 178.2h0M329.9 178.9h0M329.4 179.7h0M272.5 219.3h0M259 237.8h0M260.2 236.4h0M301.1 182.6h0M274.1 185.5h0M310.4 226.1h0M309.5 226h0M294.6 243.3h0M249.6 226.1h0M330.3 205.6h0M331.2 205.6h0"/>
<path stroke="#1f968b" stroke-width="1.6" d="M94 179.8h0M106.6 180.5h0M110.3 179.5h0M108.1 176.9h0M36.2 194.9h0M96.3 186.2h0M58.4 198.5h0M18.3 215h0M66.2 233.4h0M23.9 243.3h0M31.9 247.2h0M85.8 247h0M85.8 247.1h0M163.6 177.9h0M190.8 179.7h0M190.4 179.9h0M214.4 178.7h0M213.5 186.5h0M179.3 187.3h0M178 186.6h0M178 193.4h0M140.3 215h0M142.5 212.4h0M140 211.5h0M216.2 203.5h0M180.7 223h0M172.3 251.7h0M171.7 253.7h0M185.9 244.5h0M183.5 243.4h0M185.1 241.7h0M199.8 241.9h0M148.9 261.3h0M149.6 260.7h0M255.4 197h0M287.9 257.7h0M293.8 214.5h0M293.8 215.4h0M252.8 226.4h0M282.6 211.2h0M283.4 210.8h0M284.2 210.4h0M331.7 225h0M331.8 224.1h0M323 214.4h0M273 224.1h0M250.7 198.2h0M250.8 197.3h0M251.9 221.9h0M253.2 223h0M317.4 186h0M312.3 222.7h0M311.6 223.3h0M302.4 205.6h0M322.9 216.2h0M323 213.4h0M282.9 196.6h0M282.1 196.2h0M334.7 244.7h0M299 194.7h0M255.1 218.7h0M255.6 219.5h0M289.8 198.5h0M346.5 170.5h0M346.3 169.6h0M305.7 178.5h0M318.1 261.9h0M339 254.8h0M338.3 255.4h0M269.9 184.4h0M315.5 221.7h0M293.4 262.9h0M280.1 235.6h0M296.7 222h0M320.5 208.1h0M321.1 208.8h0M321.7 209.4h0M324.7 234.3h0M289.8 231.6h0M328.9 244.6h0M296.1 193.4h0M295.2 193.4h0M334.1 261h0M264.5 261h0M338.2 255.3h0M329.1 216.3h0M303.7 258.8h0M304.4 258.3h0M284.7 252.1h0M283.9 252.5h0M293.8 199.1h0M293.8 200h0M301.7 181.8h0M320.7 237.9h0M263.1 209.4h0M263.3 208.5h0M276.5 210.1h0M277 210.8h0M323.4 216.9h0M324.1 217.4h0M284.4 188.5h0M283.6 188.9h0M252 229.1h0M306.4 214.3h0M307.2 213.9h0M305.1 196.3h0M250.5 226.2h0M292 211.1h0M292.9 211.1h0M293.8 211h0M259.9 199h0M318.3 195.8h0M319.2 195.8h0M275.2 248.3h0M259.5 245.5h0M294 178.9h0"/>
<path stroke="#25858e" stroke-width="2.2" d="M97.9 176.9h0M60.2 189.6h0M62.6 191.1h0M95.5 191.6h0M95 190.8h0M93.9 190.3h0M37.1 200.5h0M36.8 200.9h0M37.8 198.8h0M29.1 205.3h0M28.7 204.9h0M80.8 212.4h0M83.3 213.1h0M83.7 212.5h0M81.9 212.6h0M82.8 210.2h0M80.8 211.4h0M86.3 224.2h0M86.9 224.1h0M33 234.6h0M32.9 233.8h0M98 232h0M24.6 241.8h0M34.2 248.3h0M35 248.5h0M34.2 247.7h0M53.9 245.7h0M53.8 248.8h0M52.6 247.8h0M68.6 245.5h0M97.9 245.2h0M97.1 246.8h0M96.6 246h0M98.4 246h0M21.6 256.7h0M74.7 236.8h0M147.2 183.4h0M147.7 184.5h0M214.8 177.5h0M165.9 187.4h0M185.4 188.6h0M185.1 188.3h0M183.9 189.7h0M142.1 192h0M143.9 191.9h0M138 205.5h0M137 204.8h0M138.2 206h0M166.5 201.9h0M213.6 205.4h0M222.8 205.5h0M222.8 204.7h0M224 204.9h0M206.7 211.3h0M155.4 228.8h0M155.3 227.5h0M155.4 229.3h0M154.5 230.1h0M143.4 237.3h0M150.2 247.7h0M151.2 247.5h0M150.8 248.4h0M159.8 260h0M159.7 256.9h0M162.3 243.1h0M172.1 253.1h0M172.3 238.2h0M192.3 247.8h0M194.9 252.7h0M210.4 244.3h0M211.4 244.2h0M220.8 238.4h0M219.6 253.2h0M194.1 259.9h0"/>
<path stroke="#35a87e" stroke-width="4.6" d="M84.7 182h0"/>
<path stroke="#35a87e" stroke-width="1.8" d="M80.4 181.8h0M87.6 183.7h0M82.6 183.5h0M83.8 180.7h0M85.6 186.8h0M58.5 199.2h0M57.4 199.5h0M96.7 200.2h0M106.2 213.8h0M105.7 213.6h0M105.7 213.3h0M113.7 214.6h0M112.5 214.1h0M90.6 246.5h0M93.8 250h0M94 249.4h0M97 251.8h0M97.5 251.9h0M95.8 252h0M156.1 179.6h0M173.4 184.8h0M169.6 185.6h0M171.9 186.5h0M171.6 182.8h0M163.8 185.3h0M148 204.7h0M152.9 204.7h0M157.9 204.7h0M157 204.4h0M158.5 204h0M227.1 213.8h0M225.9 213.8h0M209.6 224.2h0M271.4 217.2h0M271.6 216.4h0M305.6 211h0M305.1 211.7h0M307.3 231.7h0M307.5 232.6h0M264 193.3h0M328.6 239h0M327.7 239h0M316.8 192.2h0M315.9 192h0M286.1 210.4h0M279.4 208.1h0M328.4 195.5h0M312.4 221.4h0M295 191h0"/>
<path stroke="#35a87e" stroke-width="2.2" d="M84.8 181.7h0M83.2 181.5h0M86.6 183.4h0M83.6 184.2h0M83.2 181.5h0M86.4 179.6h0M83.1 183.5h0M82.1 180.2h0M85.7 187.9h0M96.9 200.3h0M112.7 214.2h0M61.8 215.6h0M56.8 255.4h0M55.7 259h0M55.8 258.7h0M93.6 250.5h0M91.7 252h0M90.1 250.3h0M157.1 180.3h0M158.3 180.1h0M156.1 181.2h0M169.4 183.8h0M169.3 185.8h0M169.9 184.4h0M146.8 204.4h0M146.8 204.6h0M148.8 205.1h0M147.6 203.7h0M157.8 205.9h0M226.2 214.6h0M229 215h0M227.7 217.2h0M215.7 233.8h0M211.1 261.3h0M208.5 258.8h0M212.2 258.1h0M280 240h0M316 258h0"/>
<path stroke="#35a87e" stroke-width="2" d="M88.9 182h0M84.4 182.6h0M82.2 178.7h0M96.7 199.8h0M114.7 215.3h0M113 214.9h0M53.8 258h0M54.1 258.3h0M55.5 259h0M90.4 252h0M91.4 249h0M96.6 250.5h0M96.5 252.9h0M100.3 271.8h0M135.5 181.1h0M156.6 180.1h0M158.4 179.2h0M224.5 180.3h0M172.5 184h0M173 184.6h0M164.9 186h0M162.8 184.7h0M147.2 203.5h0M158.8 205.6h0M198.2 200.9h0M218.4 209.3h0M228.1 215h0M228 215.4h0M227.1 217.5h0M210 259.1h0M209.8 258.7h0M342.6 197h0M343 197h0M250.5 194.4h0"/>
<path stroke="#35a87e" stroke-width="1.6" d="M87.9 182.7h0M85.7 183.9h0M83 180.2h0M87.3 182.9h0M84.7 178.6h0M85 187h0M85.3 186.1h0M84.7 187.6h0M106.2 213.7h0M55.5 255.5h0M54.4 254.7h0M89.8 246.9h0M90.5 249.4h0M92 250.1h0M94 249.9h0M93.4 248.8h0M97.8 252h0M23.3 261h0M156.9 179.9h0M164 186.6h0M162.9 185.6h0M162.9 186h0M158.4 205.7h0M228.7 217.5h0M228.8 217.4h0M227.5 214.6h0M226.7 216.1h0M224.2 215.4h0M206.9 250.2h0M211.8 259.3h0M209.3 260.4h0M288.4 198.2h0M288 199h0M288.4 232.9h0M287.6 232.4h0M313.9 235.5h0M324.5 177.7h0M325.4 177.8h0M326.3 177.9h0M288.5 263.6h0M304.5 221.8h0M305.4 221.7h0M303.7 242.3h0M312.3 235h0M320.6 239.1h0M321.2 239.8h0M280.4 204.3h0M333.8 202.7h0M338.2 211.3h0M258.9 190.6h0M258.7 191.5h0M258.5 192.4h0M273 182h0M272.8 182.9h0M272.6 183.8h0M320.9 198.8h0M294.1 242.9h0M256.9 247.1h0M320.8 191.5h0M293.5 246.4h0M272.3 179.8h0M271.8 180.5h0M258.8 211h0M281.6 193.6h0M329.6 198.3h0M286.1 240.7h0M274.9 232.3h0M283.3 256.5h0M262.6 222.3h0M260.9 221.8h0M310.1 257.8h0M309.5 257.1h0M256 176.6h0M284.3 226.5h0M283.5 226.8h0M282.8 241.7h0M291.9 220.8h0M270.4 209.1h0M269.8 208.5h0M297.1 183.6h0M297.8 183h0M298.5 182.5h0M274.8 207.3h0M345.2 183.2h0M287.5 199.4h0M286 199.8h0M285.1 200.1h0M284.3 200.4h0M317.3 240.2h0M308.8 201.6h0M309 194.4h0M257.4 256.2h0M339.1 255.5h0M275.6 243.8h0M274.7 243.8h0M300.8 188.2h0M301.4 188.8h0M327.1 206.9h0M273.4 187.1h0M273.8 186.3h0M258.6 249h0M258.3 249.9h0M329.4 205.5h0"/>
<path stroke="#2c6f8e" stroke-width="3.2" d="M80.5 182h0"/>
<path stroke="#2c6f8e" stroke-width="1.6" d="M82.4 182.2h0M81.8 179.4h0M78.7 183.8h0M79.4 182.3h0M33.7 185.7h0M34.5 183.8h0M49.5 191.6h0M47.5 189.6h0M48.2 190.8h0M51.2 188.2h0M49.8 190.2h0M47.2 191h0M47.1 190.4h0M92.8 192.3h0M97.1 205.9h0M77.1 215.7h0M99.6 223.3h0M100 225.5h0M99.8 224.9h0M99.1 221.9h0M20 223.7h0M33.4 236.2h0M94.5 236.3h0M68.2 251.1h0M80.4 264.3h0M143.3 184.6h0M141.9 184.7h0M196.5 183.7h0M178.4 187.5h0M152.5 199.6h0M166.8 200.7h0M209.1 203.7h0M148.4 212.9h0M199.9 213.1h0M157.4 219.2h0M158.2 220.1h0M180 225.7h0M198 219.3h0M198.4 219.3h0M181.3 229.4h0M168.2 245.9h0M167.2 246.3h0M178.8 253.6h0M178.9 251h0M179.1 250.8h0M334.2 197h0M271.3 244.1h0M272.1 244.2h0M320.2 187.7h0M305.7 248.5h0M297.7 227.9h0M298.2 256.2h0M257.6 169.3h0M256.7 169.1h0M336.4 227h0M337.2 226.6h0M292 232.3h0M262.5 236.2h0M263.2 235.5h0M263.8 234.9h0M280.8 218.4h0M281.5 217.9h0M295.5 201.8h0M321.5 219.9h0M330.4 227.8h0M267.5 194h0M266.9 193.3h0M266.4 192.5h0M285.3 255h0M281.9 230.3h0M260.3 213.4h0M261.2 213.4h0M262.1 213.4h0M302.7 253.8h0M302.5 255.6h0M260 197.6h0M322.3 242h0M317.6 206.3h0M316.8 206.2h0M315.9 206h0M341.3 199.3h0M329.5 191.6h0M329.3 190.7h0M284.1 256.9h0M284.9 257.3h0M306.9 257.1h0M306.1 256.7h0M298 184.5h0M285.8 244.3h0M323 255.7h0M330.2 206.3h0M330.1 207.2h0M325.1 214.4h0M255.1 176.3h0M315 196.2h0M315.6 196.9h0M286.5 208h0M314.7 221.9h0M303.9 224h0M323.2 209h0M323.1 209.9h0M278 188.1h0M339.9 181.9h0M340.7 182.4h0M339.6 254.7h0M325.8 246.1h0M311.8 170.6h0M312 171.4h0M291.3 226.1h0M296.3 222.8h0M315.5 242h0M333.9 195.7h0M302.5 218.6h0M301.1 219.7h0M275.9 168.2h0M268.7 201.4h0M309.4 249.5h0M335 260.8h0M314.7 198.1h0M316.6 180.7h0M333.6 251.7h0M311.4 211.5h0M311.9 212.2h0M328.7 236.9h0M327.8 236.7h0M326.9 236.4h0M300.6 183.3h0M315.7 179.7h0M269.1 215.2h0M268.7 216h0M337.5 228.4h0M267.2 223.1h0M268 223.5h0M268.8 223.9h0M276.5 248h0M297.9 230.9h0M296.8 228.3h0M336.5 247.2h0M277.9 224.8h0M309.8 197.6h0"/>
<path stroke="#2c6f8e" stroke-width="2.2" d="M79.5 182h0M82 180.2h0M83.4 181.8h0M30.9 183.4h0M33.5 183.2h0M49.5 190.9h0M29.6 208.8h0M29.2 208.2h0M30.8 208.7h0M97.9 205.5h0M98.2 204.6h0M97.1 204.5h0M77.4 216.2h0M94.5 238.1h0M55 252.1h0M55 251.8h0M68.4 251.2h0M68.1 252.1h0M70.5 251.3h0M71.7 252.1h0M143 183.6h0M218.4 185.5h0M220.5 185.9h0M168 202h0M168.4 201.4h0M158.2 220.2h0M167.4 222.2h0M173.9 222.5h0M181.2 224.6h0M179.7 224.3h0M198.7 221h0M198.5 219.3h0M213.7 228.8h0M214 228.1h0M213.1 230.4h0M206.7 232h0M180.8 229.3h0M181.4 230.9h0M167.9 246.8h0M166.3 246.6h0M173.2 252.3h0M170.2 250.1h0M169.8 250.9h0M170.1 250.5h0M173.3 238.5h0M178.7 251.8h0M194.2 259.7h0M294.6 180.6h0M334.8 196.9h0"/>
<path stroke="#2c6f8e" stroke-width="2" d="M82.2 180.5h0M79.2 181.8h0M31.4 184.8h0M51.5 193.2h0M51.1 188.3h0M50.2 192.4h0M52.6 192.4h0M51.1 190.2h0M29 209.4h0M96.1 205.1h0M100 226h0M99.2 222.2h0M101.7 223h0M94.6 236.5h0M94.1 236.5h0M32.4 238.6h0M56.1 252h0M70.5 250.5h0M144.5 184.5h0M142.2 182.7h0M195.4 183.6h0M220.1 184.3h0M167.4 202.3h0M207.7 203h0M209.5 213h0M219.5 219.6h0M170.3 223.6h0M181.2 223.6h0M197.8 222.4h0M196.7 221.8h0M214.8 229.3h0M214.8 228.5h0M155.8 227.5h0M181.3 231.7h0M222.8 225.5h0M139.9 250.4h0M167.1 247.3h0M172.5 239.2h0M176.9 251.4h0M178.7 252.6h0M179 251.9h0M195.6 251.8h0M334.1 197.6h0M254.6 197.8h0"/>
<path stroke="#2c6f8e" stroke-width="1.8" d="M80.1 180.2h0M78.4 183.7h0M82.2 180.1h0M110.1 181.5h0M35 183.5h0M32.1 182.1h0M50 193.1h0M48.7 190.2h0M50.5 187.5h0M50.7 187.7h0M60.3 190h0M64 196.3h0M28.6 210.2h0M28 209.2h0M29.8 210.5h0M29.4 209.4h0M96.4 204.5h0M63.7 220.7h0M77.5 215.3h0M102.4 224.2h0M94.5 237.1h0M95.2 236.8h0M55.4 252.6h0M54.7 253.1h0M69.8 253.7h0M70 250.5h0M69.7 251h0M142.3 183.1h0M141.7 184.3h0M144.5 184.3h0M148 184.3h0M196.7 183.6h0M213.7 178h0M219.5 185.3h0M220.4 185.9h0M220.2 185.5h0M152.8 198.8h0M167.1 201.3h0M208.7 203h0M208 203.6h0M209.4 203.1h0M183 224.4h0M182.7 225.1h0M182.6 225.7h0M197.5 220.9h0M197.2 221.4h0M199.6 221.5h0M213.9 230.1h0M206 231.3h0M181.2 230.4h0M181.5 229.8h0M158 258h0M163 257.3h0M167 245.9h0M166.8 248.2h0M168.4 248.1h0M172.5 250.4h0M171.5 251.1h0M192.6 248.5h0M333.7 196.9h0M334 196h0M285 187.7h0M279.2 256.9h0M282.4 204.3h0M303.5 222.8h0M304.3 222.4h0M305.1 222h0M333.3 195.9h0M332.7 195.2h0M332.1 194.5h0M327.2 202.7h0M311.4 211.3h0M308 187.4h0M317.2 171h0M293.7 219.6h0M293.6 218.7h0M293.6 217.8h0M300.7 259.6h0M303.4 190.9h0M263.4 190.4h0M259.8 208.4h0M294.3 192.7h0M298.2 241.2h0M297.5 232.1h0M298.1 232.8h0M336 190.7h0M335.5 191.4h0M324.2 173.2h0M327.6 231.7h0M310.9 265.8h0M295.9 190.8h0M281.1 247.5h0M301.4 272h0M294.1 240.6h0M294.8 240.1h0M295.6 239.6h0M269.5 244.2h0M268.6 244.4h0M267.8 244.5h0M319.6 230.3h0M319.5 229.4h0"/>
<path stroke="#25858e" stroke-width="1.6" d="M80.3 180.6h0M61.4 188h0M93.5 189.8h0M95.4 192.3h0M93.9 192.8h0M83.4 212.8h0M80.6 211.8h0M83.4 211.6h0M87 212h0M86.2 213.5h0M85.6 210.7h0M85.5 224.8h0M25.6 242.4h0M26 241.5h0M53.9 249h0M67.6 245.7h0M96.3 245.5h0M97.8 243.7h0M69.9 258.4h0M75 236.1h0M147 184.9h0M165.8 186.3h0M185.3 188.4h0M185.7 189.4h0M142.9 190.3h0M138.4 204.3h0M210.3 199.3h0M210.2 199.2h0M209.3 202.8h0M214.4 205.9h0M214.4 206h0M223.1 204.1h0M222.4 206.6h0M222.5 207.3h0M198.4 205.4h0M197.5 207.4h0M167.2 221.7h0M171.7 221.7h0M151.3 233.7h0M159.4 259.9h0M156.1 257.3h0M160.4 259.4h0M177 251.8h0M192 246.7h0M194.5 252h0M211.2 243.3h0M219.3 252.7h0M219 253.3h0M218.4 252.9h0M192.1 263h0M191 261.2h0M286.9 232h0M310.8 248.6h0M293.3 220.7h0M292.5 220.9h0M327.1 241.9h0M291.1 232.2h0M267.3 208.2h0M264.2 196.9h0M263.7 198.6h0M311 215.3h0M286.6 227h0M285.8 227.5h0M294.6 216.3h0M295.3 215.7h0M293.9 242.4h0M293.3 243h0M312.1 237.4h0M281.3 195.7h0M266.7 214.4h0M267.6 214.5h0M260.2 221.8h0M260.3 220.9h0M316.3 197.5h0M291.1 194.9h0M305 220.2h0M320.2 240.8h0M282 234.5h0M312.1 236h0M295 200.9h0M294.3 200.3h0M288.5 242h0M289.1 242.7h0M322.9 261h0M317.2 239.3h0M325.4 202h0M324.5 202.1h0M323.6 202.1h0M277.2 247.2h0M277.8 247.9h0M337.8 193.9h0M338.7 194.1h0M263.5 221.4h0M262.6 221.6h0M268.4 216.9h0M289.4 224.4h0M287.6 256.2h0M286.8 256.6h0M286 257h0"/>
<path stroke="#1f968b" stroke-width="3.2" d="M108 179.5h0M186.2 242.7h0"/>
<path stroke="#1f968b" stroke-width="2.2" d="M106.2 180.7h0M107.1 181h0M108.4 178h0M109.4 179h0M37 197.1h0M36.6 198.8h0M57.6 197.1h0M65.7 223.4h0M18 214.6h0M17.9 215.2h0M18.8 214.5h0M21.3 223h0M65.8 232.2h0M33 246h0M55.7 253.3h0M162.1 178.6h0M191.3 179.5h0M190.6 181.3h0M213.7 185.3h0M214.4 186.2h0M212.8 186.1h0M179.7 187h0M178.5 195h0M178.3 193.4h0M209.7 192h0M157.7 190.3h0M145.9 207.1h0M142.5 211.9h0M216.8 202.7h0M217.1 201.7h0M148.8 214.6h0M150 215.3h0M149.5 216h0M214.4 229.1h0M140.5 251.8h0M140.8 252h0M163.4 257.5h0M187.6 242h0M185.3 245.2h0M184.6 240.8h0M213.7 246h0M207 255.1h0M148.6 261.8h0M254 198.8h0M253.4 198.2h0M272 258h0"/>
<path stroke="#25858e" stroke-width="2" d="M107.5 178.5h0M61.4 190.1h0M91.9 191.4h0M37 200.4h0M36.5 199.4h0M35.6 201.1h0M29.7 205.5h0M39.6 203h0M83.9 212.8h0M81.2 211.9h0M86.5 214.1h0M88.2 211h0M88.4 211.9h0M86 224.5h0M33.3 235.8h0M33.5 235.3h0M98.3 230.8h0M26.4 242.4h0M24.7 243.3h0M24.1 242.3h0M54.6 249.2h0M51.1 249h0M67.5 244.8h0M97.4 245.1h0M91.2 256h0M70.2 256.9h0M61.2 242.7h0M148 184.1h0M166 186.9h0M184.3 189.7h0M185.4 188.3h0M183.9 189.6h0M142.7 192.3h0M140.9 193.1h0M142.9 192h0M142.6 190.9h0M138.4 204h0M138.8 204.8h0M214.6 205.4h0M196.6 206.3h0M155.2 214h0M154.9 214.1h0M156 214.7h0M203.9 212.7h0M154.7 228.9h0M155.8 229h0M154.5 229.9h0M143.7 238.2h0M139.8 242.7h0M139 252.4h0M149.7 247.3h0M160.8 259.5h0M163.4 243.1h0M192.4 247.5h0M196.7 251.7h0M196 251.5h0M199.5 238.5h0M210.3 245.8h0M220.1 237.8h0M220.8 239.1h0M218.9 254.3h0M196.2 257.6h0M193.3 262.5h0M174.6 256h0M164.6 257.6h0M199.5 262.6h0"/>
<path stroke="#1f968b" stroke-width="2" d="M108.1 177.9h0M110.2 178.3h0M108.2 177h0M37.6 197.4h0M34.5 195.9h0M34.7 197h0M95.9 185.3h0M96.4 186.9h0M58 197.8h0M58.3 197h0M59.3 196.9h0M58 196.5h0M43.8 214.6h0M18.8 215.7h0M20.1 224h0M21.4 223h0M66.1 232.6h0M52.9 224.6h0M42.8 239.3h0M33.6 246.9h0M32.3 245.1h0M31.4 245.4h0M33.8 244.9h0M94.5 264.3h0M162.5 177.2h0M163.3 177.8h0M160.9 179.4h0M194.5 179.2h0M214.2 177h0M215 184.1h0M213.6 185.3h0M178.8 186.3h0M142.7 192.2h0M209.6 192.3h0M209.4 191.4h0M212.9 192.8h0M156.8 190h0M145 209.2h0M145.4 206.8h0M142.5 211.7h0M140.8 214.3h0M215.2 202.4h0M161.3 209.6h0M147.2 215.5h0M148.5 213.1h0M147.6 214.9h0M161.3 231.3h0M218.7 231.3h0M140.8 250.6h0M139.6 252.6h0M139.9 250.3h0M186 244h0M185.5 243.7h0M188.6 242.6h0M214.4 246.9h0M214.9 246h0M214.2 244.3h0M213.1 247h0M212.6 244.9h0M212.7 244.8h0M205.7 255.9h0M254.6 197.2h0M253.8 198.8h0M293.1 179.1h0M293.3 178.6h0M294.9 179.2h0"/>
<path stroke="#2c6f8e" stroke-width="2.6" d="M33 183.7h0M100.3 223.8h0M69.6 251.8h0M197.9 220.5h0M171.3 251.8h0"/>
<path stroke="#b8ce3c" stroke-width="3.2" d="M20.5 187.8h0M73.7 204.7h0M102.8 270.1h0"/>
<path stroke="#b8ce3c" stroke-width="2.2" d="M21.7 190.4h0M22.2 186.8h0M40.8 194.4h0M37.3 195.2h0M39.7 192.9h0M73.4 205.9h0M72.3 204h0M73.1 205.9h0M73.5 204.7h0M45.3 256.2h0M47.1 257.5h0M83.6 242.8h0M165.9 169h0M167.2 175.4h0M175.3 176.5h0M176 178.2h0M209.9 249.8h0M208.1 249.3h0M209.7 248.7h0M208.3 249.9h0M224.5 251.8h0M223.8 251.5h0M225.8 252.7h0M171.9 261.9h0M227.6 262.4h0M209 270.3h0M341.2 181.1h0M341.4 182.2h0M341.4 180.7h0M340.2 182.5h0M303.1 176.1h0"/>
<path stroke="#b8ce3c" stroke-width="1.4" d="M13.8 193.7h0M108 192h0M207.9 166.2h0M172.1 262.6h0M242.2 184.5h0M94.9 233.1h0M290.2 230.7h0M292.7 211.4h0M292.1 210.7h0M310.3 201.5h0M310.9 200.9h0M311.5 207.5h0M285 228.1h0M286.4 194.9h0M323.9 206.2h0M295.8 188.9h0M287 242h0M257.2 245.5h0M323.7 237.7h0M323.5 238.5h0M323.3 239.4h0M322.6 251.9h0M327 258.9h0M270.1 210.2h0M277.9 244.9h0M304.8 225.1h0M310.5 243.8h0M285.4 189.5h0M286.8 188.7h0M286.1 189.2h0M303 231.6h0M270.5 239.7h0M270.3 238.8h0M341 180h0M340.7 179.2h0M310.4 185.3h0M310 185h0M333 272h0M333.3 272.3h0M337 245h0"/>
<path stroke="#46186a" stroke-width="1.6" d="M42.2 187h0M96.5 191h0M95.7 191h0M49 202.7h0M49.1 205.2h0M47.6 203.9h0M87.9 202h0M66 218.5h0M30.9 218.7h0M57.4 232.9h0M89.2 236.6h0M90.9 235.6h0M50.4 253.2h0M62.4 247.7h0M65.6 247.2h0M75.3 244.5h0M80 250h0M78.9 248h0M78.6 248.4h0M100 239.8h0M186.5 184.9h0M186.6 185.8h0M214.9 217h0M208.8 230.7h0M196.4 229.2h0M196.6 228.8h0M148 228.8h0M185.7 259h0M313.4 215h0M313.3 215.9h0M313.2 216.8h0M295.1 229.5h0M295.7 228.8h0M296.2 228.1h0M255.1 264.9h0M263.1 228.4h0M264 228.1h0M264.8 227.9h0M279.4 216.1h0M263.9 197.8h0M276.4 231.8h0M275.6 231.4h0M274.7 231.1h0M295.6 235.7h0M280.6 214.7h0M284.7 212.9h0M318.2 200.3h0M279.3 205.1h0M316.3 249h0M285.1 230.3h0M299.6 217.5h0M300 218.3h0M300.3 219.2h0M261 195.3h0M265.2 195.8h0M290.6 233.5h0M290.7 223.6h0M298.8 249.8h0M310.8 211.5h0M330.5 221.7h0M330.4 220.8h0M330.3 219.9h0M303.1 186.3h0M304 186.4h0M304.9 186.5h0M311.2 235.8h0M328.7 217.1h0M299.3 243h0M300.1 242.7h0M295.2 262.5h0M329.4 235.8h0M320 211.6h0M320.6 211h0M274 224.3h0M274.7 223.7h0M275.4 223.2h0M293.3 261.5h0M293.8 262.2h0M330.8 206.8h0M288.4 204.7h0M316 180.5h0M285.1 200.5h0M294.4 243.4h0"/>
<path stroke="#46186a" stroke-width="2.2" d="M42.1 187.7h0M96.8 190.6h0M48.8 203.8h0M72 198.7h0M65.7 246.3h0M76.4 245.4h0M81 250.2h0M80.5 248.5h0M99.5 240h0M177.2 184h0M152.6 190.7h0"/>
<path stroke="#46186a" stroke-width="1.8" d="M42.9 187.5h0M41.7 187.6h0M42.8 187.3h0M96.3 190h0M65.4 218.8h0M66 219.7h0M65.6 219.4h0M65.1 218.2h0M31 219.4h0M49.1 228h0M47.9 227.8h0M56.3 232.9h0M90.4 236.3h0M89.5 236.6h0M43 250.2h0M43.4 250.7h0M62.6 247.8h0M66.6 247h0M76.2 244.3h0M76.3 245.4h0M76.5 243.4h0M76.4 244.7h0M176.6 183.8h0M177.5 185.1h0M152.6 191.4h0M182.7 204.9h0M306.2 198.1h0M307 198.6h0M307.7 199.2h0M263.5 216h0M326.2 231.2h0M327 231.6h0M284.4 243.1h0M270 243.4h0M282.4 234.3h0M283.9 235.7h0M342.3 247.1h0M266.8 250.4h0M265.9 250.2h0M290.7 239.1h0M290.4 238.3h0M298.7 223.2h0M273.6 247.6h0M313.5 204.6h0M314 205.3h0M291 215.1h0M291.1 214.2h0"/>
<path stroke="#482173" stroke-width="2.6" d="M41.3 192h0M187.1 253.5h0"/>
<path stroke="#482173" stroke-width="1.6" d="M41.2 191.3h0M42 193.2h0M66.9 189.1h0M70.4 199h0M88 202h0M29.8 254.2h0M91.2 237.9h0M209.1 184.1h0M187.7 199.5h0M188 198.5h0M165.8 232.9h0M166.7 232.5h0M165.5 231.3h0M185.7 254.7h0M184.9 254.1h0M311.2 247.8h0M313.3 236.3h0M309.8 239.3h0M281.2 204.7h0M337.7 210.6h0M280.7 253.6h0M281.5 253.1h0M282.3 252.7h0M286.1 211.3h0M311.9 208.7h0M311.3 209.5h0M310.8 210.2h0M271.2 181.2h0M275.7 236.6h0M275.2 237.3h0M266.2 208.9h0M280.1 241.2h0M304.9 211.8h0M322.5 215.4h0M302.8 227.2h0M313.4 225.2h0M313.8 224.4h0M327.4 246.5h0M325 218.8h0M324.4 218.1h0M297.1 221.1h0M295.4 196.3h0M294.9 217.7h0M313.9 211h0M314.3 210.2h0M314.7 209.4h0M276.7 216.2h0M317.2 235.8h0M317.8 235.1h0M318.3 234.4h0M294.3 263h0M319.8 238.1h0M336.3 228.2h0M336.9 227.6h0M284.7 249.2h0M288 258h0M288.9 257.9h0M289.8 257.8h0M284.5 218.6h0M284.4 219.5h0M327.6 207.3h0M328 206.5h0M328.4 205.7h0M318.9 244.4h0M319.3 245.1h0M314.8 217.3h0M324 244.1h0M315.3 176h0M315.8 175.3h0"/>
<path stroke="#482173" stroke-width="1.8" d="M41.1 191h0M42.6 192.4h0M41.1 190.1h0M41.8 191h0M87.9 201.3h0M87.9 201h0M88.4 202h0M87.4 200.7h0M34.9 209.4h0M31 218.5h0M29.1 253.6h0M71.1 242.7h0M69.9 243h0M91.2 237.7h0M90 237.5h0M209.5 185.3h0M187.1 198.8h0M187.3 198.6h0M208.7 231.5h0M208.9 231.8h0M165.4 232.1h0M166.5 231.3h0M179.9 248.2h0M180.8 247.5h0M186 254.8h0M186.5 254h0M188.5 253.2h0M213.6 249.2h0M185.3 258.2h0M305 237.5h0M324.9 198.8h0M324.3 198.2h0M323.7 197.5h0M290.2 212h0M327.5 241.4h0M319.4 219.2h0M318.6 219h0M288.4 198.6h0M288.4 199.5h0M288.3 200.4h0M302.1 221.6h0M301.2 221.4h0M300.3 221.2h0M279.3 198h0M279.5 197.1h0M282.3 196.7h0M282.9 196.1h0M283.5 195.4h0M312.8 263.5h0M282 196.6h0M277.7 247.3h0M248.4 193.7h0M258.6 206.3h0M258 206.9h0M288.7 222.5h0M268 194h0"/>
<path stroke="#482173" stroke-width="2.2" d="M40.5 192.8h0M35.6 210.4h0M81 219.1h0M30.3 253.8h0M79.4 248.8h0M91.4 238.1h0M209.3 185.9h0M186.9 198.3h0M185.4 254.3h0M185.5 253.3h0M185.7 252h0"/>
<path stroke="#482173" stroke-width="2" d="M40.4 192.3h0M39.1 192.8h0M35.5 201.3h0M36.2 210h0M65.4 212.1h0M57.9 220.5h0M47.9 217.1h0M81.4 218.9h0M81.9 219h0M56.5 231.9h0M59.6 229.6h0M70 242.5h0M91.7 236.6h0M90.7 237.5h0M150.5 186.1h0M182.1 187h0M186.8 185.7h0M207 187h0M209.7 186.1h0M209.4 184.6h0M208.6 184.6h0M186.9 198.1h0M199.5 198.8h0M172.9 212.1h0M145.5 219.6h0M165.1 232.3h0M177.1 236.3h0M167.1 243.5h0M187.1 236.8h0M215.3 238.5h0"/>
<path stroke="#a8ca44" stroke-width="2" d="M38.3 193.1h0M53.4 200.7h0M51.7 203.9h0M76.2 203.6h0M75 204.1h0M47 209.1h0M47.2 210.2h0M50.2 212.2h0M50.9 219.8h0M149 178.1h0M147.7 177.8h0M166 167.7h0M210.2 177.8h0M189.2 187.9h0M226.6 192.4h0M214.8 209.5h0M162.5 214.9h0M163.8 215.1h0M184.1 213.6h0M132.5 224.9h0M132.5 224.7h0M228.3 240h0M228.7 240.8h0M230.7 243.5h0M230.5 242.5h0M222.8 272.6h0M345.7 182.2h0M344.8 183.2h0M342.6 184.6h0M348.2 182.7h0M345.4 186.4h0M270.1 194.5h0M269.5 196.9h0M270.2 196.7h0M301.2 174.9h0"/>
<path stroke="#a8ca44" stroke-width="1.6" d="M37.7 195.9h0M52.9 203.6h0M54.2 202.4h0M52.2 203h0M52.8 200.9h0M49.6 207.9h0M50.1 211h0M50.1 210.8h0M50.9 220h0M148.7 179.9h0M148 178.4h0M163.5 175.7h0M227.6 191.8h0M213.8 209.6h0M214.6 210.2h0M164.3 214.4h0M163.7 215.5h0M134.6 226.4h0M133.9 227.6h0M132.9 226.2h0M146.7 237.5h0M228.8 241.8h0M231 241.2h0M217.9 269.4h0M217.5 270.1h0M345 180.1h0M345.3 183.4h0M270.6 196h0M272.3 236.5h0M335.8 168.5h0M288 258.6h0M288.1 259.5h0M298.1 257h0M298.3 255.3h0M258.4 169.5h0M253.3 199.4h0M257.7 199.9h0M311.1 238.1h0M310.7 238.9h0M310.2 239.7h0M265.4 208.4h0M321.6 217.6h0M317.9 252h0M318.6 251.4h0M339.4 255.7h0M318 190.4h0M318.4 189.5h0M318.7 188.7h0M321.5 241.6h0M284.3 229.7h0M305.5 187h0M261.8 222h0M287.1 206.6h0M324.2 216.3h0M327.8 229.4h0M337.3 238.9h0M294.9 221.6h0M317.2 187.2h0M327.3 210.9h0M326.4 210.7h0M330 206.4h0M311.6 171.2h0M335.3 213.2h0M327.9 250.9h0M301.2 175.3h0M301 174.7h0M301.6 174.7h0M301.1 176.3h0M322.4 231h0M323 231.5h0"/>
<path stroke="#1f968b" stroke-width="2.6" d="M36.3 197h0M141.3 213h0"/>
<path stroke="#2c6f8e" stroke-width="4" d="M49.7 191.2h0"/>
<path stroke="#3fb07a" stroke-width="4" d="M50.5 196.2h0"/>
<path stroke="#3e2a78" stroke-width="3.2" d="M66.3 186.2h0M71.3 197h0"/>
<path stroke="#3e2a78" stroke-width="2" d="M65.1 184.4h0M68.3 184.4h0M67.4 185h0M66.9 185.5h0M66.6 188.4h0M69.8 199.1h0M72.7 198.9h0M72.5 196.4h0M69.8 196h0M43.3 204.5h0M71.1 198.6h0M63.7 205h0M65.1 204.5h0M64.1 203.9h0M65.9 218.4h0M97.4 217.8h0M98.2 218.2h0M33.3 228.7h0M72 223.9h0M43.6 243h0M81.6 255.3h0M80.6 254.7h0M80.6 256.1h0M80.8 257.7h0M82.9 258.2h0M93.9 251.3h0M93.9 253.1h0M92.7 252.5h0M100.7 252.8h0M100.6 253.2h0M172.9 192h0M186.3 198h0M210.4 197.3h0M152.6 197.1h0M171.5 205.9h0M202.9 201.3h0M191.2 208h0M200.6 215.2h0M213.6 216.1h0M196.4 222.4h0M191.2 228.8h0M164.5 252.7h0M195.2 243.7h0"/>
<path stroke="#3e2a78" stroke-width="1.8" d="M67.8 186.4h0M66.9 185h0M68.9 198.4h0M69.4 195.3h0M70.7 199.5h0M44.3 204.2h0M71.2 198.8h0M64.6 204.7h0M63.9 203.6h0M86.2 206.4h0M86.6 206.1h0M98.4 217.3h0M33.8 229.6h0M33.3 230.5h0M34 228.8h0M44.3 242.6h0M43.9 243.1h0M81.1 256.7h0M81.2 255.3h0M93.7 252.6h0M94 252.6h0M187 196.3h0M187.8 197.2h0M210.7 196.4h0M152.1 196.1h0M153 197h0M152.5 195.2h0M163.5 201.8h0M171.9 205.8h0M213.7 217.1h0M213.6 215.8h0M197 223.1h0M197.1 222.9h0M146.6 253.3h0M146.4 252.2h0M164.6 251.8h0M213.5 249.6h0M311.1 229.1h0M324.5 230.3h0M278.2 196.8h0M288.8 210.8h0M304.2 211.9h0M303.4 212.3h0M327.5 218.4h0M264.7 211.4h0M309.7 243.8h0M287.9 213.6h0M287.5 214.4h0M304.3 191.1h0M306.5 218.9h0M297 218.6h0M295.9 220h0M270.6 200.5h0M305.2 208.7h0M305.2 207.8h0M305.3 206.9h0M324 218.3h0M324.8 217.8h0M325.5 217.3h0"/>
<path stroke="#3e2a78" stroke-width="1.6" d="M67.6 188.7h0M65.6 188.7h0M66.3 186.6h0M64.2 186.2h0M67.2 188h0M70.4 199.5h0M72.6 196.2h0M70.5 194.6h0M71.5 199.2h0M65.4 204.5h0M86 205.7h0M79.9 258.6h0M100.3 253.5h0M187.2 197.8h0M185 197.1h0M210.2 197.6h0M209.7 197.2h0M151.5 196.5h0M162.7 201.1h0M163.1 201.8h0M171.2 205.4h0M201.3 214h0M212.7 216.4h0M147.3 252.3h0M165 252.1h0M164.2 250.9h0M186.1 251.9h0M212.6 248.6h0M327.2 225.1h0M327 226h0M281.2 230.4h0M321.2 188.4h0M250.8 196.4h0M322 187h0M322 186.1h0M308.6 197.5h0M309.3 198h0M328.5 227.2h0M312 255.3h0M311.4 256h0M310.8 256.7h0M285.9 213.4h0M311.2 208.2h0M311.2 209.1h0M274.2 219h0M275 218.6h0M275.8 218.2h0M287.5 234.6h0M288.4 234.7h0M274.8 232h0M275.6 232.3h0M303.1 245.2h0M329.3 211.6h0M269.5 211.9h0M268.8 212.4h0M274.2 208h0M280.9 222.5h0M280.9 236h0M304.7 224.3h0M333.3 265.3h0M267.1 256.7h0M266.4 257.2h0M265.6 257.7h0M267.9 237.1h0M317.7 186.5h0M309.2 207.2h0M309.8 206.5h0M246.3 175.9h0M323.1 223.3h0M276 216.8h0M278.1 233.4h0M259.7 211.7h0M276.5 243.7h0M289.2 209.8h0M319.3 230.3h0M319.8 231h0M337.4 247.1h0"/>
<path stroke="#3e2a78" stroke-width="2.2" d="M65 186.9h0M73.1 196.1h0M70.2 198.5h0M72 197h0M43.4 203.9h0M72.4 198.3h0M70 198.5h0M34 230.5h0M33.1 230.4h0M72.1 224.4h0M72.2 223.9h0M49.8 253.6h0M80.5 247.2h0M83.1 257h0M93.2 251.6h0M186.2 196.9h0M186.1 195.9h0M185.3 197.5h0M210.4 196.9h0M209.7 198.3h0M209.9 195.5h0M152.6 195.4h0M200.8 214h0M212.6 216.4h0M165.6 252h0M164.4 250.8h0M180.7 247h0M194.4 244h0M194.8 244h0"/>
<path stroke="#25858e" stroke-width="2.6" d="M61.3 189.5h0M93.8 191.2h0M86.2 212.1h0M52.9 247.6h0M192.9 261h0"/>
<path stroke="#25858e" stroke-width="1.8" d="M62.6 190.9h0M61 188.4h0M92.9 190.9h0M38.6 199.8h0M38 199.1h0M29.6 204.7h0M30.4 203.6h0M29.2 204.6h0M93.9 202h0M85.8 213.7h0M82.8 213.8h0M80.2 213.8h0M85.3 213.5h0M63.2 223.9h0M86.2 223.8h0M85 224.2h0M17.9 213.1h0M21.8 224h0M32.6 235.4h0M31.8 235.7h0M33.8 234.1h0M97.9 231.3h0M98.2 230.7h0M98.9 231.2h0M97 230.7h0M32.9 239.3h0M34.7 239.1h0M25.1 243.4h0M52.6 247.6h0M52.9 248.9h0M50.9 248.1h0M68.7 245.2h0M69 246.4h0M97.8 246.6h0M70.4 257.6h0M70.6 256.9h0M70.4 258.2h0M71.3 256.9h0M75.1 236.5h0M147.1 184.5h0M213.7 177.8h0M213 178.5h0M215.6 189.4h0M139.4 206.6h0M137.1 204.7h0M210.1 199h0M213.7 206.3h0M212.8 206h0M223.1 204.9h0M221.7 205.3h0M197.9 206.3h0M198.1 206.8h0M197.9 206.5h0M175.5 213.6h0M206.2 212.1h0M205.8 212.8h0M207.1 212.1h0M207.2 213h0M174.1 222.5h0M173.5 222.1h0M151.4 233.8h0M143 237.7h0M143 237.1h0M142.5 237.3h0M143.4 237.3h0M150.5 247.6h0M157 257.2h0M160.9 259h0M160.1 255.9h0M159.2 260.2h0M158.4 255.9h0M160.4 258.2h0M158.3 258.1h0M162.2 243.2h0M192.9 247.6h0M193.5 246.7h0M195.4 251.8h0M210.2 244h0M208.7 244.2h0M209 244.8h0M210.7 243.5h0M219.5 253.5h0M192.5 262.7h0M191.9 261.2h0M149.3 260.5h0M320.1 204.6h0M288.7 211.7h0M295.6 204.4h0M294.9 205h0M272.2 193h0M265.4 226.2h0M264.6 225.8h0M331.3 217.2h0M291.5 253.8h0M264.3 190.4h0M310.5 202.7h0M296.9 224.2h0M295.7 230.5h0M295 230h0M294.2 229.6h0M307.7 237.1h0M274.9 255.5h0M329.2 196h0M303.6 221.5h0M304 222.3h0M312 263.9h0M276.9 246.8h0M312.6 244.5h0M331.9 192.6h0M293.3 173.3h0M277.8 220.5h0M279.4 202.3h0M309.4 228.8h0M305.7 205.1h0M260.5 206.3h0"/>
<path stroke="#c5d236" stroke-width="4" d="M73 188.7h0"/>
<path stroke="#c5d236" stroke-width="1.6" d="M72.3 185.8h0M74.6 186.6h0M69.4 187.7h0M99.6 209.3h0M99.7 209h0M97.4 208h0M100 208.1h0M47.7 209.3h0M51.5 210.9h0M19.2 225h0M68.9 230.5h0M80.1 234.8h0M40.4 254h0M109.4 252.9h0M110.1 252.4h0M106.9 252h0M135.3 188h0M135.1 188.2h0M135.3 188.3h0M140.1 178h0M141.2 176.1h0M166.1 176.5h0M182.8 169.4h0M188.8 189.3h0M190.2 189.3h0M189.7 205.9h0M191.7 221.3h0M163.9 228.8h0M184.8 231.9h0M144.7 235.3h0M145.1 236.8h0M152.1 240.6h0M170.8 268h0M207.4 272.7h0M206.2 272.5h0M207.2 269.5h0M205.7 270.2h0M207.9 270.8h0M343.3 181.4h0M268.2 195.7h0M317.7 247h0M318.5 247.3h0M269.4 237.2h0M270 236.5h0M270.5 235.8h0M307.2 215.9h0M306.6 215.3h0M260.6 198.7h0M311.8 226.1h0M298.9 184.9h0M253.7 258.9h0M268.5 202.9h0M268.3 203.8h0M268.1 204.6h0M338 239.5h0M288.9 223.7h0M289.8 223.6h0M305 240.1h0M326.1 231h0M344.7 184h0M328.6 236.3h0M255.5 232.4h0M284.3 218h0M332.1 212.5h0M247.1 266.4h0M257.8 228.8h0M327.4 206.1h0M297.2 229.2h0M248.7 226h0"/>
<path stroke="#d4d82e" stroke-width="1.6" d="M70.8 191.7h0M74 190.4h0M50.7 216.1h0M40 233.1h0M69.8 229.4h0M68.4 229.7h0M70.9 234.1h0M79.7 234.7h0M141.2 175.9h0M147 178.4h0M148.7 177.1h0M148.7 176.5h0M166.7 169.1h0M165.3 168.6h0M184.6 181.5h0M174 200h0M188.4 205.7h0M190.4 202.2h0M191.2 204.9h0M163.2 210.6h0M165 211.1h0M164.9 210h0M164.2 227.6h0M196.2 235.4h0M146.4 238.3h0M230.9 243.1h0M139.9 258.2h0M139.1 258.6h0M139.4 258.3h0M303.2 176.3h0M301.3 175.4h0M303.1 173.4h0M310.3 185.2h0M311.5 184.1h0M309.5 187.4h0M318.3 213.2h0M303.5 259.9h0M278.6 216.6h0M328.4 189.2h0M328 191h0M311.3 188.5h0M302.6 254.7h0M332.2 239.5h0M331.4 239.8h0M288.9 233h0M289.8 233.3h0M268.1 212.9h0M284.2 180.3h0M332.9 264.5h0M301.8 219.2h0M276.7 167.8h0M278.5 248.5h0M260.5 188.2h0M324 225h0M323 236.1h0M318.2 168.2h0"/>
<path stroke="#a8ca44" stroke-width="2.2" d="M70.3 186.2h0M74.2 201.9h0M71.7 205.6h0M99.8 209.2h0M97.2 207.9h0M50.7 212.3h0M50.8 210.4h0M48.7 211.5h0M51 219.1h0M147.3 179.8h0M182.4 170h0M211.5 178h0M211 178.7h0M210.1 179.8h0M211.9 178.8h0M184.2 213.6h0M133 226.3h0M133.3 227.3h0M191.9 221.8h0M161.9 256.2h0M161.3 255.6h0M230.8 240.3h0M228.1 241.6h0M172.1 266.4h0M243.8 169.5h0M245.5 169.9h0M242.2 169.7h0M344.8 179.7h0M347.4 181.4h0M342.5 180.2h0M343.6 181.7h0M346.4 185.6h0M308.7 184h0M269.6 196.1h0M269.8 197.4h0M269.8 196.1h0M262 232h0"/>
<path stroke="#2a788e" stroke-width="3.2" d="M101.3 190.3h0M89.5 213h0"/>
<path stroke="#52bd68" stroke-width="2.6" d="M93.8 196.2h0M200.4 181.1h0M162.1 187.8h0M129.7 218.8h0"/>
<path stroke="#46186a" stroke-width="2" d="M95.5 191.4h0M50.5 203.6h0M48.3 202.9h0M47.8 204h0M48.4 202.5h0M67.1 208h0M39.6 216.3h0M48.9 228.1h0M57.6 232.7h0M55.6 232.7h0M55.5 233.5h0M76.2 228.8h0M89.5 227.1h0M90.2 235.7h0M91.6 235.7h0M44.3 250.3h0M49.6 252.8h0M63 248.3h0M81.1 248.3h0M80.8 249.4h0M99.4 239.8h0M146.3 193.6h0M153.3 191.8h0M211.5 197.3h0M182.6 204.1h0M181.6 204.5h0M152.1 210.5h0M177.1 228.8h0M196.7 229.5h0M154.6 241h0M163.8 238.5h0M185.8 259h0"/>
<path stroke="#3e2a78" stroke-width="1.4" d="M43.8 203.8h0M86.2 206.3h0M97.9 218h0M72.1 223.8h0M43.8 242.7h0M100.3 253.5h0M162.9 201.3h0M171.3 205.5h0M201.2 214.6h0M196.2 223h0M147.1 252.6h0M212.9 249.3h0M74.4 240.4h0M42.8 231.5h0M177.3 225.4h0M183.5 228.3h0M289.4 231.2h0M308.9 194.9h0M271 229.9h0M270.5 230.7h0M270.1 231.5h0M306.9 215.6h0M306.5 214.8h0M294.6 215.7h0M293.7 215.5h0M292.9 215.3h0M267.7 233.5h0M282.9 182.3h0M279.8 227.2h0M280.5 226.7h0M314.7 218.1h0M315.6 217.9h0M316.5 217.7h0M291.8 217h0M291 217.2h0M281.5 207.6h0M266.3 193.4h0M266.5 192.5h0M266.8 191.6h0M283.1 248.7h0M282.2 248.9h0M316.1 190.8h0M302.7 229.3h0M302.2 230h0M273.8 202h0M270.9 197.8h0M270.7 196.9h0M318.2 244.6h0M275.7 210.8h0M303.4 215.6h0M302.8 214.9h0M312.9 241.9h0M273.9 202.7h0M273.3 257.8h0M334.7 246.5h0M334.8 245.6h0M327 258h0M291.2 181.1h0M290.6 181.8h0M287.5 196.5h0M298.1 200.9h0M297.3 200.5h0M305.1 224.7h0M266.5 211.4h0M266.3 185h0M265.8 184.2h0M285.5 197.1h0M286.3 196.7h0M287.1 196.3h0M313.8 191.5h0M278.8 259.4h0M278 259.5h0M308.3 235.2h0M308.9 235.8h0M316.2 248.9h0M315.5 248.4h0M292.5 220.9h0M317 208.7h0M317.8 209.1h0M274.6 209.7h0"/>
<path stroke="#a8ca44" stroke-width="2.6" d="M52.9 203h0M148 178.6h0M211.2 178.6h0M229.5 241.8h0"/>
<path stroke="#35a87e" stroke-width="1.4" d="M57.9 198.8h0M97 199.7h0M338.9 184.5h0M304.3 230.7h0M305 230.1h0M314.5 257.7h0M313.9 228.2h0M327.2 180.9h0M343.2 196.4h0M343.7 197.1h0M270.9 219.4h0M285.9 227.7h0M305.2 210.8h0M306 211.1h0M311.5 183.5h0M301.4 259.3h0M322.6 221.5h0M301.7 214.5h0M302.1 213.7h0M300.3 195.9h0M300.2 196.8h0M300.1 197.7h0M281.1 213.6h0M311.2 183.2h0M312.1 183.2h0M313 183.1h0M295.7 233.8h0M262.9 213.3h0M262.2 213.9h0M316.8 240.4h0M316.4 239.6h0M341.3 176.8h0M340.4 176.6h0M339.5 176.5h0M313.7 247.1h0M313 247.7h0M294.5 259.1h0M293.9 258.4h0M328.7 245.1h0M277.1 233.7h0M276.3 233.3h0M325.2 258.9h0M324.4 259.3h0M287.1 215.2h0M334 212.9h0M332.2 212.8h0M254.8 250.2h0M309.3 221.9h0M309.3 222.8h0M309.3 223.7h0M332.7 244.6h0M261.3 210.4h0M261.8 209.6h0M262.4 208.9h0M281.9 251.8h0M280.5 234.9h0M314.3 257.7h0M314.1 258.6h0M287.5 173.7h0M313.1 241h0M267.7 228.9h0M268.5 228.5h0M305.8 240.9h0M286.5 196.7h0"/>
<path stroke="#c5d236" stroke-width="2.6" d="M98.7 209.6h0M108.7 251.8h0M207.9 270.9h0"/>
<path stroke="#25858e" stroke-width="3.2" d="M82.9 213h0M158.8 257.6h0"/>
<path stroke="#a8ca44" stroke-width="3.2" d="M48.8 210.5h0"/>
<path stroke="#d4d82e" stroke-width="1.8" d="M50.5 214.9h0M50.7 213.9h0M38.8 232.9h0M39.9 232.5h0M39.6 232.1h0M39.7 233h0M72.8 230.4h0M72.2 229.8h0M72.1 232.6h0M79.5 235.4h0M40.3 252h0M40.2 252.8h0M38.2 253.4h0M83.2 243.1h0M83.8 244.2h0M101.5 270.2h0M107.8 272.6h0M107.6 272.9h0M107.9 271.5h0M149.6 176.1h0M165.1 170.6h0M164.8 169.8h0M165.2 168.3h0M231.4 171.9h0M186.5 183.4h0M185.9 182.3h0M186.4 180.3h0M184.2 182.2h0M188.1 202.3h0M188.3 202.6h0M164.6 228.8h0M165.4 228h0M156.3 252.8h0M140 257.7h0M139.5 260.2h0M141.5 258.1h0M242.7 169.3h0M301.5 175.5h0M341.6 204.6h0M342.1 203.9h0M284.9 222.3h0M315.8 225.5h0M338 215.6h0M338.1 216.5h0M305.1 191.4h0M346.5 195.2h0M270.9 216.7h0M284.6 248.7h0M284.2 247.9h0M267.7 259.1h0M268.3 259.8h0M275.7 255.8h0M322.2 246.4h0M280.4 248.1h0M279.8 248.7h0M259.2 205.6h0M311.7 230.9h0M288.2 223.2h0"/>
<path stroke="#482173" stroke-width="1.4" d="M35.5 209.6h0M81.2 219.6h0M29.6 253.5h0M70.4 242.7h0M208.7 231.3h0M180.4 247.6h0M194.5 244.3h0M71.3 259.3h0M159.9 205.7h0M199.2 227.3h0M200.8 188.5h0M293.8 247.3h0M294 249.1h0M302.2 190.1h0M318 200.7h0M270.5 246.9h0M271.3 246.6h0M272.1 246.3h0M261.5 260.6h0M262.4 260.4h0M292.6 243.7h0M290.7 232.8h0M290 233.3h0M289.2 233.8h0M310.1 220h0M309.3 220.5h0M308.6 221h0M293.7 250.7h0M292.8 250.9h0M299.6 201.6h0M300.1 202.3h0M300.5 203.1h0M292.7 202.5h0M307.4 223.7h0M308.1 224.3h0M326.5 254.8h0M287.3 195.1h0M291.4 203.7h0M274.4 241.9h0M274.8 241.1h0M334.5 220.5h0M290.9 235.9h0M290 235.9h0M301.4 233.9h0M302.1 234.5h0M282.7 182.1h0M281.9 182.6h0M281.1 183h0M284.3 230.1h0M319.5 229.2h0M281.2 239.7h0M280.3 239.5h0M340.1 208.6h0M339.4 207.9h0M338.7 207.3h0M304.2 224.9h0M305.9 224.5h0M305.5 237.5h0M306.1 236.8h0M306.7 236.1h0M324.4 232.3h0M325.3 232.1h0M285.8 199.6h0M285.5 200.4h0M324.6 204.6h0M283.2 246.6h0M305.8 207.3h0M306 206.4h0M306.2 205.5h0M291.6 221.2h0M281.3 244.8h0M282.1 244.3h0M293.4 216.4h0M265.4 199.7h0M310 207.9h0M309.1 208h0M314.9 216.2h0M314.2 215.6h0M313.6 215h0M333.3 207.5h0M279.8 189h0M279.4 188.2h0"/>
<path stroke="#2a788e" stroke-width="1.4" d="M35.5 213h0M84.5 229.6h0M85.4 237.7h0M215.3 189.5h0M136.3 208.8h0M215.3 224.6h0M140.5 242.7h0M157.9 239.3h0M159.6 246h0M201.2 254.3h0M111.6 226.6h0M28.8 216.4h0M102.1 200.9h0M164.4 228.4h0M184.1 226.5h0M172.1 268.6h0M202.2 222h0M280.4 182.6h0M295.6 232.7h0M273.8 174.9h0M304 189.9h0M325.9 235.2h0M287 246.3h0M287.7 245.7h0M266.3 219.9h0M306 178.6h0M306.1 179.5h0M276 215.5h0M340.9 231.9h0M341.4 231.1h0M341.9 230.4h0M280 220.5h0M261.7 178.9h0M314.5 175.7h0M274.1 202.9h0M267.3 174.9h0M266.5 174.4h0M299 218.7h0M296.6 191h0M285.2 238h0M284.3 237.7h0M310.5 213.5h0M289.9 238.1h0M293.2 257h0M292.3 256.8h0M320.3 259.8h0M280.6 201.1h0M292.1 193h0M291.4 193.4h0M281.2 243.7h0M279.4 244h0M276 190.3h0M327 242.4h0M348.2 182.9h0M349.1 183h0M323.4 207h0M323.5 262.7h0M302 207.4h0M321.1 231.2h0M334.5 219.6h0M258.1 245.5h0M307 210.5h0M301.9 207.4h0M316.1 234.3h0M278.4 222.8h0M279 222.1h0M333.6 203.8h0M272.9 258.6h0M281.7 187.9h0M299.2 224.4h0M322 199h0M291.4 200.7h0M267.8 185.3h0M268.5 184.7h0M291.5 216.6h0M255.4 249.5h0M276.3 257.3h0M311.1 247.9h0M279.5 199.9h0M258.6 235.2h0M308.1 198.7h0M306.5 214.5h0M312.8 232.8h0M335.7 234.6h0M334.8 234.5h0M287.1 214h0M331.9 244.4h0M331 244.2h0M318.1 187.7h0M320.8 211.3h0M339.2 223.6h0M339 224.4h0M338.8 225.3h0M303 222.7h0M302.7 221.9h0M331.6 182.8h0M318.4 252.6h0M317.7 253.2h0M316.9 253.7h0M302 241.6h0M302.9 241.6h0M308.8 224.3h0M308.2 224.9h0M307.6 225.6h0M287 174.4h0M273.2 233.5h0M266.2 188.6h0M265.6 188h0M316.5 174.1h0M300.1 176.9h0M303.1 173.2h0M302.3 173.5h0M306.6 215.8h0M262.9 223.8h0M262 224h0M278.6 192.8h0M268.7 198.4h0M267.8 198.4h0"/>
<path stroke="#3fb07a" stroke-width="2.6" d="M61.2 216.3h0M24.6 261h0"/>
<path stroke="#2a788e" stroke-width="2.6" d="M62.1 222.1h0M33 237.7h0M199.5 212.1h0M170.4 222.1h0M294.6 178.6h0"/>
<path stroke="#6cc55a" stroke-width="1.8" d="M42.9 219.6h0M188.7 177h0M187.8 177.2h0M201 181h0M196.6 200.1h0M195.6 201.5h0M195 200.9h0M197.5 201.9h0M216.4 211.7h0M218.2 212.3h0M144.5 223h0M144.2 219.9h0M163.4 221.3h0M163.4 221.8h0M200.5 226.2h0M200.4 221.9h0M202.1 226.5h0M199.5 224.3h0M200.4 225.7h0M184.6 230.6h0M151.1 253.9h0M151.9 252.7h0M153 253.9h0M153 252.6h0M207.4 252.1h0M205.3 249h0M171.3 256.8h0M171.8 257.7h0M172.2 256.3h0M204.7 271.4h0M250.5 194.4h0M250.7 194.4h0M250.1 195.5h0M249.5 195.1h0M320.4 203.8h0M286.1 216.2h0M282.2 230.4h0M296.3 203.8h0M305.9 257.5h0M305 257.2h0M301.2 218.6h0M300.3 218.5h0M299.4 218.5h0M327.5 249.6h0M294.2 226.5h0M334 241.5h0M305.8 246.3h0M259.9 207h0M314.1 214.4h0M256.4 260.9h0M294.3 197.4h0M293.8 196.6h0M296.8 232.2h0M286.9 210.3h0M296.5 219.3h0M264.8 217.6h0M265.6 217.9h0M311.2 266.6h0M335.7 172.9h0M335.2 172.1h0M334.6 171.4h0M315.4 207.4h0M320.5 214.6h0M308.6 215.3h0M264.1 227.2h0M314 226.6h0M320.8 195.7h0M320.1 195.1h0M319.5 194.4h0M299.2 210.8h0M298.9 211.7h0M279.3 201.4h0M328.5 232.9h0M327.8 233.5h0M268.2 194.9h0M268.4 195.8h0M285.2 187.1h0M285.5 186.8h0"/>
<path stroke="#6cc55a" stroke-width="1.6" d="M42.5 220.3h0M42.2 220.1h0M20 216.4h0M21 216.7h0M22.7 217.2h0M20.4 214.9h0M18.1 212h0M218.3 197h0M219 210.9h0M219.5 210.5h0M145.4 223.9h0M144.4 221.4h0M143.4 222.1h0M165.2 221.3h0M200.7 225.5h0M203.3 223h0M188.2 231.6h0M206.8 251.2h0M206.5 250.4h0M170.5 255.8h0M218 260.2h0M217.1 261.1h0M204.1 270.8h0M204.6 271.1h0M312.8 193.1h0M310.2 240.1h0M289.9 241.9h0M300.4 237.9h0M301.2 237.5h0M313.8 190.5h0M268 208.8h0M293.6 175h0M267.5 185.5h0M267.9 186.3h0M338.7 211h0M286.2 210.4h0M321.6 210.8h0M321.1 211.6h0M320.5 212.3h0M319.4 192.1h0M319.9 192.9h0M329.6 228.1h0M252.6 222.4h0M294 176.5h0M294.1 177.4h0M279 197.3h0M279 198.2h0M278.9 199.1h0M278.4 238h0M278.1 238.9h0M333.5 233.4h0M332.6 233.5h0M267.1 219.7h0M274.6 212.8h0M324.2 214.4h0M323.3 214.4h0M246.8 176.2h0M247.5 175.6h0M311.3 210h0M270.1 196.3h0M269.9 195.4h0M288.7 213.9h0M297 231.2h0M296.1 231.3h0M295.2 231.3h0M256.4 240.1h0M255.5 240.2h0M281.9 241.7h0M326.7 247.1h0M284.5 230.7h0M293 262.2h0M293.7 262.6h0M327.9 216.7h0M311.4 204.1h0M308.9 182.4h0M259.8 242h0M260.3 241.2h0M316.2 242.6h0M300.5 210.1h0M304 195.7h0M317.5 241.1h0M336 182.2h0M336.7 181.7h0M265.9 220.2h0M323.7 234.6h0M259.6 237.1h0M280.9 213.4h0M280.2 212.7h0M304.2 205.1h0M254.3 262.6h0M261.4 192.5h0M297.3 219.5h0M278 233.9h0M278.2 234.8h0M264.2 218.7h0M316.4 249.4h0M331.9 192.1h0M331.3 191.4h0M299.7 204.3h0M300.6 204.1h0M301.5 203.9h0M323.8 187.4h0M323.9 188.3h0M285.8 186.2h0"/>
<path stroke="#a8ca44" stroke-width="1.4" d="M51.3 219.6h0M227 192h0M184.6 213h0M162.1 256h0M217.8 270.1h0M292.8 234.2h0M299.1 177.2h0M298.6 177.9h0M298.1 178.7h0M328.3 240.9h0M328 241.7h0M327.6 242.6h0M295.7 247.6h0M295.1 248.3h0M330.4 190.1h0M331.3 190.4h0M336.1 240.7h0M299.9 244.9h0M315.4 175.9h0M313.7 175.5h0M267.1 202.2h0M267.9 202.6h0M274.4 203h0M297.5 200.9h0M297.6 200h0M334.6 255.4h0M334.2 256.1h0M270.2 224h0M270 223.1h0M292.7 209.7h0M292.9 210.5h0M274.8 211.2h0M274.4 234.9h0M275.3 235.1h0M268.8 199.3h0M268.8 198.4h0M306.2 250.8h0M305.4 251.1h0M297.4 197.3h0M339.4 251.2h0M340 250.5h0M279 200.9h0M279.9 200.9h0M263 173.6h0M262.1 173.9h0M328.6 231.4h0M329.5 231.6h0M293 215.6h0M318.1 232.1h0M269.6 193.3h0M284.8 256.5h0M282.3 227.4h0M300.7 175.6h0"/>
<path stroke="#2c6f8e" stroke-width="1.4" d="M77.1 215.5h0M196.2 183.6h0M153 199.7h0M157.9 219.6h0M206.2 231.3h0M172.9 238.5h0M183.7 243.2h0M176.7 218.7h0M271.3 223.9h0M273.7 174h0M274 175.8h0M279.7 245.1h0M267.5 234.3h0M267.9 232.6h0M340.1 255.8h0M340.3 254.9h0M328.2 263.1h0M320.7 206.4h0M320.5 205.5h0M320.3 204.7h0M284 187.3h0M285.8 207.5h0M295.6 206.8h0M294.9 206.2h0M305.5 257h0M291.9 191.4h0M304.9 219.8h0M316.5 204.8h0M315.9 205.5h0M312.6 235.9h0M261.4 213.9h0M268.3 203.1h0M267.6 203.7h0M279.3 206.8h0M278.5 206.4h0M277.7 206h0M281 224.3h0M264.3 186.5h0M296.6 261.4h0M297.1 262.1h0M297.7 262.8h0M310.1 269.5h0M309.8 268.7h0M331.3 228.3h0M266.5 203.8h0M291.3 214h0M290.5 214.3h0M299.9 255.6h0M299 255.6h0M269.8 211.9h0M285.2 230.3h0M276.8 191.2h0M277.7 191.3h0M278.6 191.5h0M268 210h0M267.9 210.9h0M322.3 198.2h0M321.7 199.9h0M269.5 209.6h0M320 229.9h0M320.6 230.6h0M292.3 200.7h0M285.3 181.4h0M285.9 180.8h0M287 257h0M286.2 257.5h0M250.9 208.1h0M250.6 207.2h0M288.7 197.8h0M316.3 210.7h0M325.4 204.1h0M295.6 249.4h0M311.6 209.4h0M309.8 215.6h0M293.5 231.9h0M324 226.7h0M253.1 242.8h0M312 174h0M311.7 173.2h0M303.2 270.9h0M292.8 232.2h0M292.9 231.3h0M292.9 230.5h0M269 192.7h0M268.3 192h0M340.5 235h0M339.9 235.6h0M324.2 203h0M323.4 202.6h0"/>
<path stroke="#46186a" stroke-width="1.4" d="M30.5 218.8h0M48.8 228h0M43.8 250.1h0M49.6 253.5h0M62.9 248.5h0M66.2 246.8h0M99.5 239.3h0M177.1 184.5h0M187.1 185.3h0M153 191.1h0M182.1 204.7h0M196.2 228.8h0M185.4 258.5h0M109.3 214.7h0M297.8 232.5h0M293.9 248.2h0M306.9 211.4h0M296.2 218.9h0M330.5 211.6h0M329.6 211.5h0M328.7 211.5h0M296.9 214.7h0M297.8 214.7h0M255.3 207.4h0M254.4 207.3h0M253.5 207.3h0M262.7 228.6h0M263.5 228.2h0M302.3 244.1h0M319 244.9h0M319.9 245.3h0M264.2 233h0M317.2 210h0M308.1 201.1h0M301.3 206.8h0M275.2 206.1h0M334.6 247.5h0M279.3 209.7h0M289.3 201.8h0M327.8 183.8h0M328.6 184.1h0M268.6 178.5h0M269.1 177.8h0M269.7 177.1h0M287.3 210.9h0M303.6 196.5h0M304 195.7h0M284.8 203.9h0M276.6 226h0"/>
<path stroke="#d4d82e" stroke-width="3.2" d="M70.4 231.3h0M301.2 175.3h0"/>
<path stroke="#6cc55a" stroke-width="1.4" d="M47.9 223h0M217.8 261h0M204.5 270.9h0M222.5 220h0M187.5 237.5h0M288.7 180.2h0M311.1 200h0M311 200.9h0M278.5 206.7h0M273.5 229h0M269.7 218.1h0M270.3 218.8h0M312.1 197.9h0M312.1 196.1h0M266.6 267.5h0M266.3 268.4h0M282.5 269.5h0M269 218.9h0M269.3 219.8h0M254.4 235.2h0M322.2 205h0M282.7 218.6h0M288.3 239.2h0M288.5 238.3h0M323.5 221.2h0M325.1 213h0M266.5 173.6h0M275.4 189.6h0M326.1 242.1h0M263.8 233.8h0M274 252h0M273.2 190.6h0M272.4 190.2h0M271.6 189.8h0M293.6 208.6h0M293.3 207.8h0M292.3 182h0M288.6 222.8h0M301.2 207.9h0M262.3 193.1h0M263.1 193.4h0M270.8 210.8h0M286.6 196.7h0M314.4 197.8h0M255.5 252h0M255.3 251.1h0M323 191.9h0M283.5 211.5h0M243.1 218.9h0M300.6 225.7h0M299.9 225.2h0M276.9 211h0M276.1 211.3h0M309.6 228.5h0M309.3 227.6h0M309.1 226.8h0M324.2 225.8h0M288 172.9h0M293.5 197h0M327.5 196.5h0M328.2 197.2h0M298.2 247.2h0M298.5 248h0M289.3 222.6h0"/>
<path stroke="#25858e" stroke-width="1.4" d="M34.6 248.5h0M74.6 236.8h0M166.3 187h0M210.4 198.8h0M155.4 214.6h0M176.2 213.8h0M173.7 223h0M152.1 233.8h0M162.9 243.5h0M220.3 238.5h0M73.8 234.7h0M87.1 243.8h0M185 233.2h0M202.7 255.1h0M204.7 251h0M281.3 182.6h0M288.5 181.1h0M263.9 253h0M263.1 253.5h0M329.1 222.9h0M303.5 260.9h0M313.5 203.1h0M303.1 190h0M297 187h0M298.8 186.6h0M318.2 199.8h0M282.5 181.5h0M263 247.3h0M262.7 248.1h0M262.5 249h0M292.5 244.6h0M306.8 255.8h0M306.1 256.4h0M290 234.7h0M293.3 189.5h0M292.4 189.6h0M291.5 189.6h0M311 205.3h0M310.4 204.5h0M261.2 256.7h0M260.4 256.2h0M259.7 255.7h0M266.3 174h0M281.7 222.6h0M281.3 223.5h0M275.2 256.5h0M275.7 257.2h0M276.2 257.9h0M280.3 243.8h0M316.9 254.8h0M278.6 235.8h0M336.9 197.1h0M337.2 197.9h0M337.6 198.8h0M325 177.1h0M291.8 202.9h0M269 213.5h0M323.6 218.4h0M290.3 196.2h0M291.1 196.6h0M262.7 215.1h0M287.4 242.8h0M261.6 187.4h0M303.9 196.6h0M321.2 187.9h0M269.1 211.4h0M290.4 176.3h0M323.2 190h0M322.3 189.9h0M293.2 191.6h0M292.1 217.3h0M259.2 210.6h0M259 211.5h0M334.4 168.8h0M297.3 245h0M275.9 229.9h0M304.4 230.8h0M303.5 231.2h0M278.8 200.4h0M299.4 240.1h0M300 239.4h0M296.4 202.9h0M306.2 217.4h0M307 217.8h0M260.4 224.8h0M261.3 224.8h0M282 250.9h0M281.7 252.6h0M307.6 213.2h0M304.2 185.2h0M304.1 184.3h0M331.9 224.8h0M285.7 269.2h0M286.3 269.8h0M255.1 210.2h0M255.7 210.9h0M280.2 201.4h0M284.6 196.9h0M284.3 196.1h0"/>
<path stroke="#d4d82e" stroke-width="2.6" d="M39.6 252.6h0M186.2 182h0M189.6 203.8h0M310.4 185.3h0"/>
<path stroke="#35a87e" stroke-width="2.6" d="M55.4 256.8h0M171.3 184.5h0M210.4 259.3h0"/>
<path stroke="#46186a" stroke-width="2.6" d="M79.5 248.5h0"/>
<path stroke="#3e2a78" stroke-width="2.6" d="M81.2 256.8h0"/>
<path stroke="#1f968b" stroke-width="1.4" d="M86.2 247.6h0M157.1 190.3h0M162.9 257.6h0M206.2 255.1h0M45.4 206.5h0M51.8 221.8h0M204.4 232.5h0M192.6 234.7h0M336.2 227.1h0M336.5 227.9h0M283.5 253.4h0M282.9 252.8h0M325.5 233.4h0M325.7 234.3h0M298.9 221.9h0M290.1 217.5h0M258.3 223.3h0M248.8 253.5h0M280 179.2h0M290.9 234.4h0M327.1 206.4h0M261.1 178.2h0M311.5 206h0M335.6 195.9h0M343.8 214h0M342.9 214.2h0M273.6 231.1h0M316.7 228h0M316.2 227.2h0M315.8 226.4h0M333.6 218.9h0M332.7 219.2h0M281.2 223.4h0M297.3 193h0M298.2 192.9h0M299.1 192.9h0M281.7 212.9h0M282.3 212.2h0M254.1 247.3h0M253.7 248.2h0M253.4 249h0M329.2 186.4h0M316.3 209.8h0M275.2 207.3h0M314.9 254.9h0M327.3 223h0M329 183.2h0M309.3 197.8h0M310.1 197.6h0M311 197.4h0M286.7 252.9h0M303.5 195.8h0M335.1 235.2h0M334.6 236h0M295.4 193.1h0M296.2 193.6h0M307.6 218.4h0M307.4 219.2h0M316 198.2h0M315.2 197.8h0M314.4 197.4h0M313.3 220.2h0M314.2 219.9h0M304.5 243.5h0M305.1 242.7h0M333.1 212.9h0M324.5 211.1h0M323.6 210.9h0M312.6 257.9h0M311.7 258.2h0M310.9 258.6h0M262.1 243.7h0M262.2 244.6h0M262.3 245.5h0M310.3 247.5h0M280.3 199.3h0M258.1 234.4h0M282.9 239.8h0M296.3 200.6h0M297.2 200.7h0M272.1 215.3h0M312.9 227.4h0M312.1 227.6h0M307.7 254.3h0M307.5 253.5h0M254.3 244.9h0M253.5 244.4h0M252.7 244h0M254 243h0M285.7 249.7h0M286.4 250.3h0M287.1 250.8h0M311.7 178.5h0M312.6 178.8h0M285 188.8h0M305.2 240.3h0M329.8 223.8h0M329.8 224.7h0M288.5 222.8h0M294 178.8h0M295 178.8h0"/>
<path stroke="#35a87e" stroke-width="3.2" d="M91.2 249.3h0M227 215.5h0"/>
<path stroke="#c5d236" stroke-width="1.4" d="M182.9 169.5h0M184.6 232.1h0M151.3 241h0M293.7 168.7h0M187.2 216.8h0M289.2 220.3h0M262.3 173.1h0M262.8 172.4h0M263.4 171.7h0M254.1 240.5h0M253.3 240.9h0M300.4 245.6h0M300.9 246.4h0M319.4 205.2h0M318.9 205.9h0M318.4 206.7h0M246.4 197.2h0M247.3 197.4h0M312.2 184h0M298.1 239.9h0M304.2 206.8h0M275.3 224.8h0M271.3 256.5h0M271 257.4h0M312.8 237.9h0M312.5 237.1h0M311.5 172.7h0M327.9 192.8h0M298.4 251.6h0M298.1 250.8h0M336.8 219.1h0M315.7 265.3h0M316.6 265.1h0M283 245.7h0M337 178.1h0M330.1 250.4h0M275.7 226.2h0"/>
<path stroke="#52bd68" stroke-width="1.4" d="M190.4 201.3h0M297.9 186.8h0M273.6 229.9h0M282.2 242.5h0M283 242.3h0M285.3 204.5h0M284.4 204.7h0M283.5 204.8h0M312.1 197h0M279.6 236.4h0M279.4 237.3h0M285.4 217.4h0M311.3 213.1h0M334.4 218.6h0M324.3 220.8h0M308.3 256.9h0M276 210.4h0M276.9 210.2h0M277.8 210h0M324.3 176.6h0M263.6 215.4h0M306.6 197.8h0M293.9 209.5h0M314.5 232.8h0M296.1 227.6h0M306 182.1h0M290.1 262.8h0M290.4 261.9h0M280.8 188.3h0M307.4 261.4h0M327.4 180.9h0M308.7 216.3h0M309.5 215.9h0M286.4 199.1h0M287.1 199.7h0M298.8 240.8h0M311.9 232.7h0M270.1 181.7h0M306 173.7h0M288.4 262.6h0M288.8 263.4h0M315.5 205.2h0M316.3 204.9h0M293.5 230.3h0M308.9 263.5h0M296.6 247.1h0M297.3 246.6h0M298.1 246.1h0M319.6 226.8h0M320.2 226.1h0M320.8 225.5h0M285.5 204.4h0M305.1 214.9h0M305.8 215.4h0"/>
<path stroke="#6cc55a" stroke-width="2.6" d="M196.2 200.5h0M218.7 211.3h0M144.6 222.1h0M163.8 219.6h0M186.2 230.4h0M206.2 251h0"/>
<path stroke="#6cc55a" stroke-width="3.2" d="M201.2 223.8h0"/>
<path stroke="#c5d236" stroke-width="3.2" d="M146.3 237.7h0"/>
<path stroke="#3fb07a" stroke-width="1.4" d="M217 252.6h0M279.5 209.2h0M278.8 209.8h0M324.6 252.5h0M325.4 252.9h0M264.5 253h0M308.4 203.4h0M313.1 227.7h0M313.3 204h0M302.8 214.9h0M302.9 228.9h0M323.8 224.5h0M257.9 226h0M257 225.9h0M285.7 228.6h0M278.9 227.4h0M319.9 221.6h0M282.3 208h0M329.1 171h0M328.2 170.9h0M291.7 234.1h0M274.1 190.2h0M294.3 236.1h0M295.2 236h0M302.2 214.2h0M324.7 217h0M324.1 217.7h0M332 227.7h0M305.8 207.7h0M305.4 206.9h0M299.6 197.6h0M252.1 183.4h0M260.8 250.4h0M260.1 249.8h0M297.5 190h0M296.6 189.9h0M327.1 232.3h0M336.9 227.3h0M337.5 226.6h0M332.3 218.5h0M287.2 214.3h0M287.1 205.6h0M286.2 205.7h0M266.5 233.2h0M269.3 241.1h0M267.8 255.5h0M275 230.3h0M292.7 260.7h0M291.8 260.8h0M269.2 181.4h0M317 249.3h0M330.3 249.5h0M329.8 251.2h0M266.8 187.3h0M266.4 186.5h0M269.7 252.4h0M270.4 252.9h0M282.9 226.8h0"/>
<path stroke="#a8ca44" stroke-width="4" d="M344.5 182.8h0"/>
<path stroke="#a8ca44" stroke-width="1" d="M90.4 223.9h0M83.2 228.4h0M83.5 217.7h0M174.5 250.7h0"/>
<path stroke="#3e2a78" stroke-width="1.2" d="M69.1 222.9h0M59.9 244.1h0M80.9 223.6h0M89 207.4h0M173.9 226.6h0M157.3 212.3h0M197.3 201.6h0M291.3 199.5h0M335.8 190.3h0M252.2 218.4h0M319.2 197h0M283.7 254.8h0M283.3 255.6h0M283 256.5h0M296.1 221.6h0M295.5 220.9h0M324.4 182.8h0M323.5 183h0M304.1 227h0M267.9 230.1h0M293.4 232.9h0M293.3 232h0M338.6 185.7h0M292.1 216.5h0M292.9 217h0M293.7 217.5h0M304.3 192.8h0M304.4 193.7h0M311.8 218.7h0M311 218.2h0M285.4 239.7h0M325.2 227h0M292 192.8h0M262.5 236.6h0M298.7 194.7h0M285.7 191.9h0M307.9 252.1h0M320.5 215.3h0M315.6 233.9h0M314.9 234.5h0M308.1 206.5h0M309 206.2h0M285.2 204.2h0M311 241.2h0M292.9 214.7h0M303.9 210.5h0M314.4 201.1h0M321.2 178.1h0M321.7 177.4h0M322.1 176.6h0M269.5 189.1h0M286.2 242.7h0M287.1 242.9h0M288 243.1h0M273.7 194.4h0M273.2 195.1h0"/>
<path stroke="#35a87e" stroke-width="1.2" d="M64.3 229.3h0M177.8 224.8h0M258.8 222.6h0M299.6 243.1h0M293.3 177.5h0M323.9 179.3h0M289.6 201.6h0M319.8 193.3h0M263 196.2h0M262.1 196h0M287.7 238.5h0M287.2 237.8h0M289.1 246.9h0M289.7 247.5h0M305 226.8h0M326.4 203.8h0M326.7 204.6h0M327.1 205.4h0M295.5 198h0M319.3 259.4h0M319.3 260.3h0M294.3 219h0M344.9 201.1h0M312.8 178.6h0M281 173.3h0M280.2 172.8h0M279.4 172.4h0M318.9 176.2h0M318.5 175.4h0M268.4 208.9h0M254.1 255.3h0M253.3 255.1h0M330.3 243.2h0M330.8 242.5h0M292.8 216.2h0M263.1 214.1h0M263.1 213.2h0M257.2 189.6h0M286.3 218.2h0M325.2 224.7h0M322.4 241.4h0M273.1 192.8h0M273.9 192.4h0M283.8 232.3h0M257.2 243h0M257.7 242.3h0M306 258.9h0M331.5 257.6h0M284.5 233.4h0M285.4 233.2h0M286.2 233h0M315.9 237.6h0M315.8 236.8h0M315.6 235.9h0M253.7 237.6h0M311.8 230.2h0M313.9 259h0M313 258.7h0M294.5 202.6h0M295.2 203.1h0M295.9 203.6h0M294.4 251h0M333.8 213h0M334.3 213.7h0M334.9 214.5h0M296.6 224.7h0"/>
<path stroke="#3e2a78" stroke-width="1" d="M65 211.5h0M77.2 256.9h0M199.8 197.3h0M196.2 236.1h0M184.8 196.8h0M159.9 235.9h0M169.2 217.1h0M219.4 205.2h0M138.9 234.3h0M187.4 227.7h0"/>
<path stroke="#2c6f8e" stroke-width="1.2" d="M55.8 230.3h0M22.2 255.9h0M57.3 214.2h0M43 226h0M97.2 248.5h0M72 215.8h0M216.6 186.9h0M169 231.3h0M176.8 202.3h0M203.8 244h0M187.8 253.4h0M196.5 224.8h0M288 214h0M287.6 213.2h0M291.2 195.7h0M265.2 220h0M305.8 204h0M307.4 197.3h0M306.6 197.6h0M308.7 201.6h0M305.5 199.8h0M305.8 198.9h0M306.2 198.1h0M307.2 218.1h0M279 207.4h0M302.9 221.3h0M307.1 228.7h0M307.2 229.6h0M299.7 251.6h0M289.4 194.1h0M315.2 259.9h0M314.8 259.1h0M324.8 236.6h0M298.1 225.9h0M319.6 230.2h0M318.9 230.7h0M276.8 212h0M325 228.7h0M307.3 231.4h0M304.2 219.9h0M284.8 211.6h0M291.8 228.8h0M311.6 263.2h0M314.5 200.3h0M315.1 199.5h0M343.7 173.9h0M343.2 173.1h0M333.1 223.5h0M334.8 224h0M261.4 179h0M261.6 177.2h0M313.8 222.6h0M303.3 209.3h0M276.7 201.1h0M299.4 250.6h0M307.5 245.1h0M308 245.8h0M308.5 246.5h0M260.6 174.4h0M316.2 209.1h0M316.5 208.2h0M316.9 207.4h0M314 197h0M314.6 197.6h0M324.5 255h0M302.2 189.1h0M289.7 246.6h0M264.8 200.7h0M306.7 259.5h0M299.9 213.6h0M300.8 213.7h0M301.6 213.9h0M301.7 243.8h0M302.6 243.9h0M303.5 244.1h0M263.8 254.5h0M263 254.1h0M262.2 253.7h0M282.1 223.3h0M276.4 210h0M299.2 258.8h0M276.7 197.8h0M327.6 198h0M259.7 229.1h0M259.1 228.4h0M283.7 226.6h0M284.5 226.3h0M279.3 189.3h0M279.5 191.1h0M313.4 190.1h0M307.5 225.4h0M307.9 224.6h0M272.9 223.9h0M270 236.9h0M284 241.5h0M292.5 182h0M298.5 257.3h0M297.8 256.8h0M287.9 215.5h0"/>
<path stroke="#35a87e" stroke-width="1" d="M85.6 205.8h0"/>
<path stroke="#25858e" stroke-width="1" d="M83.1 224h0M33.4 224.7h0M59.2 228.4h0M59.6 224.7h0M33.9 205h0M38.3 221.9h0M68 197.2h0M34.5 222h0M56.2 215.3h0M54.5 213.7h0M130 217h0M196.3 235.6h0M184.3 245.9h0M177.8 235.8h0M187 247.1h0M194.2 207.8h0M187.8 244.3h0M173.1 237.8h0"/>
<path stroke="#482173" stroke-width="1.2" d="M78.6 221.9h0M88.5 233.3h0M117.5 245.9h0M46.4 181.4h0M58.5 243.7h0M61.3 202.5h0M44.4 217.8h0M166.1 211h0M136.2 240.1h0M167.8 213.1h0M150.9 201.6h0M204.6 226.4h0M151.2 215.8h0M299.2 243.9h0M291.3 202.2h0M290.4 201.9h0M302.9 210.7h0M300 255.8h0M299.1 255.7h0M294.4 198.4h0M294.3 216.2h0M294.9 215.6h0M295.7 196.1h0M296.1 195.4h0M264.3 230.3h0M264.1 229.4h0M274.8 221.4h0M321.3 222.1h0M316.2 185.2h0M316.8 251.4h0M271.3 224.9h0M297.3 241.1h0M296.6 240.5h0M337.6 194.3h0M338.5 194.4h0M295.9 177.3h0M326.7 184.2h0M327.6 184.1h0M334.8 228.5h0M291.6 244.9h0M290.8 245.2h0M320.5 244.9h0M319.6 244.9h0M273.7 215.3h0M274.1 202.1h0M268.6 224.3h0M315.9 228.5h0M329.2 185h0M282.9 230.4h0M312.5 190.2h0M316.2 229.5h0M295.6 221h0M273 205h0M274.2 193.7h0M315.1 258h0M296 201.8h0"/>
<path stroke="#6cc55a" stroke-width="1" d="M48.6 201.7h0M103.8 182.1h0M162 263.3h0"/>
<path stroke="#52bd68" stroke-width="1.2" d="M95.2 248.1h0M28.2 224.9h0M182.7 208.3h0M290.4 199.8h0M253.3 191.4h0M269.7 219.4h0M305.6 180.2h0M296 188.4h0M309 253.5h0M295.5 243.6h0M294.7 243.2h0M335.4 242.4h0M321.1 208.9h0M289.7 228.9h0M257.1 180.6h0M263.6 232h0M263.3 232.9h0M332.8 205.1h0M275.5 195.1h0M338.7 219.9h0M272.8 225.9h0M316.4 215.2h0M269.4 239.1h0M268.6 239.1h0M267.7 239.2h0M301.2 196.2h0M300.4 196.7h0M294.5 235.8h0M292.8 236.1h0M295.9 240h0M311.3 250.9h0M311.1 251.8h0M333.5 228.7h0M261.5 181.2h0M260.8 181.8h0M339.8 181.3h0M263.6 188h0M274.8 232.8h0M295.8 197.7h0M274.7 186.2h0M274.5 187.1h0M274.3 188h0M295.9 242h0M303.5 225.5h0M289.3 224.1h0M294.8 189.5h0M294.7 188.6h0M268.2 225.1h0M267.7 180.2h0M297.6 237.8h0M283.4 238.3h0M294.2 221.8h0M292.7 222.8h0M330.2 237.3h0M279.5 206h0M279.5 205.1h0M279.5 204.2h0M248.8 226.3h0M247.9 226.6h0M328.4 170.7h0M310.8 230h0M311.5 229.5h0M300.4 200.5h0M301.2 200.8h0M284.5 193.4h0M271.3 229.3h0M270.5 229.7h0M328.7 257.1h0M292.9 227.1h0M292.1 226.9h0M327.4 196.9h0M326.6 197.2h0M270.7 174.8h0M270.4 175.7h0M318.8 241h0M273.4 265.9h0M274 265.2h0M274.5 264.5h0M281.3 189.1h0"/>
<path stroke="#2c6f8e" stroke-width="1" d="M98.5 201.2h0M179.7 222.6h0M194.7 223.3h0M181.4 246.5h0M169.9 183.2h0M220.1 218h0M165.3 207.1h0M182.8 193.8h0M202.2 235.7h0"/>
<path stroke="#46186a" stroke-width="1" d="M41.9 217.1h0M43.3 261.7h0M27.8 253.5h0M98.5 229h0M99.8 192.9h0M179.6 206.5h0M204 204.9h0"/>
<path stroke="#2a788e" stroke-width="1" d="M98 208.1h0M73.3 210.4h0M67.4 233.6h0M74.1 218.6h0M97.4 230.6h0M170.7 224.7h0M214.5 233.7h0M203 233.7h0M189.7 222.7h0"/>
<path stroke="#482173" stroke-width="1" d="M54.5 217.7h0M75.4 222.2h0M88.1 245.7h0M94.2 216.4h0M73.7 211h0M64.6 197.2h0M158.4 226.8h0M190 191.5h0M173.8 256.6h0M225.1 184.7h0"/>
<path stroke="#1f968b" stroke-width="1" d="M64.2 226.4h0M70.3 204.3h0M59.2 233.6h0M85.7 224.9h0M59.9 239.4h0M191.5 266h0M145.6 219.5h0M183.6 218.5h0"/>
<path stroke="#c5d236" stroke-width="1" d="M61.5 218.5h0M147.3 197.3h0M156.2 213.8h0"/>
<path stroke="#d4d82e" stroke-width="1" d="M59.5 183.7h0M140.3 187.6h0M216.8 215.5h0"/>
<path stroke="#52bd68" stroke-width="1" d="M84.5 206.8h0M54.7 206h0M198.9 205.6h0M193 216.5h0"/>
<path stroke="#1f968b" stroke-width="1.2" d="M78.8 190.2h0M32.7 184.3h0M72.5 199.3h0M61.2 226.6h0M61.8 223.3h0M59.2 214.6h0M77.4 168.8h0M95.8 191.1h0M181.8 215.2h0M222.3 226.2h0M316.4 225h0M317.3 224.9h0M318.2 224.7h0M324.6 179.7h0M323.2 225.4h0M285.8 209.7h0M265.3 252h0M279.1 191h0M313.1 217.7h0M300.1 224h0M271.1 215.6h0M276 228.5h0M276.3 229.3h0M280.9 194h0M249.5 211.8h0M250.3 210.2h0M294 231.7h0M294.8 231.2h0M285 210.8h0M333.9 223.7h0M258.1 243.1h0M312.7 219.5h0M312.2 220.2h0M304.2 218.3h0M318.3 224.8h0M301.7 254.6h0M301.5 255.5h0M269.5 184.3h0M277.9 184h0M264.8 224.1h0M264.7 223.2h0M310.5 185.1h0M311.2 184.6h0M325.4 214.9h0M259.6 245.1h0M270.6 234.3h0M307.9 187.3h0M307.2 187.8h0M264.8 247.1h0M298 230.3h0M267.7 209.2h0M284 213.7h0M326.4 235.4h0M325.6 235.1h0M324.7 234.8h0"/>
<path stroke="#b8ce3c" stroke-width="1" d="M45.7 236.1h0M82.6 257.8h0"/>
<path stroke="#46186a" stroke-width="1.2" d="M56.5 235h0M48.1 228.3h0M197.4 205h0M222.6 224.4h0M200.1 246.8h0M203.1 195.6h0M175.8 221.3h0M196.7 239.4h0M189.8 243.9h0M189.8 185.6h0M289.5 245.9h0M288.8 246.4h0M300.3 178.9h0M299.4 179h0M315.1 189.6h0M316 189.4h0M289.4 183.9h0M289.8 183h0M290.1 182.2h0M309.3 217h0M308.5 216.5h0M323.2 256.1h0M322.3 256.1h0M321.4 256.1h0M278.3 173.5h0M278.9 172.9h0M317.7 246.6h0M286.3 218.3h0M287.1 217.9h0M269.4 229.3h0M268.6 228.9h0M267.8 228.5h0M274 250.6h0M273.1 250.3h0M339.1 249.3h0M267 229.9h0M283.7 190.2h0M284.5 190.4h0M296.8 199.8h0M296.1 199.2h0M295.5 198.5h0M286.8 185h0M286.6 185.9h0M313.7 178.8h0M327.5 215.1h0M299.1 186.6h0M299.7 270.9h0M272 225.4h0M288.5 214.3h0M289.3 213.9h0M280.6 205.3h0M280.3 204.4h0M313.1 210.5h0M290.9 228.8h0M290 228.7h0M275.4 246.7h0M325.4 227.9h0M325.3 213.4h0M262.7 206.4h0M269.4 197.3h0M268.5 180.1h0M324 251.4h0M323.2 251.7h0M255.1 223.9h0M317.6 219.8h0M317.4 220.7h0M317.3 221.6h0M330.9 176.9h0M273.6 223.4h0M281.4 217.8h0M277.7 249.6h0M291.3 214.5h0M291 213.7h0M336.8 242.2h0M271.6 214.3h0M271.1 215h0"/>
<path stroke="#6cc55a" stroke-width="1.2" d="M47.1 259.4h0M65.5 224h0M91.5 216.2h0M69 200.7h0M203.4 227.9h0M274.5 228.3h0M292.8 190.2h0M292.3 189.5h0M323.5 224.3h0M276.1 204.6h0M308.7 212.3h0M310.1 211.1h0M318.7 198.9h0M309.1 220.6h0M309.4 219.8h0M287.6 209.4h0M286.7 209.5h0M277.7 214.6h0M278.1 213.8h0M317.8 244.4h0M263 233.7h0M272.5 243.6h0M271.6 243.7h0M319 190.1h0M319.9 190.3h0M299.2 220.5h0M299.2 236.4h0M300 236.1h0M300.9 235.8h0M298.2 225h0M286.5 186.8h0M328.4 214.9h0M279.8 211.7h0M279.8 212.6h0M326.2 188h0M327.1 187.6h0M264.2 255.2h0M340.6 210.9h0M261.7 220.1h0M260.8 220.1h0M338.6 247.9h0M338 248.5h0M258.4 242.3h0M272.9 244h0M266.9 189.2h0M284.1 236.5h0M314.4 211.3h0M321 253.8h0M321.6 254.4h0M303.3 215.9h0M262.5 205.6h0M315.7 185.9h0M316.1 186.7h0M253.3 227.6h0M253.8 228.3h0M254.4 229h0M292.6 213.1h0M292.5 214h0M287.7 260.5h0M309.7 169.4h0M310.3 170.1h0M310.8 170.8h0M303.8 247.5h0M316.1 227.7h0M343.3 235.8h0M342.7 235.1h0M322 230.9h0M323.7 230.3h0M311 200.4h0M285.8 221.8h0M285.1 221.2h0M337.6 241.7h0M285.4 187h0"/>
<path stroke="#a8ca44" stroke-width="1.2" d="M47 227.5h0M145.5 230.9h0M278.3 186.5h0M312.1 200.3h0M297.1 205.7h0M296.9 206.6h0M249.8 198.3h0M295.2 219.3h0M281.7 258.1h0M329.4 219.1h0M329.9 219.9h0M330.3 220.6h0M282.3 202.7h0M282.4 203.6h0M293.6 236h0M296.4 238.1h0M296.7 238.9h0M322.9 185.5h0M310 181.8h0M310.9 182h0M276.8 253.3h0M264.9 250.6h0M318.3 254.6h0M258.5 227.7h0M283.5 221h0M284.2 220.4h0M279.4 190.2h0M273.3 217.5h0M272.8 216.7h0M284.7 242.1h0M313.2 220h0M323 231h0"/>
<path stroke="#b8ce3c" stroke-width="1.2" d="M53.4 198.8h0M29.2 204.1h0M179.3 204.5h0M288 229.3h0M287.2 229h0M314.9 243.6h0M254.2 191.8h0M305.3 182.9h0M306.1 183.3h0M311 237.2h0M310.8 238.1h0M310.7 239h0M281.3 244.3h0M303 191.2h0M283.6 233.3h0M304.3 206.3h0M304.9 220.5h0M288.4 233.8h0M307.4 248.4h0M262.7 186.5h0M263.1 187.3h0M295 262.3h0M295.8 261.8h0M290.1 258.1h0M289.2 258.4h0M283.1 231.7h0M269.7 219h0M268.8 219.2h0M267.9 219.4h0M334.7 228.6h0M270.3 184.6h0M323.4 247.9h0M324 247.2h0M278.2 229h0M311.2 230.9h0M310.4 260.6h0M311 259.9h0M311.6 259.2h0M273.7 205.5h0"/>
<path stroke="#3fb07a" stroke-width="1" d="M69.7 187.1h0M56.6 199.1h0M211.7 189.7h0"/>
<path stroke="#3fb07a" stroke-width="1.2" d="M88.9 204.9h0M35.1 204.3h0M328.2 184.8h0M317.3 204.1h0M316.7 204.7h0M323.1 178.8h0M311.4 198.9h0M318.4 197.2h0M318.5 198.1h0M281.9 216.5h0M279.7 208h0M316.2 176.7h0M334.2 183.2h0M335.1 183.2h0M336 183.3h0M285.2 219.5h0M287.8 220.1h0M311.8 193.8h0M312.7 215.1h0M285.9 212.1h0M294.2 244.7h0M305.9 227.5h0M305.2 226.9h0M288.7 234.6h0M288.1 232.9h0M258.6 236h0M258.3 236.8h0M290 247h0M299.3 254.3h0M261.5 178.1h0M323.6 235.7h0M273.3 231.7h0M274 232.3h0M317.8 251.5h0M318.7 251.7h0M319.6 251.8h0M282.9 203h0M282.4 202.3h0M281.8 201.6h0M259.9 173.9h0M318.1 219.7h0M326.5 206.8h0M293.9 223.1h0M294.5 228.7h0M294.8 229.6h0M295.2 230.4h0M254.7 194.4h0M317.4 254.4h0M327.3 220h0M284.7 238.7h0M322.9 230.6h0M327.9 264.6h0M271.8 265.8h0M271.1 265.2h0M270.5 264.6h0M269.7 234.3h0M268.8 234.3h0M301.8 252.5h0M301 252.2h0M332.4 185.6h0M273.2 167.9h0M272.5 168.5h0"/>
<path stroke="#c5d236" stroke-width="1.2" d="M56.2 225.3h0M300.3 235.1h0M287.7 240.4h0M317.6 230.1h0M309.4 211.7h0M312.4 263.4h0M302 210.6h0M316.2 221.8h0M313.7 236h0M292.4 189.4h0M292.7 190.3h0M264.4 251.8h0M249.9 197.5h0M301.1 208.1h0M297.2 241h0M277.1 250.6h0M262.8 223.1h0M339 181.7h0M265.4 251.4h0M330.8 204.1h0M331.6 204.5h0M294.7 240.9h0M295 240h0M295.2 239.2h0M284.2 214.7h0M284.2 213.8h0M309.8 205.9h0M339.7 210h0M269.8 243.2h0M273.5 193.6h0M272.7 193.7h0M266.8 219.7h0"/>
<path stroke="#25858e" stroke-width="1.2" d="M93.2 212.8h0M199 234h0M174 201.4h0M298.7 179.3h0M297.9 178.8h0M290.3 245.5h0M301.2 178.8h0M290.9 177.2h0M291.4 176.4h0M312.6 231.8h0M312.3 232.7h0M312 233.5h0M299.2 182.7h0M334.6 242.1h0M287.9 193.6h0M287 193.3h0M290.5 231.6h0M287.9 243.1h0M279.5 172.2h0M300.2 249.3h0M299.8 250.2h0M294.4 213.6h0M264.6 209.4h0M308.4 195.9h0M309.3 196.1h0M316 225.6h0M292.7 243.6h0M300.2 223.7h0M277 181.6h0M277.8 181.8h0M305.1 206.8h0M286.7 241.2h0M316.4 252.2h0M324.8 229.5h0M324.6 230.4h0M312.7 229.1h0M268.4 233.8h0M249.9 211h0M323.6 184.9h0M324.3 184.4h0M307 241.9h0M277.2 231.6h0M279 257.3h0M315.7 186.1h0M314.9 186.5h0M334.8 246.8h0M293.9 201.8h0M293.8 200.9h0M277 231.1h0M276.9 232h0M306.6 202.7h0M286.4 219.1h0M299.5 182.5h0M300.4 182.4h0M349.8 252.3h0M313 195.6h0M312.8 194.7h0M320.3 255h0M303.4 217.9h0M273 214.7h0M274.3 216h0M303.1 234.7h0M303.2 233.8h0M331.8 206.4h0M326.4 201.5h0M292.7 212.2h0M274.7 226.9h0M298.8 236.5h0M298.2 237.1h0M293.5 222.3h0M302.9 247.7h0M290.4 254.8h0M290.8 254h0M291.2 253.2h0M277.6 251.1h0M277.7 208.8h0M278.6 209h0M326.2 215.3h0M318 231.2h0M260 245.1h0M319.6 240.6h0M290.7 212.8h0M281.6 188.3h0M259 224.7h0M258.9 223.8h0M258.9 222.9h0M323.9 212.9h0M319.7 205h0"/>
<path stroke="#2a788e" stroke-width="1.2" d="M94.5 189.8h0M181.1 218.6h0M177.7 219.1h0M187.4 199.1h0M162.1 204.1h0M132.5 227.8h0M203.8 200.8h0M181.1 230.1h0M159.7 213.6h0M318.3 229.5h0M277.3 236.4h0M278.2 236.1h0M314.6 235.9h0M303.1 250.7h0M302.3 250.2h0M302 221.2h0M318.7 244.5h0M305 187.3h0M307.3 257.1h0M271.4 249.8h0M278.2 191.1h0M264.3 250.5h0M273.9 176.1h0M274.8 176.3h0M309.4 247.2h0M344.2 201.6h0M345.6 200.5h0M271.4 216.4h0M308.4 208.2h0M308.8 209h0M309.2 209.8h0M281.2 195.7h0M281 194.8h0M292.9 234.3h0M268.7 233h0M294.6 201.2h0M294.4 200.4h0M273.1 240.7h0M272.3 241h0M270.6 205.8h0M270.3 210.1h0M255.1 177.6h0M256 177.3h0M294.2 228.9h0M334.7 228.3h0M320.6 199.7h0M269.8 214.1h0M269.1 213.5h0M268.5 212.8h0M302.7 217.4h0M326.5 205.9h0M301.6 227.8h0M301.2 227h0M266.8 208.6h0M301 208.7h0M301.6 209.4h0M302.1 210.1h0M304.9 201.2h0M305.8 201.3h0M306.7 201.3h0M265.3 201.4h0M297.8 257h0M298.5 257.6h0M287.5 200.1h0M301.5 198h0M300.6 198.4h0M299.8 198.8h0M331 236.8h0M302.7 230.3h0M318.4 245.9h0M319.1 245.4h0M319.8 244.8h0M299.3 229h0M298.7 229.6h0M332.7 184.8h0M312.8 220.8h0M291 204.2h0M318.9 204.8h0M293.6 215.6h0M294.5 215.5h0"/>
<path stroke="#d4d82e" stroke-width="1.2" d="M286.3 228.8h0M320.7 262.8h0M319.9 262.4h0M329.6 253.2h0M306.2 250.6h0M315.4 235.7h0M303.8 247.1h0M257.1 179.7h0M277.3 215.4h0M312.6 238.3h0M313.3 238.9h0M314 239.5h0M333.2 194.6h0M298.1 240.6h0M298.9 240.3h0M258.4 248.4h0M260.4 216h0M277.4 218.6h0M263.3 236.3h0M303.8 210.1h0M327.4 248h0M326.6 248.5h0M325.9 249h0M315.2 185.2h0M307.3 260.2h0M281.8 169.2h0M282.6 169.7h0M283.3 170.2h0M329.2 254.5h0M329.1 253.6h0M292.8 198.3h0M300.4 202.6h0M299.6 203h0M298.9 203.4h0M294.8 250.2h0M282.8 205.4h0M296.7 225.6h0"/></g>
<text x="9.3" y="283.4" font-size="9" font-family='"Liberation Sans", sans-serif'><tspan font-family='"Liberation Serif", serif' font-style="italic" font-size="9.6">γ</tspan>=0.01</text>
<text x="126.3" y="283.4" font-size="9" font-family='"Liberation Sans", sans-serif'><tspan font-family='"Liberation Serif", serif' font-style="italic" font-size="9.6">γ</tspan>=0.02</text>
<text x="243.3" y="283.4" font-size="9" font-family='"Liberation Sans", sans-serif'><tspan font-family='"Liberation Serif", serif' font-style="italic" font-size="9.6">γ</tspan>=0.08</text>
</svg>
</body></html>
